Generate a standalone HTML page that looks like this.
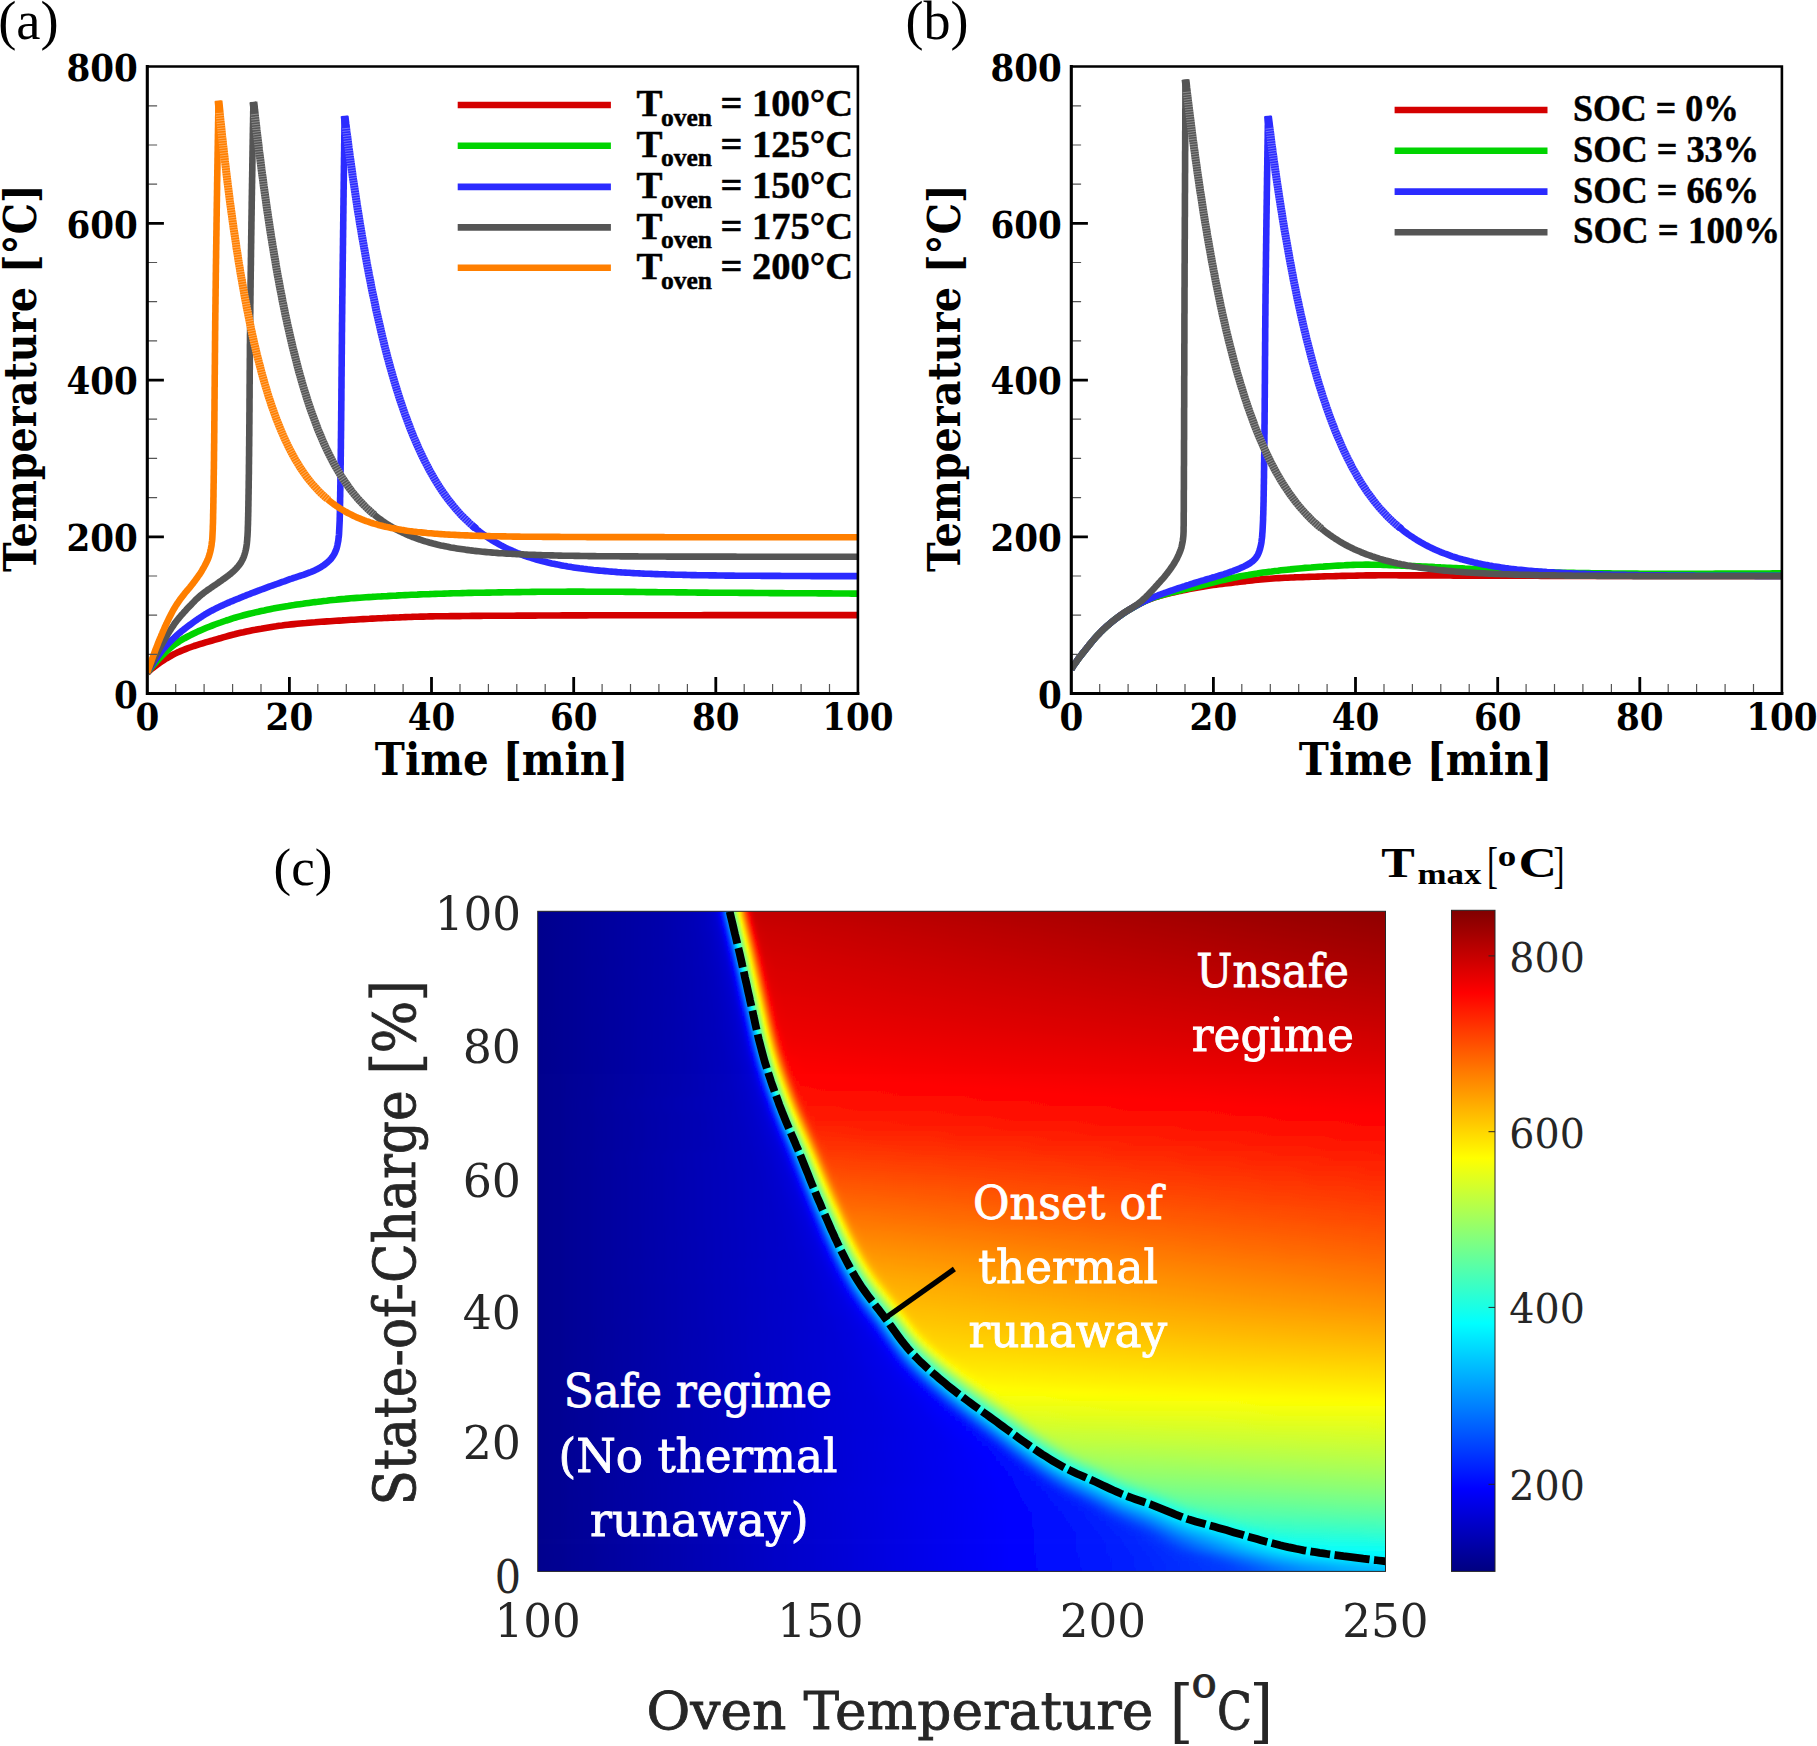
<!DOCTYPE html>
<html><head><meta charset="utf-8"><title>Figure</title>
<style>html,body{margin:0;padding:0;background:#fff}svg{display:block}</style></head>
<body><svg width="1817" height="1746" viewBox="0 0 1817 1746">
<rect width="1817" height="1746" fill="#fff"/>
<defs><clipPath id="c147"><rect x="147.3" y="66.5" width="710.6" height="627.0"/></clipPath>
<clipPath id="c1071"><rect x="1071.3" y="66.5" width="710.6" height="627.0"/></clipPath>
<linearGradient id="h0"><stop offset="0" stop-color="#00008d"/><stop offset=".1439" stop-color="#0000ab"/><stop offset=".184" stop-color="#0000b8"/><stop offset=".1982" stop-color="#0000c1"/><stop offset=".2076" stop-color="#0000ce"/><stop offset=".21" stop-color="#0000d5"/><stop offset=".2123" stop-color="#0000e2"/><stop offset=".2147" stop-color="#0000f8"/><stop offset=".217" stop-color="#001cff"/><stop offset=".2194" stop-color="#004aff"/><stop offset=".2265" stop-color="#00efff"/><stop offset=".2288" stop-color="#2affd5"/><stop offset=".2359" stop-color="#d5ff2a"/><stop offset=".2383" stop-color="#fff000"/><stop offset=".2453" stop-color="#ff4c00"/><stop offset=".2477" stop-color="#ff1c00"/><stop offset=".2501" stop-color="#f50000"/><stop offset=".2524" stop-color="#dc0000"/><stop offset=".2548" stop-color="#ce0000"/><stop offset=".2571" stop-color="#c80000"/><stop offset=".2642" stop-color="#c40000"/><stop offset="1" stop-color="#910000"/></linearGradient>
<linearGradient id="h1"><stop offset="0" stop-color="#00008d"/><stop offset=".1439" stop-color="#0000ab"/><stop offset=".184" stop-color="#0000b8"/><stop offset=".1982" stop-color="#0000c1"/><stop offset=".2076" stop-color="#0000ce"/><stop offset=".21" stop-color="#0000d5"/><stop offset=".2123" stop-color="#0000e2"/><stop offset=".2147" stop-color="#0000f8"/><stop offset=".217" stop-color="#001cff"/><stop offset=".2194" stop-color="#004aff"/><stop offset=".2265" stop-color="#00efff"/><stop offset=".2288" stop-color="#2affd5"/><stop offset=".2359" stop-color="#d5ff2a"/><stop offset=".2383" stop-color="#fff000"/><stop offset=".2453" stop-color="#ff4c00"/><stop offset=".2477" stop-color="#ff1c00"/><stop offset=".2501" stop-color="#f50000"/><stop offset=".2524" stop-color="#dc0000"/><stop offset=".2548" stop-color="#ce0000"/><stop offset=".2571" stop-color="#c80000"/><stop offset=".2642" stop-color="#c40000"/><stop offset="1" stop-color="#910000"/></linearGradient>
<linearGradient id="h2"><stop offset="0" stop-color="#00008d"/><stop offset=".1439" stop-color="#0000ab"/><stop offset=".184" stop-color="#0000b8"/><stop offset=".1982" stop-color="#0000c1"/><stop offset=".2076" stop-color="#0000ce"/><stop offset=".21" stop-color="#0000d5"/><stop offset=".2123" stop-color="#0000e2"/><stop offset=".2147" stop-color="#0000f8"/><stop offset=".217" stop-color="#001cff"/><stop offset=".2194" stop-color="#004aff"/><stop offset=".2265" stop-color="#00efff"/><stop offset=".2288" stop-color="#2affd5"/><stop offset=".2359" stop-color="#d5ff2a"/><stop offset=".2383" stop-color="#fff000"/><stop offset=".2453" stop-color="#ff4c00"/><stop offset=".2477" stop-color="#ff1c00"/><stop offset=".2501" stop-color="#f50000"/><stop offset=".2524" stop-color="#dc0000"/><stop offset=".2548" stop-color="#ce0000"/><stop offset=".2571" stop-color="#c80000"/><stop offset=".2642" stop-color="#c40000"/><stop offset="1" stop-color="#910000"/></linearGradient>
<linearGradient id="h3"><stop offset="0" stop-color="#00008d"/><stop offset=".1439" stop-color="#0000ab"/><stop offset=".184" stop-color="#0000b8"/><stop offset=".1982" stop-color="#0000c1"/><stop offset=".2076" stop-color="#0000ce"/><stop offset=".21" stop-color="#0000d5"/><stop offset=".2123" stop-color="#0000e2"/><stop offset=".2147" stop-color="#0000f8"/><stop offset=".217" stop-color="#001cff"/><stop offset=".2194" stop-color="#004aff"/><stop offset=".2265" stop-color="#00efff"/><stop offset=".2288" stop-color="#2affd5"/><stop offset=".2359" stop-color="#d5ff2a"/><stop offset=".2383" stop-color="#fff000"/><stop offset=".2453" stop-color="#ff4c00"/><stop offset=".2477" stop-color="#ff1c00"/><stop offset=".2501" stop-color="#f50000"/><stop offset=".2524" stop-color="#dc0000"/><stop offset=".2548" stop-color="#ce0000"/><stop offset=".2571" stop-color="#c80000"/><stop offset=".2642" stop-color="#c40000"/><stop offset="1" stop-color="#910000"/></linearGradient>
<linearGradient id="h4"><stop offset="0" stop-color="#00008d"/><stop offset=".1415" stop-color="#0000aa"/><stop offset=".1816" stop-color="#0000b6"/><stop offset=".1958" stop-color="#0000be"/><stop offset=".2052" stop-color="#0000c7"/><stop offset=".21" stop-color="#0000d1"/><stop offset=".2123" stop-color="#0000da"/><stop offset=".2147" stop-color="#0000ea"/><stop offset=".217" stop-color="#0007ff"/><stop offset=".2194" stop-color="#002fff"/><stop offset=".2218" stop-color="#0061ff"/><stop offset=".2265" stop-color="#00cfff"/><stop offset=".2288" stop-color="#0afff5"/><stop offset=".2383" stop-color="#ecff13"/><stop offset=".2406" stop-color="#ffda00"/><stop offset=".2453" stop-color="#ff6c00"/><stop offset=".2477" stop-color="#ff3900"/><stop offset=".2501" stop-color="#ff0d00"/><stop offset=".2524" stop-color="#eb0000"/><stop offset=".2548" stop-color="#d70000"/><stop offset=".2571" stop-color="#cd0000"/><stop offset=".2595" stop-color="#c90000"/><stop offset=".2666" stop-color="#c60000"/><stop offset="1" stop-color="#930000"/></linearGradient>
<linearGradient id="h5"><stop offset="0" stop-color="#00008d"/><stop offset=".1463" stop-color="#0000ab"/><stop offset=".1864" stop-color="#0000b8"/><stop offset=".2005" stop-color="#0000c1"/><stop offset=".21" stop-color="#0000cd"/><stop offset=".2123" stop-color="#0000d4"/><stop offset=".2147" stop-color="#0000e0"/><stop offset=".217" stop-color="#0000f5"/><stop offset=".2194" stop-color="#0017ff"/><stop offset=".2218" stop-color="#0044ff"/><stop offset=".2241" stop-color="#0078ff"/><stop offset=".2288" stop-color="#00e7ff"/><stop offset=".2312" stop-color="#22ffdd"/><stop offset=".2383" stop-color="#caff35"/><stop offset=".2406" stop-color="#fffc00"/><stop offset=".2477" stop-color="#ff5800"/><stop offset=".2501" stop-color="#ff2700"/><stop offset=".2524" stop-color="#fe0000"/><stop offset=".2548" stop-color="#e30000"/><stop offset=".2571" stop-color="#d40000"/><stop offset=".2619" stop-color="#cb0000"/><stop offset=".2666" stop-color="#c90000"/><stop offset="1" stop-color="#960000"/></linearGradient>
<linearGradient id="h6"><stop offset="0" stop-color="#00008d"/><stop offset=".1486" stop-color="#0000ac"/><stop offset=".1887" stop-color="#0000b9"/><stop offset=".2052" stop-color="#0000c5"/><stop offset=".2123" stop-color="#0000d0"/><stop offset=".2147" stop-color="#0000d9"/><stop offset=".217" stop-color="#0000e8"/><stop offset=".2194" stop-color="#0002ff"/><stop offset=".2218" stop-color="#0028ff"/><stop offset=".2241" stop-color="#0058ff"/><stop offset=".2288" stop-color="#00c6ff"/><stop offset=".2312" stop-color="#00f5ff"/><stop offset=".2335" stop-color="#37ffc8"/><stop offset=".2406" stop-color="#e0ff1f"/><stop offset=".243" stop-color="#ffe600"/><stop offset=".2477" stop-color="#ff7900"/><stop offset=".2501" stop-color="#ff4500"/><stop offset=".2524" stop-color="#ff1800"/><stop offset=".2548" stop-color="#f40000"/><stop offset=".2571" stop-color="#de0000"/><stop offset=".2595" stop-color="#d30000"/><stop offset=".2619" stop-color="#ce0000"/><stop offset=".2689" stop-color="#cb0000"/><stop offset="1" stop-color="#980000"/></linearGradient>
<linearGradient id="h7"><stop offset="0" stop-color="#00008d"/><stop offset=".1463" stop-color="#0000ab"/><stop offset=".1864" stop-color="#0000b7"/><stop offset=".2029" stop-color="#0000c1"/><stop offset=".2123" stop-color="#0000cd"/><stop offset=".2147" stop-color="#0000d3"/><stop offset=".217" stop-color="#0000de"/><stop offset=".2194" stop-color="#0000f1"/><stop offset=".2218" stop-color="#0011ff"/><stop offset=".2241" stop-color="#003bff"/><stop offset=".2265" stop-color="#006eff"/><stop offset=".2312" stop-color="#00dcff"/><stop offset=".2335" stop-color="#16ffe9"/><stop offset=".243" stop-color="#f5ff0a"/><stop offset=".2453" stop-color="#ffd100"/><stop offset=".2501" stop-color="#ff6500"/><stop offset=".2524" stop-color="#ff3300"/><stop offset=".2548" stop-color="#ff0a00"/><stop offset=".2571" stop-color="#eb0000"/><stop offset=".2595" stop-color="#da0000"/><stop offset=".2619" stop-color="#d20000"/><stop offset=".2713" stop-color="#cd0000"/><stop offset="1" stop-color="#9b0000"/></linearGradient>
<linearGradient id="h8"><stop offset="0" stop-color="#00008d"/><stop offset=".1486" stop-color="#0000ac"/><stop offset=".1911" stop-color="#0000b9"/><stop offset=".2052" stop-color="#0000c2"/><stop offset=".2147" stop-color="#0000d0"/><stop offset=".217" stop-color="#0000d7"/><stop offset=".2194" stop-color="#0000e5"/><stop offset=".2218" stop-color="#0000fc"/><stop offset=".2241" stop-color="#0021ff"/><stop offset=".2265" stop-color="#004fff"/><stop offset=".2335" stop-color="#00efff"/><stop offset=".2359" stop-color="#2cffd3"/><stop offset=".243" stop-color="#d3ff2c"/><stop offset=".2453" stop-color="#fff300"/><stop offset=".2524" stop-color="#ff5200"/><stop offset=".2548" stop-color="#ff2300"/><stop offset=".2571" stop-color="#fd0000"/><stop offset=".2595" stop-color="#e50000"/><stop offset=".2619" stop-color="#d80000"/><stop offset=".2642" stop-color="#d30000"/><stop offset=".2713" stop-color="#cf0000"/><stop offset="1" stop-color="#9d0000"/></linearGradient>
<linearGradient id="h9"><stop offset="0" stop-color="#00008d"/><stop offset=".1486" stop-color="#0000ac"/><stop offset=".1887" stop-color="#0000b8"/><stop offset=".2029" stop-color="#0000c0"/><stop offset=".2123" stop-color="#0000c9"/><stop offset=".217" stop-color="#0000d2"/><stop offset=".2194" stop-color="#0000dc"/><stop offset=".2218" stop-color="#0000ed"/><stop offset=".2241" stop-color="#000aff"/><stop offset=".2265" stop-color="#0032ff"/><stop offset=".2288" stop-color="#0064ff"/><stop offset=".2335" stop-color="#00d1ff"/><stop offset=".2359" stop-color="#0afff5"/><stop offset=".2453" stop-color="#e9ff16"/><stop offset=".2477" stop-color="#ffde00"/><stop offset=".2524" stop-color="#ff7100"/><stop offset=".2548" stop-color="#ff3f00"/><stop offset=".2571" stop-color="#ff1400"/><stop offset=".2595" stop-color="#f30000"/><stop offset=".2619" stop-color="#e00000"/><stop offset=".2642" stop-color="#d70000"/><stop offset=".2666" stop-color="#d30000"/><stop offset=".2736" stop-color="#d00000"/><stop offset="1" stop-color="#a00000"/></linearGradient>
<linearGradient id="h10"><stop offset="0" stop-color="#00008d"/><stop offset=".151" stop-color="#0000ac"/><stop offset=".1934" stop-color="#0000b9"/><stop offset=".2076" stop-color="#0000c3"/><stop offset=".217" stop-color="#0000cf"/><stop offset=".2194" stop-color="#0000d6"/><stop offset=".2218" stop-color="#0000e2"/><stop offset=".2241" stop-color="#0000f7"/><stop offset=".2265" stop-color="#0019ff"/><stop offset=".2288" stop-color="#0046ff"/><stop offset=".2312" stop-color="#0079ff"/><stop offset=".2359" stop-color="#00e7ff"/><stop offset=".2383" stop-color="#22ffdd"/><stop offset=".2477" stop-color="#ffff00"/><stop offset=".2548" stop-color="#ff5d00"/><stop offset=".2571" stop-color="#ff2d00"/><stop offset=".2595" stop-color="#ff0700"/><stop offset=".2619" stop-color="#eb0000"/><stop offset=".2642" stop-color="#dd0000"/><stop offset=".2666" stop-color="#d70000"/><stop offset=".276" stop-color="#d20000"/><stop offset="1" stop-color="#a20000"/></linearGradient>
<linearGradient id="h11"><stop offset="0" stop-color="#00008d"/><stop offset=".1486" stop-color="#0000ac"/><stop offset=".1887" stop-color="#0000b7"/><stop offset=".2029" stop-color="#0000be"/><stop offset=".2147" stop-color="#0000c9"/><stop offset=".2194" stop-color="#0000d2"/><stop offset=".2218" stop-color="#0000da"/><stop offset=".2241" stop-color="#0000ea"/><stop offset=".2265" stop-color="#0005ff"/><stop offset=".2288" stop-color="#002bff"/><stop offset=".2312" stop-color="#005bff"/><stop offset=".2383" stop-color="#00fcff"/><stop offset=".2406" stop-color="#38ffc7"/><stop offset=".2477" stop-color="#deff21"/><stop offset=".2501" stop-color="#ffe800"/><stop offset=".2548" stop-color="#ff7c00"/><stop offset=".2571" stop-color="#ff4900"/><stop offset=".2595" stop-color="#ff1d00"/><stop offset=".2619" stop-color="#fa0000"/><stop offset=".2642" stop-color="#e60000"/><stop offset=".2666" stop-color="#dc0000"/><stop offset=".2689" stop-color="#d70000"/><stop offset=".276" stop-color="#d40000"/><stop offset="1" stop-color="#a50000"/></linearGradient>
<linearGradient id="h12"><stop offset="0" stop-color="#00008d"/><stop offset=".151" stop-color="#0000ac"/><stop offset=".1934" stop-color="#0000b9"/><stop offset=".21" stop-color="#0000c3"/><stop offset=".2194" stop-color="#0000cf"/><stop offset=".2218" stop-color="#0000d5"/><stop offset=".2241" stop-color="#0000e0"/><stop offset=".2265" stop-color="#0000f3"/><stop offset=".2288" stop-color="#0013ff"/><stop offset=".2312" stop-color="#003fff"/><stop offset=".2335" stop-color="#0071ff"/><stop offset=".2383" stop-color="#00dfff"/><stop offset=".2406" stop-color="#1affe5"/><stop offset=".243" stop-color="#4fffb0"/><stop offset=".2501" stop-color="#f5ff0a"/><stop offset=".2524" stop-color="#ffd100"/><stop offset=".2571" stop-color="#ff6700"/><stop offset=".2595" stop-color="#ff3600"/><stop offset=".2619" stop-color="#ff0e00"/><stop offset=".2642" stop-color="#f10000"/><stop offset=".2666" stop-color="#e20000"/><stop offset=".2689" stop-color="#db0000"/><stop offset=".2784" stop-color="#d60000"/><stop offset="1" stop-color="#a70000"/></linearGradient>
<linearGradient id="h13"><stop offset="0" stop-color="#00008d"/><stop offset=".1557" stop-color="#0000ad"/><stop offset=".1982" stop-color="#0000bb"/><stop offset=".2123" stop-color="#0000c4"/><stop offset=".2218" stop-color="#0000d1"/><stop offset=".2241" stop-color="#0000d9"/><stop offset=".2265" stop-color="#0000e7"/><stop offset=".2288" stop-color="#0001ff"/><stop offset=".2312" stop-color="#0025ff"/><stop offset=".2335" stop-color="#0054ff"/><stop offset=".2406" stop-color="#00f4ff"/><stop offset=".243" stop-color="#2fffd0"/><stop offset=".2501" stop-color="#d6ff29"/><stop offset=".2524" stop-color="#fff100"/><stop offset=".2571" stop-color="#ff8500"/><stop offset=".2595" stop-color="#ff5200"/><stop offset=".2619" stop-color="#ff2400"/><stop offset=".2642" stop-color="#ff0200"/><stop offset=".2666" stop-color="#eb0000"/><stop offset=".2689" stop-color="#e00000"/><stop offset=".2713" stop-color="#db0000"/><stop offset=".2807" stop-color="#d70000"/><stop offset="1" stop-color="#aa0000"/></linearGradient>
<linearGradient id="h14"><stop offset="0" stop-color="#00008d"/><stop offset=".1533" stop-color="#0000ad"/><stop offset=".1958" stop-color="#0000b9"/><stop offset=".2123" stop-color="#0000c3"/><stop offset=".2218" stop-color="#0000cf"/><stop offset=".2241" stop-color="#0000d5"/><stop offset=".2265" stop-color="#0000df"/><stop offset=".2288" stop-color="#0000f1"/><stop offset=".2312" stop-color="#000fff"/><stop offset=".2335" stop-color="#0039ff"/><stop offset=".2359" stop-color="#006bff"/><stop offset=".2406" stop-color="#00d8ff"/><stop offset=".243" stop-color="#12ffed"/><stop offset=".2524" stop-color="#eeff11"/><stop offset=".2548" stop-color="#ffd900"/><stop offset=".2595" stop-color="#ff6e00"/><stop offset=".2619" stop-color="#ff3e00"/><stop offset=".2642" stop-color="#ff1500"/><stop offset=".2666" stop-color="#f70000"/><stop offset=".2689" stop-color="#e60000"/><stop offset=".2713" stop-color="#df0000"/><stop offset=".2807" stop-color="#d90000"/><stop offset="1" stop-color="#ac0000"/></linearGradient>
<linearGradient id="h15"><stop offset="0" stop-color="#00008d"/><stop offset=".1581" stop-color="#0000ae"/><stop offset=".2005" stop-color="#0000bb"/><stop offset=".2147" stop-color="#0000c4"/><stop offset=".2241" stop-color="#0000d1"/><stop offset=".2265" stop-color="#0000d9"/><stop offset=".2288" stop-color="#0000e6"/><stop offset=".2312" stop-color="#0000fd"/><stop offset=".2335" stop-color="#0021ff"/><stop offset=".2359" stop-color="#004fff"/><stop offset=".243" stop-color="#00edff"/><stop offset=".2453" stop-color="#29ffd6"/><stop offset=".2524" stop-color="#cfff30"/><stop offset=".2548" stop-color="#fff800"/><stop offset=".2595" stop-color="#ff8c00"/><stop offset=".2619" stop-color="#ff5900"/><stop offset=".2642" stop-color="#ff2b00"/><stop offset=".2666" stop-color="#ff0700"/><stop offset=".2689" stop-color="#ef0000"/><stop offset=".2713" stop-color="#e40000"/><stop offset=".2736" stop-color="#de0000"/><stop offset=".2831" stop-color="#db0000"/><stop offset="1" stop-color="#af0000"/></linearGradient>
<linearGradient id="h16"><stop offset="0" stop-color="#00008d"/><stop offset=".1557" stop-color="#0000ad"/><stop offset=".1982" stop-color="#0000b9"/><stop offset=".2123" stop-color="#0000c1"/><stop offset=".2218" stop-color="#0000cb"/><stop offset=".2265" stop-color="#0000d4"/><stop offset=".2288" stop-color="#0000de"/><stop offset=".2312" stop-color="#0000ef"/><stop offset=".2335" stop-color="#000cff"/><stop offset=".2359" stop-color="#0035ff"/><stop offset=".2383" stop-color="#0066ff"/><stop offset=".243" stop-color="#00d2ff"/><stop offset=".2453" stop-color="#0bfff4"/><stop offset=".2548" stop-color="#e7ff18"/><stop offset=".2571" stop-color="#ffe000"/><stop offset=".2619" stop-color="#ff7600"/><stop offset=".2642" stop-color="#ff4400"/><stop offset=".2666" stop-color="#ff1b00"/><stop offset=".2689" stop-color="#fc0000"/><stop offset=".2713" stop-color="#ea0000"/><stop offset=".2736" stop-color="#e20000"/><stop offset=".276" stop-color="#df0000"/><stop offset=".2831" stop-color="#dc0000"/><stop offset="1" stop-color="#b20000"/></linearGradient>
<linearGradient id="h17"><stop offset="0" stop-color="#00008d"/><stop offset=".1581" stop-color="#0000ae"/><stop offset=".2005" stop-color="#0000ba"/><stop offset=".217" stop-color="#0000c5"/><stop offset=".2265" stop-color="#0000d1"/><stop offset=".2288" stop-color="#0000d8"/><stop offset=".2312" stop-color="#0000e5"/><stop offset=".2335" stop-color="#0000fa"/><stop offset=".2359" stop-color="#001dff"/><stop offset=".2383" stop-color="#004aff"/><stop offset=".2406" stop-color="#007dff"/><stop offset=".2453" stop-color="#00eaff"/><stop offset=".2477" stop-color="#24ffdb"/><stop offset=".2571" stop-color="#ffff00"/><stop offset=".2619" stop-color="#ff9300"/><stop offset=".2642" stop-color="#ff6000"/><stop offset=".2666" stop-color="#ff3200"/><stop offset=".2689" stop-color="#ff0d00"/><stop offset=".2713" stop-color="#f40000"/><stop offset=".2736" stop-color="#e70000"/><stop offset=".276" stop-color="#e20000"/><stop offset=".2854" stop-color="#de0000"/><stop offset="1" stop-color="#b40000"/></linearGradient>
<linearGradient id="h18"><stop offset="0" stop-color="#00008d"/><stop offset=".1557" stop-color="#0000ad"/><stop offset=".1982" stop-color="#0000b9"/><stop offset=".2123" stop-color="#0000c0"/><stop offset=".2241" stop-color="#0000cb"/><stop offset=".2288" stop-color="#0000d4"/><stop offset=".2312" stop-color="#0000dd"/><stop offset=".2335" stop-color="#0000ed"/><stop offset=".2359" stop-color="#000aff"/><stop offset=".2383" stop-color="#0031ff"/><stop offset=".2406" stop-color="#0061ff"/><stop offset=".2453" stop-color="#00ccff"/><stop offset=".2477" stop-color="#05fffa"/><stop offset=".2571" stop-color="#e1ff1e"/><stop offset=".2595" stop-color="#ffe700"/><stop offset=".2642" stop-color="#ff7d00"/><stop offset=".2666" stop-color="#ff4b00"/><stop offset=".2689" stop-color="#ff2100"/><stop offset=".2713" stop-color="#ff0200"/><stop offset=".2736" stop-color="#ef0000"/><stop offset=".276" stop-color="#e60000"/><stop offset=".2784" stop-color="#e20000"/><stop offset=".2878" stop-color="#df0000"/><stop offset="1" stop-color="#b70000"/></linearGradient>
<linearGradient id="h19"><stop offset="0" stop-color="#00008d"/><stop offset=".1604" stop-color="#0000ae"/><stop offset=".2029" stop-color="#0000bb"/><stop offset=".2194" stop-color="#0000c5"/><stop offset=".2288" stop-color="#0000d1"/><stop offset=".2312" stop-color="#0000d8"/><stop offset=".2335" stop-color="#0000e4"/><stop offset=".2359" stop-color="#0000f8"/><stop offset=".2383" stop-color="#001aff"/><stop offset=".2406" stop-color="#0046ff"/><stop offset=".243" stop-color="#0079ff"/><stop offset=".2477" stop-color="#00e6ff"/><stop offset=".2501" stop-color="#1fffe0"/><stop offset=".2595" stop-color="#f8ff07"/><stop offset=".2619" stop-color="#ffd000"/><stop offset=".2666" stop-color="#ff6700"/><stop offset=".2689" stop-color="#ff3800"/><stop offset=".2713" stop-color="#ff1300"/><stop offset=".2736" stop-color="#f90000"/><stop offset=".276" stop-color="#eb0000"/><stop offset=".2784" stop-color="#e50000"/><stop offset=".2878" stop-color="#e10000"/><stop offset="1" stop-color="#b90000"/></linearGradient>
<linearGradient id="h20"><stop offset="0" stop-color="#00008d"/><stop offset=".1581" stop-color="#0000ae"/><stop offset=".2005" stop-color="#0000b9"/><stop offset=".2147" stop-color="#0000c1"/><stop offset=".2265" stop-color="#0000cb"/><stop offset=".2312" stop-color="#0000d4"/><stop offset=".2335" stop-color="#0000dd"/><stop offset=".2359" stop-color="#0000ec"/><stop offset=".2383" stop-color="#0007ff"/><stop offset=".2406" stop-color="#002dff"/><stop offset=".243" stop-color="#005cff"/><stop offset=".2501" stop-color="#00fbff"/><stop offset=".2524" stop-color="#36ffc9"/><stop offset=".2595" stop-color="#d9ff26"/><stop offset=".2619" stop-color="#ffef00"/><stop offset=".2666" stop-color="#ff8400"/><stop offset=".2689" stop-color="#ff5300"/><stop offset=".2713" stop-color="#ff2800"/><stop offset=".2736" stop-color="#ff0800"/><stop offset=".276" stop-color="#f30000"/><stop offset=".2784" stop-color="#ea0000"/><stop offset=".2807" stop-color="#e60000"/><stop offset=".2902" stop-color="#e30000"/><stop offset="1" stop-color="#bc0000"/></linearGradient>
<linearGradient id="h21"><stop offset="0" stop-color="#00008d"/><stop offset=".1628" stop-color="#0000af"/><stop offset=".2052" stop-color="#0000bb"/><stop offset=".2218" stop-color="#0000c5"/><stop offset=".2312" stop-color="#0000d1"/><stop offset=".2335" stop-color="#0000d8"/><stop offset=".2359" stop-color="#0000e3"/><stop offset=".2383" stop-color="#0000f6"/><stop offset=".2406" stop-color="#0017ff"/><stop offset=".243" stop-color="#0041ff"/><stop offset=".2453" stop-color="#0074ff"/><stop offset=".2501" stop-color="#00e0ff"/><stop offset=".2524" stop-color="#19ffe6"/><stop offset=".2619" stop-color="#f0ff0f"/><stop offset=".2642" stop-color="#ffd700"/><stop offset=".2689" stop-color="#ff6f00"/><stop offset=".2713" stop-color="#ff4000"/><stop offset=".2736" stop-color="#ff1900"/><stop offset=".276" stop-color="#fe0000"/><stop offset=".2784" stop-color="#f00000"/><stop offset=".2807" stop-color="#e90000"/><stop offset=".2902" stop-color="#e40000"/><stop offset="1" stop-color="#bf0000"/></linearGradient>
<linearGradient id="h22"><stop offset="0" stop-color="#00008d"/><stop offset=".1604" stop-color="#0000ae"/><stop offset=".2029" stop-color="#0000ba"/><stop offset=".217" stop-color="#0000c1"/><stop offset=".2288" stop-color="#0000cb"/><stop offset=".2335" stop-color="#0000d4"/><stop offset=".2359" stop-color="#0000dc"/><stop offset=".2383" stop-color="#0000ea"/><stop offset=".2406" stop-color="#0004ff"/><stop offset=".243" stop-color="#0029ff"/><stop offset=".2453" stop-color="#0057ff"/><stop offset=".2524" stop-color="#00f4ff"/><stop offset=".2548" stop-color="#2fffd0"/><stop offset=".2619" stop-color="#d2ff2d"/><stop offset=".2642" stop-color="#fff600"/><stop offset=".2689" stop-color="#ff8c00"/><stop offset=".2713" stop-color="#ff5a00"/><stop offset=".2736" stop-color="#ff2e00"/><stop offset=".276" stop-color="#ff0d00"/><stop offset=".2784" stop-color="#f80000"/><stop offset=".2807" stop-color="#ed0000"/><stop offset=".2831" stop-color="#e90000"/><stop offset=".2925" stop-color="#e60000"/><stop offset="1" stop-color="#c10000"/></linearGradient>
<linearGradient id="h23"><stop offset="0" stop-color="#00008d"/><stop offset=".1651" stop-color="#0000af"/><stop offset=".2076" stop-color="#0000bb"/><stop offset=".2241" stop-color="#0000c5"/><stop offset=".2335" stop-color="#0000d1"/><stop offset=".2359" stop-color="#0000d7"/><stop offset=".2383" stop-color="#0000e2"/><stop offset=".2406" stop-color="#0000f4"/><stop offset=".243" stop-color="#0013ff"/><stop offset=".2453" stop-color="#003dff"/><stop offset=".2477" stop-color="#006eff"/><stop offset=".2524" stop-color="#00daff"/><stop offset=".2548" stop-color="#12ffed"/><stop offset=".2642" stop-color="#eaff15"/><stop offset=".2666" stop-color="#ffdf00"/><stop offset=".2713" stop-color="#ff7600"/><stop offset=".2736" stop-color="#ff4700"/><stop offset=".276" stop-color="#ff1f00"/><stop offset=".2784" stop-color="#ff0400"/><stop offset=".2807" stop-color="#f40000"/><stop offset=".2831" stop-color="#ec0000"/><stop offset=".2854" stop-color="#ea0000"/><stop offset=".2949" stop-color="#e70000"/><stop offset="1" stop-color="#c40000"/></linearGradient>
<linearGradient id="h24"><stop offset="0" stop-color="#00008d"/><stop offset=".1675" stop-color="#0000b0"/><stop offset=".21" stop-color="#0000bc"/><stop offset=".2241" stop-color="#0000c5"/><stop offset=".2335" stop-color="#0000cf"/><stop offset=".2383" stop-color="#0000db"/><stop offset=".2406" stop-color="#0000e9"/><stop offset=".243" stop-color="#0001ff"/><stop offset=".2453" stop-color="#0025ff"/><stop offset=".2477" stop-color="#0052ff"/><stop offset=".2548" stop-color="#00eeff"/><stop offset=".2571" stop-color="#29ffd6"/><stop offset=".2666" stop-color="#fffd00"/><stop offset=".2713" stop-color="#ff9300"/><stop offset=".2736" stop-color="#ff6100"/><stop offset=".276" stop-color="#ff3500"/><stop offset=".2784" stop-color="#ff1300"/><stop offset=".2807" stop-color="#fc0000"/><stop offset=".2831" stop-color="#f10000"/><stop offset=".2854" stop-color="#ec0000"/><stop offset=".2949" stop-color="#e90000"/><stop offset="1" stop-color="#c70000"/></linearGradient>
<linearGradient id="h25"><stop offset="0" stop-color="#00008d"/><stop offset=".1651" stop-color="#0000af"/><stop offset=".2076" stop-color="#0000bb"/><stop offset=".2241" stop-color="#0000c4"/><stop offset=".2335" stop-color="#0000cd"/><stop offset=".2383" stop-color="#0000d7"/><stop offset=".2406" stop-color="#0000e1"/><stop offset=".243" stop-color="#0000f2"/><stop offset=".2453" stop-color="#0010ff"/><stop offset=".2477" stop-color="#0038ff"/><stop offset=".2501" stop-color="#0069ff"/><stop offset=".2548" stop-color="#00d3ff"/><stop offset=".2571" stop-color="#0bfff4"/><stop offset=".2666" stop-color="#e3ff1c"/><stop offset=".2689" stop-color="#ffe600"/><stop offset=".2736" stop-color="#ff7e00"/><stop offset=".276" stop-color="#ff4e00"/><stop offset=".2784" stop-color="#ff2600"/><stop offset=".2807" stop-color="#ff0900"/><stop offset=".2831" stop-color="#f80000"/><stop offset=".2854" stop-color="#f00000"/><stop offset=".2878" stop-color="#ed0000"/><stop offset=".2972" stop-color="#eb0000"/><stop offset="1" stop-color="#c90000"/></linearGradient>
<linearGradient id="h26"><stop offset="0" stop-color="#00008d"/><stop offset=".1699" stop-color="#0000b0"/><stop offset=".2123" stop-color="#0000bd"/><stop offset=".2288" stop-color="#0000c7"/><stop offset=".2383" stop-color="#0000d4"/><stop offset=".2406" stop-color="#0000db"/><stop offset=".243" stop-color="#0000e8"/><stop offset=".2453" stop-color="#0000fe"/><stop offset=".2477" stop-color="#0021ff"/><stop offset=".2501" stop-color="#004eff"/><stop offset=".2571" stop-color="#00eaff"/><stop offset=".2595" stop-color="#23ffdc"/><stop offset=".2689" stop-color="#f9ff06"/><stop offset=".2713" stop-color="#ffd000"/><stop offset=".276" stop-color="#ff6a00"/><stop offset=".2784" stop-color="#ff3d00"/><stop offset=".2807" stop-color="#ff1a00"/><stop offset=".2831" stop-color="#ff0300"/><stop offset=".2854" stop-color="#f60000"/><stop offset=".2902" stop-color="#ee0000"/><stop offset=".2996" stop-color="#ec0000"/><stop offset="1" stop-color="#cc0000"/></linearGradient>
<linearGradient id="h27"><stop offset="0" stop-color="#00008d"/><stop offset=".1675" stop-color="#0000b0"/><stop offset=".21" stop-color="#0000bb"/><stop offset=".2241" stop-color="#0000c3"/><stop offset=".2359" stop-color="#0000cd"/><stop offset=".2406" stop-color="#0000d7"/><stop offset=".243" stop-color="#0000e0"/><stop offset=".2453" stop-color="#0000f0"/><stop offset=".2477" stop-color="#000dff"/><stop offset=".2501" stop-color="#0034ff"/><stop offset=".2524" stop-color="#0063ff"/><stop offset=".2571" stop-color="#00ccff"/><stop offset=".2595" stop-color="#04fffb"/><stop offset=".2689" stop-color="#daff25"/><stop offset=".2713" stop-color="#ffef00"/><stop offset=".276" stop-color="#ff8800"/><stop offset=".2784" stop-color="#ff5800"/><stop offset=".2807" stop-color="#ff2e00"/><stop offset=".2831" stop-color="#ff1000"/><stop offset=".2854" stop-color="#fd0000"/><stop offset=".2878" stop-color="#f50000"/><stop offset=".2902" stop-color="#f10000"/><stop offset=".2996" stop-color="#ee0000"/><stop offset="1" stop-color="#cf0000"/></linearGradient>
<linearGradient id="h28"><stop offset="0" stop-color="#00008d"/><stop offset=".1722" stop-color="#0000b1"/><stop offset=".2147" stop-color="#0000bd"/><stop offset=".2312" stop-color="#0000c7"/><stop offset=".2406" stop-color="#0000d3"/><stop offset=".243" stop-color="#0000da"/><stop offset=".2453" stop-color="#0000e6"/><stop offset=".2477" stop-color="#0000fb"/><stop offset=".2501" stop-color="#001cff"/><stop offset=".2524" stop-color="#0047ff"/><stop offset=".2548" stop-color="#0079ff"/><stop offset=".2595" stop-color="#00e3ff"/><stop offset=".2619" stop-color="#1cffe3"/><stop offset=".2713" stop-color="#eeff11"/><stop offset=".2736" stop-color="#ffdb00"/><stop offset=".2784" stop-color="#ff7500"/><stop offset=".2807" stop-color="#ff4800"/><stop offset=".2831" stop-color="#ff2300"/><stop offset=".2854" stop-color="#ff0a00"/><stop offset=".2878" stop-color="#fb0000"/><stop offset=".2925" stop-color="#f20000"/><stop offset=".302" stop-color="#f00000"/><stop offset="1" stop-color="#d20000"/></linearGradient>
<linearGradient id="h29"><stop offset="0" stop-color="#00008d"/><stop offset=".1699" stop-color="#0000b0"/><stop offset=".2123" stop-color="#0000bc"/><stop offset=".2265" stop-color="#0000c3"/><stop offset=".2383" stop-color="#0000cd"/><stop offset=".243" stop-color="#0000d6"/><stop offset=".2453" stop-color="#0000df"/><stop offset=".2477" stop-color="#0000ee"/><stop offset=".2501" stop-color="#0008ff"/><stop offset=".2524" stop-color="#002dff"/><stop offset=".2548" stop-color="#005bff"/><stop offset=".2619" stop-color="#00f7ff"/><stop offset=".2642" stop-color="#2effd1"/><stop offset=".2736" stop-color="#fffd00"/><stop offset=".2784" stop-color="#ff9600"/><stop offset=".2807" stop-color="#ff6500"/><stop offset=".2831" stop-color="#ff3b00"/><stop offset=".2854" stop-color="#ff1a00"/><stop offset=".2878" stop-color="#ff0500"/><stop offset=".2902" stop-color="#fa0000"/><stop offset=".2949" stop-color="#f30000"/><stop offset=".3043" stop-color="#f20000"/><stop offset="1" stop-color="#d40000"/></linearGradient>
<linearGradient id="h30"><stop offset="0" stop-color="#00008d"/><stop offset=".1722" stop-color="#0000b1"/><stop offset=".2147" stop-color="#0000bc"/><stop offset=".2312" stop-color="#0000c6"/><stop offset=".2406" stop-color="#0000cf"/><stop offset=".2453" stop-color="#0000d9"/><stop offset=".2477" stop-color="#0000e4"/><stop offset=".2501" stop-color="#0000f6"/><stop offset=".2524" stop-color="#0015ff"/><stop offset=".2548" stop-color="#003eff"/><stop offset=".2571" stop-color="#006eff"/><stop offset=".2619" stop-color="#00d7ff"/><stop offset=".2642" stop-color="#10ffef"/><stop offset=".2666" stop-color="#41ffbe"/><stop offset=".2736" stop-color="#deff21"/><stop offset=".276" stop-color="#ffec00"/><stop offset=".2807" stop-color="#ff8600"/><stop offset=".2831" stop-color="#ff5800"/><stop offset=".2854" stop-color="#ff3000"/><stop offset=".2878" stop-color="#ff1400"/><stop offset=".2902" stop-color="#ff0300"/><stop offset=".2925" stop-color="#fa0000"/><stop offset=".2972" stop-color="#f50000"/><stop offset=".3067" stop-color="#f40000"/><stop offset="1" stop-color="#d70000"/></linearGradient>
<linearGradient id="h31"><stop offset="0" stop-color="#00008d"/><stop offset=".1746" stop-color="#0000b1"/><stop offset=".2194" stop-color="#0000be"/><stop offset=".2335" stop-color="#0000c7"/><stop offset=".243" stop-color="#0000d1"/><stop offset=".2477" stop-color="#0000dd"/><stop offset=".2501" stop-color="#0000ea"/><stop offset=".2524" stop-color="#0001ff"/><stop offset=".2548" stop-color="#0023ff"/><stop offset=".2571" stop-color="#004eff"/><stop offset=".2642" stop-color="#00e7ff"/><stop offset=".2666" stop-color="#1effe1"/><stop offset=".276" stop-color="#eeff11"/><stop offset=".2784" stop-color="#ffdc00"/><stop offset=".2831" stop-color="#ff7900"/><stop offset=".2854" stop-color="#ff4d00"/><stop offset=".2878" stop-color="#ff2800"/><stop offset=".2902" stop-color="#ff0f00"/><stop offset=".2925" stop-color="#ff0200"/><stop offset=".2949" stop-color="#fa0000"/><stop offset=".2996" stop-color="#f70000"/><stop offset=".309" stop-color="#f60000"/><stop offset="1" stop-color="#da0000"/></linearGradient>
<linearGradient id="h32"><stop offset="0" stop-color="#00008d"/><stop offset=".1746" stop-color="#0000b1"/><stop offset=".217" stop-color="#0000bd"/><stop offset=".2312" stop-color="#0000c4"/><stop offset=".243" stop-color="#0000cf"/><stop offset=".2477" stop-color="#0000d8"/><stop offset=".2501" stop-color="#0000e1"/><stop offset=".2524" stop-color="#0000f0"/><stop offset=".2548" stop-color="#000bff"/><stop offset=".2571" stop-color="#0030ff"/><stop offset=".2595" stop-color="#005eff"/><stop offset=".2666" stop-color="#00f6ff"/><stop offset=".2689" stop-color="#2effd1"/><stop offset=".2784" stop-color="#fcff03"/><stop offset=".2807" stop-color="#ffd000"/><stop offset=".2854" stop-color="#ff6e00"/><stop offset=".2878" stop-color="#ff4400"/><stop offset=".2902" stop-color="#ff2300"/><stop offset=".2925" stop-color="#ff0d00"/><stop offset=".2949" stop-color="#ff0200"/><stop offset=".2972" stop-color="#fc0000"/><stop offset=".3114" stop-color="#f80000"/><stop offset="1" stop-color="#dd0000"/></linearGradient>
<linearGradient id="h33"><stop offset="0" stop-color="#00008d"/><stop offset=".1746" stop-color="#0000b1"/><stop offset=".2194" stop-color="#0000bd"/><stop offset=".2359" stop-color="#0000c7"/><stop offset=".2453" stop-color="#0000d0"/><stop offset=".2501" stop-color="#0000da"/><stop offset=".2524" stop-color="#0000e5"/><stop offset=".2548" stop-color="#0000f7"/><stop offset=".2571" stop-color="#0015ff"/><stop offset=".2595" stop-color="#003dff"/><stop offset=".2619" stop-color="#006cff"/><stop offset=".2666" stop-color="#00d2ff"/><stop offset=".2689" stop-color="#08fff7"/><stop offset=".2784" stop-color="#d4ff2b"/><stop offset=".2807" stop-color="#fff700"/><stop offset=".2854" stop-color="#ff9400"/><stop offset=".2878" stop-color="#ff6500"/><stop offset=".2902" stop-color="#ff3d00"/><stop offset=".2925" stop-color="#ff1f00"/><stop offset=".2949" stop-color="#ff0c00"/><stop offset=".2972" stop-color="#ff0200"/><stop offset=".2996" stop-color="#fd0000"/><stop offset=".3138" stop-color="#fa0000"/><stop offset="1" stop-color="#e00000"/></linearGradient>
<linearGradient id="h34"><stop offset="0" stop-color="#00008d"/><stop offset=".1793" stop-color="#0000b2"/><stop offset=".2241" stop-color="#0000bf"/><stop offset=".2383" stop-color="#0000c7"/><stop offset=".2477" stop-color="#0000d1"/><stop offset=".2524" stop-color="#0000dd"/><stop offset=".2548" stop-color="#0000e9"/><stop offset=".2571" stop-color="#0000fe"/><stop offset=".2595" stop-color="#001fff"/><stop offset=".2619" stop-color="#0049ff"/><stop offset=".2689" stop-color="#00deff"/><stop offset=".2713" stop-color="#15ffea"/><stop offset=".2807" stop-color="#deff21"/><stop offset=".2831" stop-color="#ffed00"/><stop offset=".2878" stop-color="#ff8b00"/><stop offset=".2902" stop-color="#ff5e00"/><stop offset=".2925" stop-color="#ff3800"/><stop offset=".2949" stop-color="#ff1c00"/><stop offset=".2972" stop-color="#ff0c00"/><stop offset=".2996" stop-color="#ff0300"/><stop offset=".302" stop-color="#ff0000"/><stop offset=".3161" stop-color="#fc0000"/><stop offset="1" stop-color="#e30000"/></linearGradient>
<linearGradient id="h35"><stop offset="0" stop-color="#00008d"/><stop offset=".1746" stop-color="#0000b1"/><stop offset=".2194" stop-color="#0000bd"/><stop offset=".2359" stop-color="#0000c5"/><stop offset=".2477" stop-color="#0000cf"/><stop offset=".2524" stop-color="#0000d8"/><stop offset=".2548" stop-color="#0000e0"/><stop offset=".2571" stop-color="#0000ee"/><stop offset=".2595" stop-color="#0006ff"/><stop offset=".2619" stop-color="#0028ff"/><stop offset=".2642" stop-color="#0053ff"/><stop offset=".2666" stop-color="#0083ff"/><stop offset=".2713" stop-color="#00e9ff"/><stop offset=".2736" stop-color="#1dffe2"/><stop offset=".2831" stop-color="#e7ff18"/><stop offset=".2854" stop-color="#ffe500"/><stop offset=".2902" stop-color="#ff8500"/><stop offset=".2925" stop-color="#ff5900"/><stop offset=".2949" stop-color="#ff3400"/><stop offset=".2972" stop-color="#ff1b00"/><stop offset=".2996" stop-color="#ff0c00"/><stop offset=".302" stop-color="#ff0500"/><stop offset=".3067" stop-color="#ff0000"/><stop offset="1" stop-color="#e60000"/></linearGradient>
<linearGradient id="h36"><stop offset="0" stop-color="#00008d"/><stop offset=".1769" stop-color="#0000b1"/><stop offset=".2218" stop-color="#0000bd"/><stop offset=".2383" stop-color="#0000c6"/><stop offset=".2501" stop-color="#0000d0"/><stop offset=".2548" stop-color="#0000da"/><stop offset=".2571" stop-color="#0000e2"/><stop offset=".2595" stop-color="#0000f2"/><stop offset=".2619" stop-color="#000cff"/><stop offset=".2642" stop-color="#0031ff"/><stop offset=".2666" stop-color="#005dff"/><stop offset=".2736" stop-color="#00eeff"/><stop offset=".276" stop-color="#27ffd8"/><stop offset=".2854" stop-color="#eeff11"/><stop offset=".2878" stop-color="#ffdf00"/><stop offset=".2925" stop-color="#ff7f00"/><stop offset=".2949" stop-color="#ff5500"/><stop offset=".2972" stop-color="#ff3200"/><stop offset=".2996" stop-color="#ff1a00"/><stop offset=".302" stop-color="#ff0d00"/><stop offset=".3043" stop-color="#ff0600"/><stop offset=".309" stop-color="#ff0300"/><stop offset=".3609" stop-color="#ff0000"/><stop offset="1" stop-color="#e90000"/></linearGradient>
<linearGradient id="h37"><stop offset="0" stop-color="#00008d"/><stop offset=".1816" stop-color="#0000b2"/><stop offset=".2265" stop-color="#0000bf"/><stop offset=".243" stop-color="#0000c8"/><stop offset=".2524" stop-color="#0000d1"/><stop offset=".2571" stop-color="#0000db"/><stop offset=".2595" stop-color="#0000e5"/><stop offset=".2619" stop-color="#0000f6"/><stop offset=".2642" stop-color="#0012ff"/><stop offset=".2666" stop-color="#0038ff"/><stop offset=".2689" stop-color="#0065ff"/><stop offset=".276" stop-color="#00faff"/><stop offset=".2784" stop-color="#2dffd2"/><stop offset=".2878" stop-color="#f4ff0b"/><stop offset=".2902" stop-color="#ffd900"/><stop offset=".2949" stop-color="#ff7b00"/><stop offset=".2972" stop-color="#ff5200"/><stop offset=".2996" stop-color="#ff3100"/><stop offset=".302" stop-color="#ff1a00"/><stop offset=".3043" stop-color="#ff0e00"/><stop offset=".3067" stop-color="#ff0800"/><stop offset=".3114" stop-color="#ff0500"/><stop offset=".4364" stop-color="#ff0000"/><stop offset="1" stop-color="#ec0000"/></linearGradient>
<linearGradient id="h38"><stop offset="0" stop-color="#00008d"/><stop offset=".184" stop-color="#0000b3"/><stop offset=".2288" stop-color="#0000c0"/><stop offset=".2453" stop-color="#0000c9"/><stop offset=".2548" stop-color="#0000d2"/><stop offset=".2595" stop-color="#0000dd"/><stop offset=".2619" stop-color="#0000e8"/><stop offset=".2642" stop-color="#0000fa"/><stop offset=".2666" stop-color="#0018ff"/><stop offset=".2689" stop-color="#003fff"/><stop offset=".2713" stop-color="#006cff"/><stop offset=".276" stop-color="#00ceff"/><stop offset=".2784" stop-color="#08fff7"/><stop offset=".2807" stop-color="#33ffcc"/><stop offset=".2902" stop-color="#f8ff07"/><stop offset=".2925" stop-color="#ffd500"/><stop offset=".2972" stop-color="#ff7800"/><stop offset=".2996" stop-color="#ff5000"/><stop offset=".302" stop-color="#ff3000"/><stop offset=".3043" stop-color="#ff1b00"/><stop offset=".3067" stop-color="#ff1000"/><stop offset=".309" stop-color="#ff0b00"/><stop offset=".3138" stop-color="#ff0700"/><stop offset=".5143" stop-color="#ff0000"/><stop offset="1" stop-color="#ef0000"/></linearGradient>
<linearGradient id="h39"><stop offset="0" stop-color="#00008d"/><stop offset=".1864" stop-color="#0000b3"/><stop offset=".2312" stop-color="#0000c0"/><stop offset=".2477" stop-color="#0000c9"/><stop offset=".2571" stop-color="#0000d3"/><stop offset=".2619" stop-color="#0000df"/><stop offset=".2642" stop-color="#0000ea"/><stop offset=".2666" stop-color="#0000fe"/><stop offset=".2689" stop-color="#001dff"/><stop offset=".2713" stop-color="#0045ff"/><stop offset=".2736" stop-color="#0073ff"/><stop offset=".2784" stop-color="#00d5ff"/><stop offset=".2807" stop-color="#0afff5"/><stop offset=".2925" stop-color="#fcff03"/><stop offset=".2949" stop-color="#ffd200"/><stop offset=".2996" stop-color="#ff7600"/><stop offset=".302" stop-color="#ff4f00"/><stop offset=".3043" stop-color="#ff3000"/><stop offset=".3067" stop-color="#ff1c00"/><stop offset=".309" stop-color="#ff1200"/><stop offset=".3114" stop-color="#ff0d00"/><stop offset=".3161" stop-color="#ff0a00"/><stop offset=".5992" stop-color="#ff0000"/><stop offset="1" stop-color="#f20000"/></linearGradient>
<linearGradient id="h40"><stop offset="0" stop-color="#00008d"/><stop offset=".2265" stop-color="#0000be"/><stop offset=".2453" stop-color="#0000c7"/><stop offset=".2571" stop-color="#0000d1"/><stop offset=".2619" stop-color="#0000d9"/><stop offset=".2642" stop-color="#0000e0"/><stop offset=".2666" stop-color="#0000ed"/><stop offset=".2689" stop-color="#0002ff"/><stop offset=".2713" stop-color="#0022ff"/><stop offset=".2736" stop-color="#004aff"/><stop offset=".2807" stop-color="#00d9ff"/><stop offset=".2831" stop-color="#0cfff3"/><stop offset=".2949" stop-color="#ffff00"/><stop offset=".2996" stop-color="#ffa100"/><stop offset=".302" stop-color="#ff7500"/><stop offset=".3043" stop-color="#ff4e00"/><stop offset=".3067" stop-color="#ff3100"/><stop offset=".309" stop-color="#ff1e00"/><stop offset=".3114" stop-color="#ff1400"/><stop offset=".3161" stop-color="#ff0e00"/><stop offset=".6865" stop-color="#ff0000"/><stop offset="1" stop-color="#f50000"/></linearGradient>
<linearGradient id="h41"><stop offset="0" stop-color="#00008d"/><stop offset=".2288" stop-color="#0000be"/><stop offset=".2477" stop-color="#0000c7"/><stop offset=".2595" stop-color="#0000d2"/><stop offset=".2642" stop-color="#0000da"/><stop offset=".2666" stop-color="#0000e2"/><stop offset=".2689" stop-color="#0000ef"/><stop offset=".2713" stop-color="#0005ff"/><stop offset=".2736" stop-color="#0026ff"/><stop offset=".276" stop-color="#004eff"/><stop offset=".2831" stop-color="#00dcff"/><stop offset=".2854" stop-color="#13ffec"/><stop offset=".2972" stop-color="#fffe00"/><stop offset=".302" stop-color="#ffa000"/><stop offset=".3043" stop-color="#ff7500"/><stop offset=".3067" stop-color="#ff4f00"/><stop offset=".309" stop-color="#ff3200"/><stop offset=".3114" stop-color="#ff2000"/><stop offset=".3138" stop-color="#ff1700"/><stop offset=".3185" stop-color="#ff1000"/><stop offset=".7785" stop-color="#ff0000"/><stop offset="1" stop-color="#f80000"/></linearGradient>
<linearGradient id="h42"><stop offset="0" stop-color="#00008d"/><stop offset=".2312" stop-color="#0000bf"/><stop offset=".2501" stop-color="#0000c8"/><stop offset=".2619" stop-color="#0000d2"/><stop offset=".2666" stop-color="#0000db"/><stop offset=".2689" stop-color="#0000e3"/><stop offset=".2713" stop-color="#0000f1"/><stop offset=".2736" stop-color="#0008ff"/><stop offset=".276" stop-color="#0029ff"/><stop offset=".2784" stop-color="#0052ff"/><stop offset=".2854" stop-color="#00e1ff"/><stop offset=".2878" stop-color="#12ffed"/><stop offset=".2996" stop-color="#fffd00"/><stop offset=".3043" stop-color="#ffa100"/><stop offset=".3067" stop-color="#ff7700"/><stop offset=".309" stop-color="#ff5100"/><stop offset=".3114" stop-color="#ff3500"/><stop offset=".3138" stop-color="#ff2300"/><stop offset=".3161" stop-color="#ff1a00"/><stop offset=".3208" stop-color="#ff1300"/><stop offset=".8728" stop-color="#ff0000"/><stop offset="1" stop-color="#fb0000"/></linearGradient>
<linearGradient id="h43"><stop offset="0" stop-color="#00008d"/><stop offset=".1887" stop-color="#0000b4"/><stop offset=".2335" stop-color="#0000c0"/><stop offset=".2524" stop-color="#0000c9"/><stop offset=".2642" stop-color="#0000d3"/><stop offset=".2689" stop-color="#0000dc"/><stop offset=".2713" stop-color="#0000e4"/><stop offset=".2736" stop-color="#0000f2"/><stop offset=".276" stop-color="#000bff"/><stop offset=".2784" stop-color="#002cff"/><stop offset=".2807" stop-color="#0055ff"/><stop offset=".2878" stop-color="#00e1ff"/><stop offset=".2902" stop-color="#14ffeb"/><stop offset=".302" stop-color="#ffff00"/><stop offset=".3067" stop-color="#ffa400"/><stop offset=".309" stop-color="#ff7900"/><stop offset=".3114" stop-color="#ff5500"/><stop offset=".3138" stop-color="#ff3800"/><stop offset=".3161" stop-color="#ff2600"/><stop offset=".3185" stop-color="#ff1d00"/><stop offset=".3232" stop-color="#ff1700"/><stop offset="1" stop-color="#fe0000"/></linearGradient>
<linearGradient id="h44"><stop offset="0" stop-color="#00008d"/><stop offset=".1887" stop-color="#0000b4"/><stop offset=".2359" stop-color="#0000c0"/><stop offset=".2548" stop-color="#0000c9"/><stop offset=".2666" stop-color="#0000d4"/><stop offset=".2713" stop-color="#0000dd"/><stop offset=".2736" stop-color="#0000e5"/><stop offset=".276" stop-color="#0000f4"/><stop offset=".2784" stop-color="#000cff"/><stop offset=".2807" stop-color="#002dff"/><stop offset=".2831" stop-color="#0056ff"/><stop offset=".2902" stop-color="#00e2ff"/><stop offset=".2925" stop-color="#13ffec"/><stop offset=".3043" stop-color="#fcff03"/><stop offset=".3067" stop-color="#ffd400"/><stop offset=".3114" stop-color="#ff7e00"/><stop offset=".3138" stop-color="#ff5900"/><stop offset=".3161" stop-color="#ff3d00"/><stop offset=".3185" stop-color="#ff2a00"/><stop offset=".3208" stop-color="#ff2100"/><stop offset=".3232" stop-color="#ff1c00"/><stop offset=".3279" stop-color="#ff1900"/><stop offset="1" stop-color="#ff0200"/></linearGradient>
<linearGradient id="h45"><stop offset="0" stop-color="#00008d"/><stop offset=".1911" stop-color="#0000b4"/><stop offset=".2383" stop-color="#0000c1"/><stop offset=".2571" stop-color="#0000ca"/><stop offset=".2689" stop-color="#0000d4"/><stop offset=".2736" stop-color="#0000dd"/><stop offset=".276" stop-color="#0000e6"/><stop offset=".2784" stop-color="#0000f4"/><stop offset=".2807" stop-color="#000dff"/><stop offset=".2831" stop-color="#002eff"/><stop offset=".2854" stop-color="#0057ff"/><stop offset=".2925" stop-color="#00e1ff"/><stop offset=".2949" stop-color="#11ffee"/><stop offset=".3067" stop-color="#f8ff07"/><stop offset=".309" stop-color="#ffd900"/><stop offset=".3138" stop-color="#ff8300"/><stop offset=".3161" stop-color="#ff5e00"/><stop offset=".3185" stop-color="#ff4100"/><stop offset=".3208" stop-color="#ff2f00"/><stop offset=".3232" stop-color="#ff2500"/><stop offset=".3255" stop-color="#ff2000"/><stop offset=".3303" stop-color="#ff1d00"/><stop offset="1" stop-color="#ff0500"/></linearGradient>
<linearGradient id="h46"><stop offset="0" stop-color="#00008d"/><stop offset=".1934" stop-color="#0000b5"/><stop offset=".2406" stop-color="#0000c1"/><stop offset=".2595" stop-color="#0000ca"/><stop offset=".2713" stop-color="#0000d5"/><stop offset=".276" stop-color="#0000de"/><stop offset=".2784" stop-color="#0000e6"/><stop offset=".2807" stop-color="#0000f5"/><stop offset=".2831" stop-color="#000dff"/><stop offset=".2854" stop-color="#002dff"/><stop offset=".2878" stop-color="#0055ff"/><stop offset=".2949" stop-color="#00ddff"/><stop offset=".2972" stop-color="#11ffee"/><stop offset=".309" stop-color="#f3ff0c"/><stop offset=".3114" stop-color="#ffde00"/><stop offset=".3161" stop-color="#ff8800"/><stop offset=".3185" stop-color="#ff6300"/><stop offset=".3208" stop-color="#ff4600"/><stop offset=".3232" stop-color="#ff3300"/><stop offset=".3255" stop-color="#ff2900"/><stop offset=".3279" stop-color="#ff2400"/><stop offset=".3326" stop-color="#ff2100"/><stop offset="1" stop-color="#ff0900"/></linearGradient>
<linearGradient id="h47"><stop offset="0" stop-color="#00008d"/><stop offset=".1958" stop-color="#0000b5"/><stop offset=".243" stop-color="#0000c2"/><stop offset=".2619" stop-color="#0000cb"/><stop offset=".2736" stop-color="#0000d5"/><stop offset=".2784" stop-color="#0000de"/><stop offset=".2807" stop-color="#0000e6"/><stop offset=".2831" stop-color="#0000f4"/><stop offset=".2854" stop-color="#000cff"/><stop offset=".2878" stop-color="#002cff"/><stop offset=".2902" stop-color="#0054ff"/><stop offset=".2972" stop-color="#00dbff"/><stop offset=".2996" stop-color="#0bfff4"/><stop offset=".3114" stop-color="#eeff11"/><stop offset=".3138" stop-color="#ffe300"/><stop offset=".3185" stop-color="#ff8e00"/><stop offset=".3208" stop-color="#ff6900"/><stop offset=".3232" stop-color="#ff4c00"/><stop offset=".3255" stop-color="#ff3800"/><stop offset=".3279" stop-color="#ff2e00"/><stop offset=".3303" stop-color="#ff2900"/><stop offset=".335" stop-color="#ff2500"/><stop offset="1" stop-color="#ff0c00"/></linearGradient>
<linearGradient id="h48"><stop offset="0" stop-color="#00008d"/><stop offset=".1982" stop-color="#0000b6"/><stop offset=".2453" stop-color="#0000c2"/><stop offset=".2642" stop-color="#0000cb"/><stop offset=".276" stop-color="#0000d5"/><stop offset=".2807" stop-color="#0000de"/><stop offset=".2831" stop-color="#0000e6"/><stop offset=".2854" stop-color="#0000f4"/><stop offset=".2878" stop-color="#000bff"/><stop offset=".2902" stop-color="#002bff"/><stop offset=".2925" stop-color="#0052ff"/><stop offset=".2996" stop-color="#00d8ff"/><stop offset=".302" stop-color="#08fff7"/><stop offset=".3138" stop-color="#e9ff16"/><stop offset=".3161" stop-color="#ffe800"/><stop offset=".3208" stop-color="#ff9300"/><stop offset=".3232" stop-color="#ff6e00"/><stop offset=".3255" stop-color="#ff5100"/><stop offset=".3279" stop-color="#ff3d00"/><stop offset=".3303" stop-color="#ff3200"/><stop offset=".3326" stop-color="#ff2d00"/><stop offset=".3373" stop-color="#ff2a00"/><stop offset="1" stop-color="#ff0f00"/></linearGradient>
<linearGradient id="h49"><stop offset="0" stop-color="#00008d"/><stop offset=".2005" stop-color="#0000b6"/><stop offset=".2477" stop-color="#0000c3"/><stop offset=".2666" stop-color="#0000cc"/><stop offset=".2784" stop-color="#0000d6"/><stop offset=".2831" stop-color="#0000de"/><stop offset=".2854" stop-color="#0000e6"/><stop offset=".2878" stop-color="#0000f4"/><stop offset=".2902" stop-color="#000aff"/><stop offset=".2925" stop-color="#0029ff"/><stop offset=".2949" stop-color="#0050ff"/><stop offset=".302" stop-color="#00d4ff"/><stop offset=".3043" stop-color="#0bfff4"/><stop offset=".3067" stop-color="#32ffcd"/><stop offset=".3161" stop-color="#e5ff1a"/><stop offset=".3185" stop-color="#ffed00"/><stop offset=".3232" stop-color="#ff9800"/><stop offset=".3255" stop-color="#ff7300"/><stop offset=".3279" stop-color="#ff5600"/><stop offset=".3303" stop-color="#ff4200"/><stop offset=".3326" stop-color="#ff3700"/><stop offset=".335" stop-color="#ff3200"/><stop offset=".3397" stop-color="#ff2f00"/><stop offset="1" stop-color="#ff1200"/></linearGradient>
<linearGradient id="h50"><stop offset="0" stop-color="#00008d"/><stop offset=".2029" stop-color="#0000b7"/><stop offset=".2501" stop-color="#0000c3"/><stop offset=".2689" stop-color="#0000cc"/><stop offset=".2807" stop-color="#0000d6"/><stop offset=".2854" stop-color="#0000de"/><stop offset=".2878" stop-color="#0000e6"/><stop offset=".2902" stop-color="#0000f3"/><stop offset=".2925" stop-color="#0009ff"/><stop offset=".2949" stop-color="#0028ff"/><stop offset=".2972" stop-color="#004eff"/><stop offset=".2996" stop-color="#0079ff"/><stop offset=".3067" stop-color="#02fffd"/><stop offset=".3185" stop-color="#e0ff1f"/><stop offset=".3208" stop-color="#fff100"/><stop offset=".3255" stop-color="#ff9d00"/><stop offset=".3279" stop-color="#ff7800"/><stop offset=".3303" stop-color="#ff5a00"/><stop offset=".3326" stop-color="#ff4700"/><stop offset=".335" stop-color="#ff3c00"/><stop offset=".3373" stop-color="#ff3700"/><stop offset=".3421" stop-color="#ff3300"/><stop offset="1" stop-color="#ff1600"/></linearGradient>
<linearGradient id="h51"><stop offset="0" stop-color="#00008d"/><stop offset=".2501" stop-color="#0000c3"/><stop offset=".2689" stop-color="#0000cb"/><stop offset=".2831" stop-color="#0000d6"/><stop offset=".2878" stop-color="#0000df"/><stop offset=".2902" stop-color="#0000e6"/><stop offset=".2925" stop-color="#0000f3"/><stop offset=".2949" stop-color="#0009ff"/><stop offset=".2972" stop-color="#0027ff"/><stop offset=".2996" stop-color="#004cff"/><stop offset=".3067" stop-color="#00d0ff"/><stop offset=".309" stop-color="#00f9ff"/><stop offset=".3114" stop-color="#2bffd4"/><stop offset=".3208" stop-color="#ddff22"/><stop offset=".3232" stop-color="#fff500"/><stop offset=".3279" stop-color="#ffa000"/><stop offset=".3303" stop-color="#ff7c00"/><stop offset=".3326" stop-color="#ff5e00"/><stop offset=".335" stop-color="#ff4b00"/><stop offset=".3373" stop-color="#ff4000"/><stop offset=".3397" stop-color="#ff3b00"/><stop offset=".3444" stop-color="#ff3800"/><stop offset="1" stop-color="#ff1900"/></linearGradient>
<linearGradient id="h52"><stop offset="0" stop-color="#00008d"/><stop offset=".2524" stop-color="#0000c3"/><stop offset=".2713" stop-color="#0000cb"/><stop offset=".2854" stop-color="#0000d7"/><stop offset=".2902" stop-color="#0000df"/><stop offset=".2925" stop-color="#0000e6"/><stop offset=".2949" stop-color="#0000f3"/><stop offset=".2972" stop-color="#0008ff"/><stop offset=".2996" stop-color="#0026ff"/><stop offset=".302" stop-color="#004cff"/><stop offset=".309" stop-color="#00cfff"/><stop offset=".3114" stop-color="#00f7ff"/><stop offset=".3138" stop-color="#2affd5"/><stop offset=".3232" stop-color="#dbff24"/><stop offset=".3255" stop-color="#fff700"/><stop offset=".3303" stop-color="#ffa300"/><stop offset=".3326" stop-color="#ff7f00"/><stop offset=".335" stop-color="#ff6200"/><stop offset=".3373" stop-color="#ff4f00"/><stop offset=".3397" stop-color="#ff4500"/><stop offset=".3421" stop-color="#ff4000"/><stop offset=".3468" stop-color="#ff3d00"/><stop offset="1" stop-color="#ff1c00"/></linearGradient>
<linearGradient id="h53"><stop offset="0" stop-color="#00008d"/><stop offset=".2548" stop-color="#0000c4"/><stop offset=".2736" stop-color="#0000cc"/><stop offset=".2878" stop-color="#0000d7"/><stop offset=".2925" stop-color="#0000df"/><stop offset=".2949" stop-color="#0000e7"/><stop offset=".2972" stop-color="#0000f3"/><stop offset=".2996" stop-color="#0009ff"/><stop offset=".302" stop-color="#0026ff"/><stop offset=".3043" stop-color="#004cff"/><stop offset=".3067" stop-color="#0076ff"/><stop offset=".3138" stop-color="#00fcff"/><stop offset=".3161" stop-color="#29ffd6"/><stop offset=".3255" stop-color="#d9ff26"/><stop offset=".3279" stop-color="#fff900"/><stop offset=".3326" stop-color="#ffa600"/><stop offset=".335" stop-color="#ff8200"/><stop offset=".3373" stop-color="#ff6600"/><stop offset=".3397" stop-color="#ff5300"/><stop offset=".3421" stop-color="#ff4900"/><stop offset=".3444" stop-color="#ff4500"/><stop offset=".3491" stop-color="#ff4200"/><stop offset="1" stop-color="#ff2000"/></linearGradient>
<linearGradient id="h54"><stop offset="0" stop-color="#00008d"/><stop offset=".2571" stop-color="#0000c4"/><stop offset=".276" stop-color="#0000cc"/><stop offset=".2902" stop-color="#0000d8"/><stop offset=".2949" stop-color="#0000e0"/><stop offset=".2972" stop-color="#0000e7"/><stop offset=".2996" stop-color="#0000f4"/><stop offset=".302" stop-color="#0009ff"/><stop offset=".3043" stop-color="#0027ff"/><stop offset=".3067" stop-color="#004cff"/><stop offset=".3138" stop-color="#00cfff"/><stop offset=".3161" stop-color="#00f6ff"/><stop offset=".3185" stop-color="#29ffd6"/><stop offset=".3279" stop-color="#d8ff27"/><stop offset=".3303" stop-color="#fffb00"/><stop offset=".335" stop-color="#ffa900"/><stop offset=".3373" stop-color="#ff8500"/><stop offset=".3397" stop-color="#ff6a00"/><stop offset=".3421" stop-color="#ff5800"/><stop offset=".3444" stop-color="#ff4e00"/><stop offset=".3468" stop-color="#ff4900"/><stop offset=".3515" stop-color="#ff4600"/><stop offset="1" stop-color="#ff2300"/></linearGradient>
<linearGradient id="h55"><stop offset="0" stop-color="#00008d"/><stop offset=".2595" stop-color="#0000c4"/><stop offset=".2784" stop-color="#0000cd"/><stop offset=".2925" stop-color="#0000d8"/><stop offset=".2972" stop-color="#0000e0"/><stop offset=".2996" stop-color="#0000e8"/><stop offset=".302" stop-color="#0000f4"/><stop offset=".3043" stop-color="#000aff"/><stop offset=".3067" stop-color="#0028ff"/><stop offset=".309" stop-color="#004eff"/><stop offset=".3185" stop-color="#00f9ff"/><stop offset=".3208" stop-color="#29ffd6"/><stop offset=".3303" stop-color="#d7ff28"/><stop offset=".3326" stop-color="#fffd00"/><stop offset=".3373" stop-color="#ffab00"/><stop offset=".3397" stop-color="#ff8900"/><stop offset=".3421" stop-color="#ff6e00"/><stop offset=".3444" stop-color="#ff5c00"/><stop offset=".3468" stop-color="#ff5300"/><stop offset=".3491" stop-color="#ff4e00"/><stop offset=".3539" stop-color="#ff4b00"/><stop offset="1" stop-color="#ff2700"/></linearGradient>
<linearGradient id="h56"><stop offset="0" stop-color="#00008d"/><stop offset=".2619" stop-color="#0000c5"/><stop offset=".2807" stop-color="#0000cd"/><stop offset=".2949" stop-color="#0000d8"/><stop offset=".2996" stop-color="#0000e1"/><stop offset=".302" stop-color="#0000e8"/><stop offset=".3043" stop-color="#0000f5"/><stop offset=".3067" stop-color="#000bff"/><stop offset=".309" stop-color="#002aff"/><stop offset=".3114" stop-color="#004fff"/><stop offset=".3138" stop-color="#0079ff"/><stop offset=".3208" stop-color="#00fbff"/><stop offset=".3232" stop-color="#29ffd6"/><stop offset=".335" stop-color="#ffff00"/><stop offset=".3397" stop-color="#ffaf00"/><stop offset=".3421" stop-color="#ff8c00"/><stop offset=".3444" stop-color="#ff7200"/><stop offset=".3468" stop-color="#ff6000"/><stop offset=".3491" stop-color="#ff5700"/><stop offset=".3562" stop-color="#ff5000"/><stop offset="1" stop-color="#ff2a00"/></linearGradient>
<linearGradient id="h57"><stop offset="0" stop-color="#00008d"/><stop offset=".2642" stop-color="#0000c5"/><stop offset=".2831" stop-color="#0000ce"/><stop offset=".2972" stop-color="#0000d9"/><stop offset=".302" stop-color="#0000e1"/><stop offset=".3043" stop-color="#0000e9"/><stop offset=".3067" stop-color="#0000f6"/><stop offset=".309" stop-color="#000dff"/><stop offset=".3114" stop-color="#002bff"/><stop offset=".3138" stop-color="#0050ff"/><stop offset=".3208" stop-color="#00d0ff"/><stop offset=".3232" stop-color="#00f5ff"/><stop offset=".3255" stop-color="#29ffd6"/><stop offset=".3373" stop-color="#fcff03"/><stop offset=".3397" stop-color="#ffd900"/><stop offset=".3421" stop-color="#ffb300"/><stop offset=".3444" stop-color="#ff9100"/><stop offset=".3468" stop-color="#ff7600"/><stop offset=".3491" stop-color="#ff6500"/><stop offset=".3515" stop-color="#ff5c00"/><stop offset=".3539" stop-color="#ff5700"/><stop offset=".3586" stop-color="#ff5400"/><stop offset="1" stop-color="#ff2e00"/></linearGradient>
<linearGradient id="h58"><stop offset="0" stop-color="#00008d"/><stop offset=".2666" stop-color="#0000c6"/><stop offset=".2854" stop-color="#0000ce"/><stop offset=".2996" stop-color="#0000da"/><stop offset=".3043" stop-color="#0000e2"/><stop offset=".3067" stop-color="#0000ea"/><stop offset=".309" stop-color="#0000f7"/><stop offset=".3114" stop-color="#000dff"/><stop offset=".3138" stop-color="#002cff"/><stop offset=".3185" stop-color="#007aff"/><stop offset=".3255" stop-color="#00fbff"/><stop offset=".3279" stop-color="#26ffd9"/><stop offset=".3397" stop-color="#f8ff07"/><stop offset=".3421" stop-color="#ffdd00"/><stop offset=".3444" stop-color="#ffb700"/><stop offset=".3468" stop-color="#ff9500"/><stop offset=".3491" stop-color="#ff7b00"/><stop offset=".3515" stop-color="#ff6a00"/><stop offset=".3539" stop-color="#ff6000"/><stop offset=".3562" stop-color="#ff5c00"/><stop offset=".3609" stop-color="#ff5900"/><stop offset="1" stop-color="#ff3100"/></linearGradient>
<linearGradient id="h59"><stop offset="0" stop-color="#00008d"/><stop offset=".2689" stop-color="#0000c6"/><stop offset=".2878" stop-color="#0000cf"/><stop offset=".302" stop-color="#0000da"/><stop offset=".3067" stop-color="#0000e2"/><stop offset=".309" stop-color="#0000ea"/><stop offset=".3114" stop-color="#0000f8"/><stop offset=".3138" stop-color="#000eff"/><stop offset=".3161" stop-color="#002cff"/><stop offset=".3185" stop-color="#0051ff"/><stop offset=".3279" stop-color="#00f7ff"/><stop offset=".3303" stop-color="#25ffda"/><stop offset=".3421" stop-color="#f5ff0a"/><stop offset=".3444" stop-color="#ffe100"/><stop offset=".3468" stop-color="#ffbb00"/><stop offset=".3491" stop-color="#ff9a00"/><stop offset=".3515" stop-color="#ff7f00"/><stop offset=".3539" stop-color="#ff6e00"/><stop offset=".3562" stop-color="#ff6500"/><stop offset=".3586" stop-color="#ff6000"/><stop offset=".3633" stop-color="#ff5d00"/><stop offset="1" stop-color="#ff3500"/></linearGradient>
<linearGradient id="h60"><stop offset="0" stop-color="#00008d"/><stop offset=".2713" stop-color="#0000c7"/><stop offset=".2902" stop-color="#0000cf"/><stop offset=".3043" stop-color="#0000da"/><stop offset=".309" stop-color="#0000e3"/><stop offset=".3114" stop-color="#0000eb"/><stop offset=".3138" stop-color="#0000f8"/><stop offset=".3161" stop-color="#000eff"/><stop offset=".3185" stop-color="#002cff"/><stop offset=".3208" stop-color="#0050ff"/><stop offset=".3303" stop-color="#00f5ff"/><stop offset=".3326" stop-color="#23ffdc"/><stop offset=".3444" stop-color="#f0ff0f"/><stop offset=".3468" stop-color="#ffe600"/><stop offset=".3491" stop-color="#ffc000"/><stop offset=".3515" stop-color="#ff9f00"/><stop offset=".3539" stop-color="#ff8500"/><stop offset=".3562" stop-color="#ff7300"/><stop offset=".3586" stop-color="#ff6900"/><stop offset=".3609" stop-color="#ff6500"/><stop offset=".3657" stop-color="#ff6200"/><stop offset="1" stop-color="#ff3800"/></linearGradient>
<linearGradient id="h61"><stop offset="0" stop-color="#00008d"/><stop offset=".2736" stop-color="#0000c7"/><stop offset=".2925" stop-color="#0000d0"/><stop offset=".3067" stop-color="#0000db"/><stop offset=".3114" stop-color="#0000e3"/><stop offset=".3138" stop-color="#0000eb"/><stop offset=".3161" stop-color="#0000f8"/><stop offset=".3185" stop-color="#000eff"/><stop offset=".3208" stop-color="#002cff"/><stop offset=".3255" stop-color="#0078ff"/><stop offset=".3326" stop-color="#00f5ff"/><stop offset=".335" stop-color="#1fffe0"/><stop offset=".3468" stop-color="#ebff14"/><stop offset=".3491" stop-color="#ffeb00"/><stop offset=".3515" stop-color="#ffc600"/><stop offset=".3539" stop-color="#ffa400"/><stop offset=".3562" stop-color="#ff8a00"/><stop offset=".3586" stop-color="#ff7800"/><stop offset=".3609" stop-color="#ff6e00"/><stop offset=".3633" stop-color="#ff6a00"/><stop offset=".368" stop-color="#ff6600"/><stop offset="1" stop-color="#ff3c00"/></linearGradient>
<linearGradient id="h62"><stop offset="0" stop-color="#00008d"/><stop offset=".276" stop-color="#0000c8"/><stop offset=".2949" stop-color="#0000d0"/><stop offset=".309" stop-color="#0000db"/><stop offset=".3138" stop-color="#0000e3"/><stop offset=".3161" stop-color="#0000eb"/><stop offset=".3185" stop-color="#0000f8"/><stop offset=".3208" stop-color="#000eff"/><stop offset=".3232" stop-color="#002bff"/><stop offset=".3255" stop-color="#004eff"/><stop offset=".335" stop-color="#00f0ff"/><stop offset=".3373" stop-color="#1dffe2"/><stop offset=".3491" stop-color="#e6ff19"/><stop offset=".3515" stop-color="#fff100"/><stop offset=".3562" stop-color="#ffaa00"/><stop offset=".3586" stop-color="#ff8f00"/><stop offset=".3609" stop-color="#ff7d00"/><stop offset=".3633" stop-color="#ff7300"/><stop offset=".3657" stop-color="#ff6e00"/><stop offset=".3704" stop-color="#ff6b00"/><stop offset="1" stop-color="#ff4000"/></linearGradient>
<linearGradient id="h63"><stop offset="0" stop-color="#00008d"/><stop offset=".2784" stop-color="#0000c8"/><stop offset=".2972" stop-color="#0000d0"/><stop offset=".3114" stop-color="#0000dc"/><stop offset=".3161" stop-color="#0000e4"/><stop offset=".3185" stop-color="#0000eb"/><stop offset=".3208" stop-color="#0000f8"/><stop offset=".3232" stop-color="#000dff"/><stop offset=".3255" stop-color="#0029ff"/><stop offset=".3303" stop-color="#0074ff"/><stop offset=".3373" stop-color="#00eeff"/><stop offset=".3397" stop-color="#19ffe6"/><stop offset=".3515" stop-color="#e1ff1e"/><stop offset=".3539" stop-color="#fff600"/><stop offset=".3586" stop-color="#ffb000"/><stop offset=".3609" stop-color="#ff9500"/><stop offset=".3633" stop-color="#ff8200"/><stop offset=".3657" stop-color="#ff7800"/><stop offset=".368" stop-color="#ff7300"/><stop offset=".3727" stop-color="#ff7000"/><stop offset="1" stop-color="#ff4400"/></linearGradient>
<linearGradient id="h64"><stop offset="0" stop-color="#00008d"/><stop offset=".2807" stop-color="#0000c9"/><stop offset=".2996" stop-color="#0000d1"/><stop offset=".3138" stop-color="#0000dc"/><stop offset=".3185" stop-color="#0000e4"/><stop offset=".3208" stop-color="#0000eb"/><stop offset=".3232" stop-color="#0000f7"/><stop offset=".3255" stop-color="#000cff"/><stop offset=".3279" stop-color="#0028ff"/><stop offset=".3326" stop-color="#0072ff"/><stop offset=".3397" stop-color="#00ecff"/><stop offset=".3421" stop-color="#15ffea"/><stop offset=".3539" stop-color="#dcff23"/><stop offset=".3562" stop-color="#fffc00"/><stop offset=".3609" stop-color="#ffb500"/><stop offset=".3633" stop-color="#ff9a00"/><stop offset=".3657" stop-color="#ff8800"/><stop offset=".368" stop-color="#ff7d00"/><stop offset=".3704" stop-color="#ff7800"/><stop offset=".3751" stop-color="#ff7400"/><stop offset="1" stop-color="#ff4700"/></linearGradient>
<linearGradient id="h65"><stop offset="0" stop-color="#00008d"/><stop offset=".2831" stop-color="#0000c9"/><stop offset=".302" stop-color="#0000d1"/><stop offset=".3161" stop-color="#0000dc"/><stop offset=".3208" stop-color="#0000e4"/><stop offset=".3232" stop-color="#0000eb"/><stop offset=".3255" stop-color="#0000f7"/><stop offset=".3279" stop-color="#000bff"/><stop offset=".3303" stop-color="#0027ff"/><stop offset=".3326" stop-color="#0049ff"/><stop offset=".335" stop-color="#006fff"/><stop offset=".3421" stop-color="#00e7ff"/><stop offset=".3444" stop-color="#14ffeb"/><stop offset=".3586" stop-color="#fdff02"/><stop offset=".3609" stop-color="#ffdd00"/><stop offset=".3633" stop-color="#ffbc00"/><stop offset=".3657" stop-color="#ffa000"/><stop offset=".368" stop-color="#ff8d00"/><stop offset=".3704" stop-color="#ff8200"/><stop offset=".3727" stop-color="#ff7d00"/><stop offset=".3798" stop-color="#ff7800"/><stop offset="1" stop-color="#ff4b00"/></linearGradient>
<linearGradient id="h66"><stop offset="0" stop-color="#00008d"/><stop offset=".2831" stop-color="#0000c9"/><stop offset=".302" stop-color="#0000d0"/><stop offset=".3161" stop-color="#0000da"/><stop offset=".3232" stop-color="#0000e4"/><stop offset=".3255" stop-color="#0000eb"/><stop offset=".3279" stop-color="#0000f7"/><stop offset=".3303" stop-color="#000aff"/><stop offset=".3326" stop-color="#0025ff"/><stop offset=".335" stop-color="#0047ff"/><stop offset=".3373" stop-color="#006dff"/><stop offset=".3444" stop-color="#00e5ff"/><stop offset=".3468" stop-color="#0efff1"/><stop offset=".3609" stop-color="#f6ff09"/><stop offset=".3633" stop-color="#ffe400"/><stop offset=".3657" stop-color="#ffc200"/><stop offset=".368" stop-color="#ffa700"/><stop offset=".3704" stop-color="#ff9300"/><stop offset=".3727" stop-color="#ff8800"/><stop offset=".3751" stop-color="#ff8200"/><stop offset=".3822" stop-color="#ff7d00"/><stop offset="1" stop-color="#ff4f00"/></linearGradient>
<linearGradient id="h67"><stop offset="0" stop-color="#00008d"/><stop offset=".2854" stop-color="#0000c9"/><stop offset=".3043" stop-color="#0000d1"/><stop offset=".3185" stop-color="#0000da"/><stop offset=".3255" stop-color="#0000e4"/><stop offset=".3279" stop-color="#0000eb"/><stop offset=".3303" stop-color="#0000f6"/><stop offset=".3326" stop-color="#0009ff"/><stop offset=".335" stop-color="#0024ff"/><stop offset=".3373" stop-color="#0045ff"/><stop offset=".3397" stop-color="#006aff"/><stop offset=".3468" stop-color="#00e1ff"/><stop offset=".3491" stop-color="#0afff5"/><stop offset=".3633" stop-color="#efff10"/><stop offset=".3657" stop-color="#ffeb00"/><stop offset=".368" stop-color="#ffca00"/><stop offset=".3704" stop-color="#ffae00"/><stop offset=".3727" stop-color="#ff9a00"/><stop offset=".3751" stop-color="#ff8d00"/><stop offset=".3774" stop-color="#ff8700"/><stop offset=".3845" stop-color="#ff8200"/><stop offset="1" stop-color="#ff5300"/></linearGradient>
<linearGradient id="h68"><stop offset="0" stop-color="#00008d"/><stop offset=".2878" stop-color="#0000ca"/><stop offset=".3067" stop-color="#0000d1"/><stop offset=".3208" stop-color="#0000db"/><stop offset=".3279" stop-color="#0000e4"/><stop offset=".3303" stop-color="#0000eb"/><stop offset=".3326" stop-color="#0000f6"/><stop offset=".335" stop-color="#0008ff"/><stop offset=".3373" stop-color="#0022ff"/><stop offset=".3397" stop-color="#0042ff"/><stop offset=".3421" stop-color="#0067ff"/><stop offset=".3491" stop-color="#00dbff"/><stop offset=".3515" stop-color="#0afff5"/><stop offset=".3539" stop-color="#2bffd4"/><stop offset=".3657" stop-color="#e6ff19"/><stop offset=".368" stop-color="#fff400"/><stop offset=".3704" stop-color="#ffd300"/><stop offset=".3727" stop-color="#ffb700"/><stop offset=".3751" stop-color="#ffa100"/><stop offset=".3774" stop-color="#ff9400"/><stop offset=".3798" stop-color="#ff8c00"/><stop offset=".3869" stop-color="#ff8600"/><stop offset="1" stop-color="#ff5700"/></linearGradient>
<linearGradient id="h69"><stop offset="0" stop-color="#00008d"/><stop offset=".2902" stop-color="#0000ca"/><stop offset=".309" stop-color="#0000d2"/><stop offset=".3232" stop-color="#0000db"/><stop offset=".3303" stop-color="#0000e4"/><stop offset=".3326" stop-color="#0000eb"/><stop offset=".335" stop-color="#0000f5"/><stop offset=".3373" stop-color="#0007ff"/><stop offset=".3397" stop-color="#001fff"/><stop offset=".3421" stop-color="#003eff"/><stop offset=".3444" stop-color="#0062ff"/><stop offset=".3539" stop-color="#00fbff"/><stop offset=".3562" stop-color="#23ffdc"/><stop offset=".3657" stop-color="#b8ff47"/><stop offset=".3704" stop-color="#ffff00"/><stop offset=".3727" stop-color="#ffdd00"/><stop offset=".3751" stop-color="#ffc000"/><stop offset=".3774" stop-color="#ffa900"/><stop offset=".3798" stop-color="#ff9a00"/><stop offset=".3822" stop-color="#ff9200"/><stop offset=".3845" stop-color="#ff8e00"/><stop offset=".3892" stop-color="#ff8b00"/><stop offset="1" stop-color="#ff5b00"/></linearGradient>
<linearGradient id="h70"><stop offset="0" stop-color="#00008d"/><stop offset=".2925" stop-color="#0000cb"/><stop offset=".3114" stop-color="#0000d2"/><stop offset=".3255" stop-color="#0000db"/><stop offset=".3326" stop-color="#0000e4"/><stop offset=".3373" stop-color="#0000f4"/><stop offset=".3397" stop-color="#0005ff"/><stop offset=".3421" stop-color="#001cff"/><stop offset=".3444" stop-color="#003aff"/><stop offset=".3468" stop-color="#005dff"/><stop offset=".3562" stop-color="#00f4ff"/><stop offset=".3586" stop-color="#1bffe4"/><stop offset=".3727" stop-color="#f4ff0b"/><stop offset=".3751" stop-color="#ffe800"/><stop offset=".3774" stop-color="#ffcb00"/><stop offset=".3798" stop-color="#ffb200"/><stop offset=".3822" stop-color="#ffa200"/><stop offset=".3845" stop-color="#ff9800"/><stop offset=".3869" stop-color="#ff9300"/><stop offset=".394" stop-color="#ff8f00"/><stop offset="1" stop-color="#ff5f00"/></linearGradient>
<linearGradient id="h71"><stop offset="0" stop-color="#00008d"/><stop offset=".2925" stop-color="#0000ca"/><stop offset=".3138" stop-color="#0000d2"/><stop offset=".3279" stop-color="#0000dc"/><stop offset=".335" stop-color="#0000e4"/><stop offset=".3397" stop-color="#0000f3"/><stop offset=".3421" stop-color="#0002ff"/><stop offset=".3444" stop-color="#0018ff"/><stop offset=".3468" stop-color="#0035ff"/><stop offset=".3491" stop-color="#0057ff"/><stop offset=".3586" stop-color="#00eaff"/><stop offset=".3609" stop-color="#13ffec"/><stop offset=".3751" stop-color="#e8ff17"/><stop offset=".3774" stop-color="#fff500"/><stop offset=".3798" stop-color="#ffd600"/><stop offset=".3822" stop-color="#ffbd00"/><stop offset=".3845" stop-color="#ffaa00"/><stop offset=".3869" stop-color="#ff9f00"/><stop offset=".3892" stop-color="#ff9900"/><stop offset=".3963" stop-color="#ff9400"/><stop offset="1" stop-color="#ff6300"/></linearGradient>
<linearGradient id="h72"><stop offset="0" stop-color="#00008d"/><stop offset=".2996" stop-color="#0000cc"/><stop offset=".3185" stop-color="#0000d4"/><stop offset=".3326" stop-color="#0000de"/><stop offset=".3397" stop-color="#0000e9"/><stop offset=".3421" stop-color="#0000f1"/><stop offset=".3444" stop-color="#0000fe"/><stop offset=".3468" stop-color="#0013ff"/><stop offset=".3491" stop-color="#002eff"/><stop offset=".3539" stop-color="#0073ff"/><stop offset=".3609" stop-color="#00e1ff"/><stop offset=".3633" stop-color="#07fff8"/><stop offset=".3727" stop-color="#95ff6a"/><stop offset=".3798" stop-color="#fcff03"/><stop offset=".3822" stop-color="#ffe300"/><stop offset=".3845" stop-color="#ffc800"/><stop offset=".3869" stop-color="#ffb400"/><stop offset=".3892" stop-color="#ffa600"/><stop offset=".394" stop-color="#ff9b00"/><stop offset=".401" stop-color="#ff9800"/><stop offset="1" stop-color="#ff6700"/></linearGradient>
<linearGradient id="h73"><stop offset="0" stop-color="#00008d"/><stop offset=".302" stop-color="#0000cd"/><stop offset=".3208" stop-color="#0000d4"/><stop offset=".335" stop-color="#0000de"/><stop offset=".3421" stop-color="#0000e8"/><stop offset=".3444" stop-color="#0000ef"/><stop offset=".3468" stop-color="#0000fb"/><stop offset=".3491" stop-color="#000eff"/><stop offset=".3515" stop-color="#0028ff"/><stop offset=".3539" stop-color="#0047ff"/><stop offset=".3657" stop-color="#00faff"/><stop offset=".368" stop-color="#1fffe0"/><stop offset=".3822" stop-color="#edff12"/><stop offset=".3845" stop-color="#fff200"/><stop offset=".3869" stop-color="#ffd600"/><stop offset=".3892" stop-color="#ffbf00"/><stop offset=".3916" stop-color="#ffaf00"/><stop offset=".394" stop-color="#ffa600"/><stop offset=".3963" stop-color="#ffa100"/><stop offset=".4034" stop-color="#ff9c00"/><stop offset="1" stop-color="#ff6c00"/></linearGradient>
<linearGradient id="h74"><stop offset="0" stop-color="#00008d"/><stop offset=".302" stop-color="#0000cd"/><stop offset=".3232" stop-color="#0000d5"/><stop offset=".3373" stop-color="#0000de"/><stop offset=".3444" stop-color="#0000e8"/><stop offset=".3491" stop-color="#0000f8"/><stop offset=".3515" stop-color="#0009ff"/><stop offset=".3539" stop-color="#0020ff"/><stop offset=".3562" stop-color="#003eff"/><stop offset=".3586" stop-color="#005fff"/><stop offset=".368" stop-color="#00ecff"/><stop offset=".3704" stop-color="#13ffec"/><stop offset=".3822" stop-color="#bbff44"/><stop offset=".3869" stop-color="#fcff03"/><stop offset=".3892" stop-color="#ffe600"/><stop offset=".3916" stop-color="#ffcd00"/><stop offset=".394" stop-color="#ffba00"/><stop offset=".3963" stop-color="#ffae00"/><stop offset=".401" stop-color="#ffa400"/><stop offset=".4081" stop-color="#ffa000"/><stop offset="1" stop-color="#ff7000"/></linearGradient>
<linearGradient id="h75"><stop offset="0" stop-color="#00008d"/><stop offset=".3043" stop-color="#0000cd"/><stop offset=".3255" stop-color="#0000d5"/><stop offset=".3397" stop-color="#0000de"/><stop offset=".3468" stop-color="#0000e7"/><stop offset=".3515" stop-color="#0000f5"/><stop offset=".3539" stop-color="#0004ff"/><stop offset=".3562" stop-color="#0019ff"/><stop offset=".3586" stop-color="#0034ff"/><stop offset=".3609" stop-color="#0054ff"/><stop offset=".3704" stop-color="#00deff"/><stop offset=".3727" stop-color="#04fffb"/><stop offset=".3869" stop-color="#c9ff36"/><stop offset=".3892" stop-color="#e9ff16"/><stop offset=".3916" stop-color="#fff800"/><stop offset=".394" stop-color="#ffdd00"/><stop offset=".3963" stop-color="#ffc800"/><stop offset=".3987" stop-color="#ffb800"/><stop offset=".401" stop-color="#ffaf00"/><stop offset=".4034" stop-color="#ffaa00"/><stop offset=".4105" stop-color="#ffa500"/><stop offset="1" stop-color="#ff7400"/></linearGradient>
<linearGradient id="h76"><stop offset="0" stop-color="#00008d"/><stop offset=".3114" stop-color="#0000cf"/><stop offset=".3303" stop-color="#0000d7"/><stop offset=".3444" stop-color="#0000e0"/><stop offset=".3515" stop-color="#0000eb"/><stop offset=".3539" stop-color="#0000f2"/><stop offset=".3562" stop-color="#0000fe"/><stop offset=".3586" stop-color="#0011ff"/><stop offset=".3609" stop-color="#002aff"/><stop offset=".3633" stop-color="#0047ff"/><stop offset=".3751" stop-color="#00f1ff"/><stop offset=".3774" stop-color="#14ffeb"/><stop offset=".3892" stop-color="#b5ff4a"/><stop offset=".394" stop-color="#f1ff0e"/><stop offset=".3963" stop-color="#fff100"/><stop offset=".3987" stop-color="#ffd900"/><stop offset=".401" stop-color="#ffc600"/><stop offset=".4034" stop-color="#ffb900"/><stop offset=".4081" stop-color="#ffad00"/><stop offset=".4152" stop-color="#ffa900"/><stop offset="1" stop-color="#ff7800"/></linearGradient>
<linearGradient id="h77"><stop offset="0" stop-color="#00008d"/><stop offset=".3114" stop-color="#0000cf"/><stop offset=".3326" stop-color="#0000d7"/><stop offset=".3468" stop-color="#0000e0"/><stop offset=".3539" stop-color="#0000e9"/><stop offset=".3586" stop-color="#0000f9"/><stop offset=".3609" stop-color="#0009ff"/><stop offset=".3633" stop-color="#001fff"/><stop offset=".3657" stop-color="#003aff"/><stop offset=".3774" stop-color="#00dfff"/><stop offset=".3798" stop-color="#09fff6"/><stop offset=".3822" stop-color="#20ffdf"/><stop offset=".3916" stop-color="#9dff62"/><stop offset=".3987" stop-color="#f6ff09"/><stop offset=".401" stop-color="#ffee00"/><stop offset=".4034" stop-color="#ffd800"/><stop offset=".4058" stop-color="#ffc700"/><stop offset=".4081" stop-color="#ffbb00"/><stop offset=".4128" stop-color="#ffb000"/><stop offset=".4199" stop-color="#ffac00"/><stop offset="1" stop-color="#ff7d00"/></linearGradient>
<linearGradient id="h78"><stop offset="0" stop-color="#00008d"/><stop offset=".3114" stop-color="#0000ce"/><stop offset=".3468" stop-color="#0000de"/><stop offset=".3562" stop-color="#0000e8"/><stop offset=".3609" stop-color="#0000f5"/><stop offset=".3633" stop-color="#0002ff"/><stop offset=".3657" stop-color="#0014ff"/><stop offset=".368" stop-color="#002cff"/><stop offset=".3727" stop-color="#0068ff"/><stop offset=".3822" stop-color="#00e9ff"/><stop offset=".3845" stop-color="#0afff5"/><stop offset=".3963" stop-color="#a2ff5d"/><stop offset=".4034" stop-color="#f7ff08"/><stop offset=".4058" stop-color="#ffee00"/><stop offset=".4081" stop-color="#ffd900"/><stop offset=".4105" stop-color="#ffc800"/><stop offset=".4128" stop-color="#ffbd00"/><stop offset=".4176" stop-color="#ffb300"/><stop offset=".4246" stop-color="#ffb000"/><stop offset="1" stop-color="#ff8100"/></linearGradient>
<linearGradient id="h79"><stop offset="0" stop-color="#00008d"/><stop offset=".3161" stop-color="#0000cf"/><stop offset=".3373" stop-color="#0000d7"/><stop offset=".3539" stop-color="#0000e2"/><stop offset=".3609" stop-color="#0000eb"/><stop offset=".3657" stop-color="#0000fa"/><stop offset=".368" stop-color="#000aff"/><stop offset=".3704" stop-color="#001eff"/><stop offset=".3751" stop-color="#0054ff"/><stop offset=".3869" stop-color="#00f1ff"/><stop offset=".3892" stop-color="#12ffed"/><stop offset=".4034" stop-color="#c0ff3f"/><stop offset=".4081" stop-color="#f7ff08"/><stop offset=".4105" stop-color="#ffef00"/><stop offset=".4128" stop-color="#ffda00"/><stop offset=".4152" stop-color="#ffca00"/><stop offset=".4176" stop-color="#ffc000"/><stop offset=".4223" stop-color="#ffb600"/><stop offset=".4293" stop-color="#ffb300"/><stop offset="1" stop-color="#ff8600"/></linearGradient>
<linearGradient id="h80"><stop offset="0" stop-color="#00008d"/><stop offset=".3208" stop-color="#0000d0"/><stop offset=".3421" stop-color="#0000d9"/><stop offset=".3586" stop-color="#0000e3"/><stop offset=".3657" stop-color="#0000ee"/><stop offset=".3704" stop-color="#0000ff"/><stop offset=".3727" stop-color="#0010ff"/><stop offset=".3751" stop-color="#0026ff"/><stop offset=".3774" stop-color="#0040ff"/><stop offset=".3892" stop-color="#00d7ff"/><stop offset=".3916" stop-color="#00f2ff"/><stop offset=".394" stop-color="#13ffec"/><stop offset=".4058" stop-color="#a4ff5b"/><stop offset=".4128" stop-color="#f6ff09"/><stop offset=".4152" stop-color="#fff000"/><stop offset=".4176" stop-color="#ffdc00"/><stop offset=".4199" stop-color="#ffcd00"/><stop offset=".4223" stop-color="#ffc200"/><stop offset=".427" stop-color="#ffb900"/><stop offset=".4341" stop-color="#ffb600"/><stop offset="1" stop-color="#ff8b00"/></linearGradient>
<linearGradient id="h81"><stop offset="0" stop-color="#00008d"/><stop offset=".3208" stop-color="#0000d0"/><stop offset=".3586" stop-color="#0000e1"/><stop offset=".368" stop-color="#0000eb"/><stop offset=".3727" stop-color="#0000f8"/><stop offset=".3751" stop-color="#0005ff"/><stop offset=".3774" stop-color="#0015ff"/><stop offset=".3798" stop-color="#002bff"/><stop offset=".3845" stop-color="#0062ff"/><stop offset=".3963" stop-color="#00f7ff"/><stop offset=".3987" stop-color="#16ffe9"/><stop offset=".4128" stop-color="#c1ff3e"/><stop offset=".4176" stop-color="#f6ff09"/><stop offset=".4199" stop-color="#fff000"/><stop offset=".4223" stop-color="#ffdd00"/><stop offset=".4246" stop-color="#ffce00"/><stop offset=".427" stop-color="#ffc500"/><stop offset=".4317" stop-color="#ffbc00"/><stop offset=".4388" stop-color="#ffb900"/><stop offset="1" stop-color="#ff8f00"/></linearGradient>
<linearGradient id="h82"><stop offset="0" stop-color="#00008d"/><stop offset=".3255" stop-color="#0000d1"/><stop offset=".3633" stop-color="#0000e2"/><stop offset=".3727" stop-color="#0000ed"/><stop offset=".3774" stop-color="#0000fa"/><stop offset=".3798" stop-color="#0008ff"/><stop offset=".3822" stop-color="#0019ff"/><stop offset=".3845" stop-color="#002fff"/><stop offset=".3892" stop-color="#0065ff"/><stop offset=".401" stop-color="#00f8ff"/><stop offset=".4034" stop-color="#17ffe8"/><stop offset=".4176" stop-color="#c2ff3d"/><stop offset=".4223" stop-color="#f7ff08"/><stop offset=".4246" stop-color="#fff000"/><stop offset=".427" stop-color="#ffdd00"/><stop offset=".4293" stop-color="#ffcf00"/><stop offset=".4317" stop-color="#ffc700"/><stop offset=".4364" stop-color="#ffbf00"/><stop offset=".4435" stop-color="#ffbd00"/><stop offset="1" stop-color="#ff9400"/></linearGradient>
<linearGradient id="h83"><stop offset="0" stop-color="#00008d"/><stop offset=".3303" stop-color="#0000d2"/><stop offset=".368" stop-color="#0000e3"/><stop offset=".3774" stop-color="#0000ee"/><stop offset=".3822" stop-color="#0000fc"/><stop offset=".3845" stop-color="#000aff"/><stop offset=".3869" stop-color="#001cff"/><stop offset=".3892" stop-color="#0032ff"/><stop offset=".394" stop-color="#0068ff"/><stop offset=".4034" stop-color="#00deff"/><stop offset=".4058" stop-color="#00f7ff"/><stop offset=".4081" stop-color="#19ffe6"/><stop offset=".4223" stop-color="#c4ff3b"/><stop offset=".427" stop-color="#f9ff06"/><stop offset=".4293" stop-color="#ffee00"/><stop offset=".4317" stop-color="#ffdc00"/><stop offset=".4341" stop-color="#ffd000"/><stop offset=".4364" stop-color="#ffc800"/><stop offset=".4411" stop-color="#ffc200"/><stop offset=".4482" stop-color="#ffc000"/><stop offset="1" stop-color="#ff9900"/></linearGradient>
<linearGradient id="h84"><stop offset="0" stop-color="#00008d"/><stop offset=".3326" stop-color="#0000d3"/><stop offset=".3562" stop-color="#0000db"/><stop offset=".3727" stop-color="#0000e5"/><stop offset=".3822" stop-color="#0000f0"/><stop offset=".3869" stop-color="#0000fe"/><stop offset=".3892" stop-color="#000cff"/><stop offset=".3916" stop-color="#001eff"/><stop offset=".394" stop-color="#0034ff"/><stop offset=".3987" stop-color="#006bff"/><stop offset=".4105" stop-color="#00feff"/><stop offset=".4128" stop-color="#1dffe2"/><stop offset=".4293" stop-color="#e3ff1c"/><stop offset=".4317" stop-color="#fcff03"/><stop offset=".4341" stop-color="#ffed00"/><stop offset=".4364" stop-color="#ffdc00"/><stop offset=".4388" stop-color="#ffd100"/><stop offset=".4411" stop-color="#ffca00"/><stop offset=".4459" stop-color="#ffc500"/><stop offset=".4529" stop-color="#ffc300"/><stop offset="1" stop-color="#ff9e00"/></linearGradient>
<linearGradient id="h85"><stop offset="0" stop-color="#00008d"/><stop offset=".3373" stop-color="#0000d4"/><stop offset=".3609" stop-color="#0000dc"/><stop offset=".3774" stop-color="#0000e6"/><stop offset=".3869" stop-color="#0000f1"/><stop offset=".3916" stop-color="#0001ff"/><stop offset=".394" stop-color="#000eff"/><stop offset=".3963" stop-color="#0021ff"/><stop offset=".3987" stop-color="#0038ff"/><stop offset=".4034" stop-color="#006fff"/><stop offset=".4128" stop-color="#00e6ff"/><stop offset=".4152" stop-color="#09fff6"/><stop offset=".4176" stop-color="#21ffde"/><stop offset=".427" stop-color="#94ff6b"/><stop offset=".4341" stop-color="#e6ff19"/><stop offset=".4364" stop-color="#feff01"/><stop offset=".4388" stop-color="#ffec00"/><stop offset=".4411" stop-color="#ffdd00"/><stop offset=".4435" stop-color="#ffd300"/><stop offset=".4459" stop-color="#ffcd00"/><stop offset=".4506" stop-color="#ffc800"/><stop offset=".4577" stop-color="#ffc600"/><stop offset="1" stop-color="#ffa400"/></linearGradient>
<linearGradient id="h86"><stop offset="0" stop-color="#00008d"/><stop offset=".3373" stop-color="#0000d3"/><stop offset=".3774" stop-color="#0000e3"/><stop offset=".3869" stop-color="#0000eb"/><stop offset=".394" stop-color="#0000f9"/><stop offset=".3963" stop-color="#0003ff"/><stop offset=".3987" stop-color="#0011ff"/><stop offset=".401" stop-color="#0024ff"/><stop offset=".4058" stop-color="#0057ff"/><stop offset=".4176" stop-color="#00eaff"/><stop offset=".4199" stop-color="#0afff5"/><stop offset=".4341" stop-color="#b4ff4b"/><stop offset=".4388" stop-color="#e8ff17"/><stop offset=".4411" stop-color="#ffff00"/><stop offset=".4435" stop-color="#ffec00"/><stop offset=".4459" stop-color="#ffde00"/><stop offset=".4482" stop-color="#ffd500"/><stop offset=".4529" stop-color="#ffcd00"/><stop offset=".46" stop-color="#ffca00"/><stop offset="1" stop-color="#ffa900"/></linearGradient>
<linearGradient id="h87"><stop offset="0" stop-color="#00008d"/><stop offset=".3421" stop-color="#0000d4"/><stop offset=".368" stop-color="#0000dd"/><stop offset=".3845" stop-color="#0000e6"/><stop offset=".394" stop-color="#0000ef"/><stop offset=".3987" stop-color="#0000fb"/><stop offset=".401" stop-color="#0006ff"/><stop offset=".4034" stop-color="#0015ff"/><stop offset=".4058" stop-color="#002aff"/><stop offset=".4105" stop-color="#005eff"/><stop offset=".4223" stop-color="#00f1ff"/><stop offset=".4246" stop-color="#10ffef"/><stop offset=".4364" stop-color="#9bff64"/><stop offset=".4435" stop-color="#e8ff17"/><stop offset=".4459" stop-color="#fdff02"/><stop offset=".4482" stop-color="#ffef00"/><stop offset=".4506" stop-color="#ffe100"/><stop offset=".4553" stop-color="#ffd400"/><stop offset=".4671" stop-color="#ffcd00"/><stop offset="1" stop-color="#ffae00"/></linearGradient>
<linearGradient id="h88"><stop offset="0" stop-color="#00008d"/><stop offset=".3491" stop-color="#0000d6"/><stop offset=".3892" stop-color="#0000e7"/><stop offset=".3987" stop-color="#0000f1"/><stop offset=".4034" stop-color="#0000fd"/><stop offset=".4058" stop-color="#000aff"/><stop offset=".4081" stop-color="#001aff"/><stop offset=".4105" stop-color="#0030ff"/><stop offset=".4152" stop-color="#0065ff"/><stop offset=".427" stop-color="#00f5ff"/><stop offset=".4293" stop-color="#13ffec"/><stop offset=".4388" stop-color="#80ff7f"/><stop offset=".4459" stop-color="#cdff32"/><stop offset=".4506" stop-color="#f9ff06"/><stop offset=".4529" stop-color="#fff400"/><stop offset=".4553" stop-color="#ffe700"/><stop offset=".46" stop-color="#ffd800"/><stop offset=".4647" stop-color="#ffd300"/><stop offset=".4718" stop-color="#ffd100"/><stop offset="1" stop-color="#ffb400"/></linearGradient>
<linearGradient id="h89"><stop offset="0" stop-color="#00008d"/><stop offset=".3491" stop-color="#0000d6"/><stop offset=".3892" stop-color="#0000e5"/><stop offset=".3987" stop-color="#0000ec"/><stop offset=".4058" stop-color="#0000f8"/><stop offset=".4081" stop-color="#0001ff"/><stop offset=".4105" stop-color="#000eff"/><stop offset=".4128" stop-color="#001fff"/><stop offset=".4152" stop-color="#0035ff"/><stop offset=".4199" stop-color="#006bff"/><stop offset=".4293" stop-color="#00ddff"/><stop offset=".4317" stop-color="#00f6ff"/><stop offset=".4341" stop-color="#14ffeb"/><stop offset=".4435" stop-color="#7dff82"/><stop offset=".4506" stop-color="#c6ff39"/><stop offset=".4553" stop-color="#f1ff0e"/><stop offset=".4577" stop-color="#fffc00"/><stop offset=".46" stop-color="#ffee00"/><stop offset=".4647" stop-color="#ffde00"/><stop offset=".4695" stop-color="#ffd700"/><stop offset=".4789" stop-color="#ffd400"/><stop offset="1" stop-color="#ffb900"/></linearGradient>
<linearGradient id="h90"><stop offset="0" stop-color="#00008d"/><stop offset=".3539" stop-color="#0000d7"/><stop offset=".394" stop-color="#0000e6"/><stop offset=".4034" stop-color="#0000ee"/><stop offset=".4105" stop-color="#0000fa"/><stop offset=".4128" stop-color="#0004ff"/><stop offset=".4152" stop-color="#0011ff"/><stop offset=".4176" stop-color="#0023ff"/><stop offset=".4223" stop-color="#0053ff"/><stop offset=".4364" stop-color="#00f7ff"/><stop offset=".4388" stop-color="#13ffec"/><stop offset=".4506" stop-color="#8dff72"/><stop offset=".4577" stop-color="#d1ff2e"/><stop offset=".4624" stop-color="#f7ff08"/><stop offset=".4647" stop-color="#fff800"/><stop offset=".4671" stop-color="#ffed00"/><stop offset=".4718" stop-color="#ffdf00"/><stop offset=".4765" stop-color="#ffda00"/><stop offset=".486" stop-color="#ffd800"/><stop offset="1" stop-color="#ffbf00"/></linearGradient>
<linearGradient id="h91"><stop offset="0" stop-color="#00008d"/><stop offset=".3586" stop-color="#0000d8"/><stop offset=".3987" stop-color="#0000e7"/><stop offset=".4081" stop-color="#0000ef"/><stop offset=".4152" stop-color="#0000fc"/><stop offset=".4176" stop-color="#0007ff"/><stop offset=".4199" stop-color="#0014ff"/><stop offset=".4223" stop-color="#0026ff"/><stop offset=".427" stop-color="#0055ff"/><stop offset=".4388" stop-color="#00d9ff"/><stop offset=".4411" stop-color="#00f0ff"/><stop offset=".4435" stop-color="#0bfff4"/><stop offset=".4553" stop-color="#81ff7e"/><stop offset=".4647" stop-color="#d7ff28"/><stop offset=".4695" stop-color="#f9ff06"/><stop offset=".4718" stop-color="#fff700"/><stop offset=".4742" stop-color="#ffee00"/><stop offset=".4789" stop-color="#ffe200"/><stop offset=".4836" stop-color="#ffde00"/><stop offset=".493" stop-color="#ffdc00"/><stop offset="1" stop-color="#ffc400"/></linearGradient>
<linearGradient id="h92"><stop offset="0" stop-color="#00008d"/><stop offset=".3633" stop-color="#0000d9"/><stop offset=".4034" stop-color="#0000e9"/><stop offset=".4128" stop-color="#0000f0"/><stop offset=".4199" stop-color="#0000fe"/><stop offset=".4223" stop-color="#0008ff"/><stop offset=".4246" stop-color="#0015ff"/><stop offset=".427" stop-color="#0026ff"/><stop offset=".4317" stop-color="#0053ff"/><stop offset=".4459" stop-color="#00e9ff"/><stop offset=".4482" stop-color="#06fff9"/><stop offset=".4506" stop-color="#18ffe7"/><stop offset=".4624" stop-color="#88ff77"/><stop offset=".4695" stop-color="#c6ff39"/><stop offset=".4742" stop-color="#eaff15"/><stop offset=".4765" stop-color="#f9ff06"/><stop offset=".4789" stop-color="#fff900"/><stop offset=".4812" stop-color="#fff000"/><stop offset=".486" stop-color="#ffe600"/><stop offset=".5001" stop-color="#ffe000"/><stop offset="1" stop-color="#ffca00"/></linearGradient>
<linearGradient id="h93"><stop offset="0" stop-color="#00008d"/><stop offset=".3657" stop-color="#0000d9"/><stop offset=".4081" stop-color="#0000ea"/><stop offset=".4176" stop-color="#0000f1"/><stop offset=".4246" stop-color="#0000fe"/><stop offset=".427" stop-color="#0008ff"/><stop offset=".4293" stop-color="#0014ff"/><stop offset=".4341" stop-color="#0037ff"/><stop offset=".4506" stop-color="#00ddff"/><stop offset=".4529" stop-color="#00f2ff"/><stop offset=".4553" stop-color="#0bfff4"/><stop offset=".4695" stop-color="#8bff74"/><stop offset=".4765" stop-color="#c6ff39"/><stop offset=".4812" stop-color="#e9ff16"/><stop offset=".4836" stop-color="#f7ff08"/><stop offset=".486" stop-color="#fffc00"/><stop offset=".4883" stop-color="#fff300"/><stop offset=".493" stop-color="#ffea00"/><stop offset=".5072" stop-color="#ffe400"/><stop offset="1" stop-color="#ffd000"/></linearGradient>
<linearGradient id="h94"><stop offset="0" stop-color="#00008d"/><stop offset=".368" stop-color="#0000d9"/><stop offset=".4105" stop-color="#0000e9"/><stop offset=".4223" stop-color="#0000f2"/><stop offset=".4293" stop-color="#0000fe"/><stop offset=".4317" stop-color="#0006ff"/><stop offset=".4341" stop-color="#0011ff"/><stop offset=".4388" stop-color="#0031ff"/><stop offset=".4435" stop-color="#005bff"/><stop offset=".4553" stop-color="#00ceff"/><stop offset=".46" stop-color="#00f6ff"/><stop offset=".4624" stop-color="#10ffef"/><stop offset=".4765" stop-color="#8cff73"/><stop offset=".4836" stop-color="#c5ff3a"/><stop offset=".4883" stop-color="#e6ff19"/><stop offset=".493" stop-color="#feff01"/><stop offset=".5001" stop-color="#ffee00"/><stop offset=".5143" stop-color="#ffe800"/><stop offset="1" stop-color="#ffd600"/></linearGradient>
<linearGradient id="h95"><stop offset="0" stop-color="#00008d"/><stop offset=".3704" stop-color="#0000da"/><stop offset=".4152" stop-color="#0000ea"/><stop offset=".427" stop-color="#0000f2"/><stop offset=".4341" stop-color="#0000fd"/><stop offset=".4364" stop-color="#0004ff"/><stop offset=".4388" stop-color="#000dff"/><stop offset=".4435" stop-color="#0029ff"/><stop offset=".4482" stop-color="#004fff"/><stop offset=".4624" stop-color="#00d3ff"/><stop offset=".4671" stop-color="#00fbff"/><stop offset=".4695" stop-color="#13ffec"/><stop offset=".4812" stop-color="#77ff88"/><stop offset=".4907" stop-color="#c2ff3d"/><stop offset=".4978" stop-color="#efff10"/><stop offset=".5001" stop-color="#faff05"/><stop offset=".5025" stop-color="#fffc00"/><stop offset=".5096" stop-color="#fff100"/><stop offset=".5237" stop-color="#ffed00"/><stop offset="1" stop-color="#ffdc00"/></linearGradient>
<linearGradient id="h96"><stop offset="0" stop-color="#00008d"/><stop offset=".3727" stop-color="#0000da"/><stop offset=".4176" stop-color="#0000ea"/><stop offset=".4317" stop-color="#0000f3"/><stop offset=".4388" stop-color="#0000fc"/><stop offset=".4411" stop-color="#0002ff"/><stop offset=".4435" stop-color="#0009ff"/><stop offset=".4482" stop-color="#0020ff"/><stop offset=".4506" stop-color="#0030ff"/><stop offset=".4553" stop-color="#0056ff"/><stop offset=".4742" stop-color="#00ffff"/><stop offset=".4883" stop-color="#74ff8b"/><stop offset=".5001" stop-color="#cdff32"/><stop offset=".5048" stop-color="#e9ff16"/><stop offset=".5072" stop-color="#f4ff0b"/><stop offset=".5096" stop-color="#fcff03"/><stop offset=".5119" stop-color="#fffc00"/><stop offset=".519" stop-color="#fff400"/><stop offset=".5331" stop-color="#fff200"/><stop offset="1" stop-color="#ffe100"/></linearGradient>
<linearGradient id="h97"><stop offset="0" stop-color="#00008d"/><stop offset=".3798" stop-color="#0000dc"/><stop offset=".4246" stop-color="#0000eb"/><stop offset=".4388" stop-color="#0000f5"/><stop offset=".4459" stop-color="#0000fe"/><stop offset=".4482" stop-color="#0005ff"/><stop offset=".4529" stop-color="#0018ff"/><stop offset=".4577" stop-color="#0035ff"/><stop offset=".4624" stop-color="#005bff"/><stop offset=".4789" stop-color="#00ebff"/><stop offset=".4812" stop-color="#00fbff"/><stop offset=".4836" stop-color="#14ffeb"/><stop offset=".4954" stop-color="#70ff8f"/><stop offset=".5072" stop-color="#c6ff39"/><stop offset=".5143" stop-color="#edff12"/><stop offset=".519" stop-color="#fbff04"/><stop offset=".5213" stop-color="#fffe00"/><stop offset=".5284" stop-color="#fff800"/><stop offset=".5426" stop-color="#fff600"/><stop offset="1" stop-color="#ffe700"/></linearGradient>
<linearGradient id="h98"><stop offset="0" stop-color="#00008d"/><stop offset=".3798" stop-color="#0000dc"/><stop offset=".427" stop-color="#0000eb"/><stop offset=".4411" stop-color="#0000f3"/><stop offset=".4506" stop-color="#0000fd"/><stop offset=".4529" stop-color="#0002ff"/><stop offset=".4553" stop-color="#0008ff"/><stop offset=".4577" stop-color="#0010ff"/><stop offset=".4624" stop-color="#0029ff"/><stop offset=".4695" stop-color="#005eff"/><stop offset=".486" stop-color="#00eaff"/><stop offset=".4883" stop-color="#00f8ff"/><stop offset=".4907" stop-color="#11ffee"/><stop offset=".5072" stop-color="#8dff72"/><stop offset=".5166" stop-color="#cdff32"/><stop offset=".5213" stop-color="#e5ff1a"/><stop offset=".5237" stop-color="#eeff11"/><stop offset=".5284" stop-color="#f9ff06"/><stop offset=".5331" stop-color="#ffff00"/><stop offset=".5544" stop-color="#fffc00"/><stop offset="1" stop-color="#ffed00"/></linearGradient>
<linearGradient id="h99"><stop offset="0" stop-color="#00008d"/><stop offset=".3869" stop-color="#0000dd"/><stop offset=".4341" stop-color="#0000ed"/><stop offset=".4482" stop-color="#0000f5"/><stop offset=".4577" stop-color="#0000ff"/><stop offset=".4624" stop-color="#000aff"/><stop offset=".4647" stop-color="#0013ff"/><stop offset=".4695" stop-color="#002bff"/><stop offset=".4742" stop-color="#004dff"/><stop offset=".4907" stop-color="#00d4ff"/><stop offset=".4954" stop-color="#00f7ff"/><stop offset=".4978" stop-color="#0cfff3"/><stop offset=".5166" stop-color="#95ff6a"/><stop offset=".5261" stop-color="#d1ff2e"/><stop offset=".5308" stop-color="#e6ff19"/><stop offset=".5331" stop-color="#edff12"/><stop offset=".5379" stop-color="#f6ff09"/><stop offset=".5426" stop-color="#faff05"/><stop offset=".6275" stop-color="#ffff00"/><stop offset="1" stop-color="#fff300"/></linearGradient>
<linearGradient id="h100"><stop offset="0" stop-color="#00008d"/><stop offset=".3892" stop-color="#0000dd"/><stop offset=".4364" stop-color="#0000ec"/><stop offset=".4529" stop-color="#0000f5"/><stop offset=".4624" stop-color="#0000fd"/><stop offset=".4647" stop-color="#0001ff"/><stop offset=".4695" stop-color="#000cff"/><stop offset=".4718" stop-color="#0014ff"/><stop offset=".4765" stop-color="#002dff"/><stop offset=".4812" stop-color="#004dff"/><stop offset=".5025" stop-color="#00f4ff"/><stop offset=".5048" stop-color="#06fff9"/><stop offset=".5237" stop-color="#8cff73"/><stop offset=".5331" stop-color="#c7ff38"/><stop offset=".5379" stop-color="#ddff22"/><stop offset=".5402" stop-color="#e5ff1a"/><stop offset=".5449" stop-color="#efff10"/><stop offset=".5497" stop-color="#f4ff0b"/><stop offset=".5685" stop-color="#f7ff08"/><stop offset=".8209" stop-color="#ffff00"/><stop offset="1" stop-color="#fffa00"/></linearGradient>
<linearGradient id="h101"><stop offset="0" stop-color="#00008d"/><stop offset=".394" stop-color="#0000de"/><stop offset=".4435" stop-color="#0000ee"/><stop offset=".46" stop-color="#0000f6"/><stop offset=".4695" stop-color="#0000fe"/><stop offset=".4765" stop-color="#000dff"/><stop offset=".4789" stop-color="#0016ff"/><stop offset=".4836" stop-color="#002dff"/><stop offset=".4907" stop-color="#005dff"/><stop offset=".5096" stop-color="#00edff"/><stop offset=".5119" stop-color="#00f8ff"/><stop offset=".5143" stop-color="#11ffee"/><stop offset=".5331" stop-color="#92ff6d"/><stop offset=".5426" stop-color="#caff35"/><stop offset=".5473" stop-color="#ddff22"/><stop offset=".5497" stop-color="#e4ff1b"/><stop offset=".5544" stop-color="#ecff13"/><stop offset=".5591" stop-color="#efff10"/><stop offset="1" stop-color="#feff01"/></linearGradient>
<linearGradient id="h102"><stop offset="0" stop-color="#00008d"/><stop offset=".3987" stop-color="#0000df"/><stop offset=".4482" stop-color="#0000ee"/><stop offset=".4765" stop-color="#0001ff"/><stop offset=".4836" stop-color="#000eff"/><stop offset=".4883" stop-color="#0020ff"/><stop offset=".4907" stop-color="#002cff"/><stop offset=".4978" stop-color="#005aff"/><stop offset=".5119" stop-color="#00c4ff"/><stop offset=".519" stop-color="#00f6ff"/><stop offset=".5213" stop-color="#08fff7"/><stop offset=".5402" stop-color="#88ff77"/><stop offset=".5497" stop-color="#c1ff3e"/><stop offset=".5567" stop-color="#dcff23"/><stop offset=".5615" stop-color="#e5ff1a"/><stop offset=".5662" stop-color="#e9ff16"/><stop offset=".5874" stop-color="#ebff14"/><stop offset="1" stop-color="#f8ff07"/></linearGradient>
<linearGradient id="h103"><stop offset="0" stop-color="#00008d"/><stop offset=".401" stop-color="#0000e0"/><stop offset=".4529" stop-color="#0000ef"/><stop offset=".4812" stop-color="#0000fe"/><stop offset=".486" stop-color="#0005ff"/><stop offset=".4907" stop-color="#000eff"/><stop offset=".4954" stop-color="#001fff"/><stop offset=".4978" stop-color="#002aff"/><stop offset=".5048" stop-color="#0057ff"/><stop offset=".5261" stop-color="#00f0ff"/><stop offset=".5284" stop-color="#03fffc"/><stop offset=".5497" stop-color="#8eff71"/><stop offset=".5544" stop-color="#abff54"/><stop offset=".5591" stop-color="#c3ff3c"/><stop offset=".5638" stop-color="#d4ff2b"/><stop offset=".5662" stop-color="#daff25"/><stop offset=".5732" stop-color="#e2ff1d"/><stop offset=".5945" stop-color="#e5ff1a"/><stop offset="1" stop-color="#f2ff0d"/></linearGradient>
<linearGradient id="h104"><stop offset="0" stop-color="#00008d"/><stop offset=".4081" stop-color="#0000e1"/><stop offset=".4577" stop-color="#0000ef"/><stop offset=".4883" stop-color="#0000ff"/><stop offset=".4978" stop-color="#000eff"/><stop offset=".5025" stop-color="#001dff"/><stop offset=".5048" stop-color="#0028ff"/><stop offset=".5119" stop-color="#0052ff"/><stop offset=".5308" stop-color="#00d8ff"/><stop offset=".5355" stop-color="#00f6ff"/><stop offset=".5379" stop-color="#0afff5"/><stop offset=".5567" stop-color="#85ff7a"/><stop offset=".5662" stop-color="#baff45"/><stop offset=".5732" stop-color="#d2ff2d"/><stop offset=".5803" stop-color="#dbff24"/><stop offset=".6016" stop-color="#dfff20"/><stop offset="1" stop-color="#ecff13"/></linearGradient>
<linearGradient id="h105"><stop offset="0" stop-color="#00008d"/><stop offset=".4105" stop-color="#0000e2"/><stop offset=".4624" stop-color="#0000f0"/><stop offset=".493" stop-color="#0000fe"/><stop offset=".5001" stop-color="#0006ff"/><stop offset=".5048" stop-color="#000eff"/><stop offset=".5119" stop-color="#0026ff"/><stop offset=".519" stop-color="#004eff"/><stop offset=".5426" stop-color="#00f2ff"/><stop offset=".5449" stop-color="#03fffc"/><stop offset=".5638" stop-color="#7cff83"/><stop offset=".5732" stop-color="#b1ff4e"/><stop offset=".5803" stop-color="#caff35"/><stop offset=".585" stop-color="#d2ff2d"/><stop offset=".5898" stop-color="#d6ff29"/><stop offset="1" stop-color="#e6ff19"/></linearGradient>
<linearGradient id="h106"><stop offset="0" stop-color="#00008d"/><stop offset=".4152" stop-color="#0000e2"/><stop offset=".4671" stop-color="#0000f0"/><stop offset=".5001" stop-color="#0000ff"/><stop offset=".5119" stop-color="#000eff"/><stop offset=".5166" stop-color="#001bff"/><stop offset=".5213" stop-color="#002fff"/><stop offset=".5284" stop-color="#0059ff"/><stop offset=".5473" stop-color="#00dcff"/><stop offset=".552" stop-color="#00f9ff"/><stop offset=".5544" stop-color="#0dfff2"/><stop offset=".5732" stop-color="#81ff7e"/><stop offset=".5803" stop-color="#a8ff57"/><stop offset=".5874" stop-color="#c2ff3d"/><stop offset=".5921" stop-color="#cbff34"/><stop offset=".5968" stop-color="#cfff30"/><stop offset=".6181" stop-color="#d2ff2d"/><stop offset="1" stop-color="#e0ff1f"/></linearGradient>
<linearGradient id="h107"><stop offset="0" stop-color="#00008d"/><stop offset=".4199" stop-color="#0000e3"/><stop offset=".4718" stop-color="#0000f1"/><stop offset=".5048" stop-color="#0000ff"/><stop offset=".5119" stop-color="#0005ff"/><stop offset=".519" stop-color="#000eff"/><stop offset=".5237" stop-color="#001aff"/><stop offset=".5284" stop-color="#002cff"/><stop offset=".5355" stop-color="#0055ff"/><stop offset=".552" stop-color="#00c6ff"/><stop offset=".5591" stop-color="#00f4ff"/><stop offset=".5615" stop-color="#05fffa"/><stop offset=".5803" stop-color="#78ff87"/><stop offset=".5898" stop-color="#a8ff57"/><stop offset=".5968" stop-color="#beff41"/><stop offset=".6063" stop-color="#c8ff37"/><stop offset="1" stop-color="#d9ff26"/></linearGradient>
<linearGradient id="h108"><stop offset="0" stop-color="#00008d"/><stop offset=".4223" stop-color="#0000e4"/><stop offset=".4742" stop-color="#0000f1"/><stop offset=".5119" stop-color="#0001ff"/><stop offset=".5261" stop-color="#000eff"/><stop offset=".5308" stop-color="#0019ff"/><stop offset=".5355" stop-color="#002aff"/><stop offset=".5426" stop-color="#0052ff"/><stop offset=".5591" stop-color="#00c1ff"/><stop offset=".5685" stop-color="#00fcff"/><stop offset=".5709" stop-color="#0dfff2"/><stop offset=".5874" stop-color="#6dff92"/><stop offset=".5968" stop-color="#9dff62"/><stop offset=".6039" stop-color="#b5ff4a"/><stop offset=".6086" stop-color="#bdff42"/><stop offset=".6134" stop-color="#c1ff3e"/><stop offset=".6369" stop-color="#c5ff3a"/><stop offset="1" stop-color="#d3ff2c"/></linearGradient>
<linearGradient id="h109"><stop offset="0" stop-color="#00008d"/><stop offset=".427" stop-color="#0000e5"/><stop offset=".4789" stop-color="#0000f1"/><stop offset=".5166" stop-color="#0001ff"/><stop offset=".5331" stop-color="#000eff"/><stop offset=".5379" stop-color="#0018ff"/><stop offset=".5426" stop-color="#0029ff"/><stop offset=".5497" stop-color="#004fff"/><stop offset=".5685" stop-color="#00caff"/><stop offset=".5756" stop-color="#00f4ff"/><stop offset=".578" stop-color="#06fff9"/><stop offset=".5968" stop-color="#6eff91"/><stop offset=".6063" stop-color="#9aff65"/><stop offset=".6134" stop-color="#afff50"/><stop offset=".6228" stop-color="#baff45"/><stop offset=".6464" stop-color="#beff41"/><stop offset="1" stop-color="#cdff32"/></linearGradient>
<linearGradient id="h110"><stop offset="0" stop-color="#00008d"/><stop offset=".4317" stop-color="#0000e6"/><stop offset=".4836" stop-color="#0000f2"/><stop offset=".5213" stop-color="#0001ff"/><stop offset=".5331" stop-color="#0007ff"/><stop offset=".5402" stop-color="#000fff"/><stop offset=".5449" stop-color="#0018ff"/><stop offset=".5497" stop-color="#0028ff"/><stop offset=".5567" stop-color="#004cff"/><stop offset=".5756" stop-color="#00c4ff"/><stop offset=".585" stop-color="#00fbff"/><stop offset=".5874" stop-color="#0afff5"/><stop offset=".6039" stop-color="#62ff9d"/><stop offset=".6134" stop-color="#8dff72"/><stop offset=".6181" stop-color="#9dff62"/><stop offset=".6228" stop-color="#a9ff56"/><stop offset=".6322" stop-color="#b3ff4c"/><stop offset=".6582" stop-color="#b7ff48"/><stop offset="1" stop-color="#c6ff39"/></linearGradient>
<linearGradient id="h111"><stop offset="0" stop-color="#00008d"/><stop offset=".4341" stop-color="#0000e6"/><stop offset=".5261" stop-color="#0001ff"/><stop offset=".5402" stop-color="#0008ff"/><stop offset=".5473" stop-color="#0010ff"/><stop offset=".552" stop-color="#0018ff"/><stop offset=".5567" stop-color="#0027ff"/><stop offset=".5638" stop-color="#0049ff"/><stop offset=".585" stop-color="#00caff"/><stop offset=".5921" stop-color="#00f1ff"/><stop offset=".5945" stop-color="#05fffa"/><stop offset=".5968" stop-color="#0dfff2"/><stop offset=".6157" stop-color="#69ff96"/><stop offset=".6251" stop-color="#8eff71"/><stop offset=".6299" stop-color="#9bff64"/><stop offset=".6346" stop-color="#a4ff5b"/><stop offset=".644" stop-color="#acff53"/><stop offset=".6723" stop-color="#b0ff4f"/><stop offset="1" stop-color="#c0ff3f"/></linearGradient>
<linearGradient id="h112"><stop offset="0" stop-color="#00008d"/><stop offset=".4364" stop-color="#0000e6"/><stop offset=".5308" stop-color="#0001ff"/><stop offset=".552" stop-color="#000dff"/><stop offset=".5591" stop-color="#0018ff"/><stop offset=".5638" stop-color="#0025ff"/><stop offset=".5685" stop-color="#0039ff"/><stop offset=".5732" stop-color="#0052ff"/><stop offset=".5898" stop-color="#00b4ff"/><stop offset=".6016" stop-color="#00f4ff"/><stop offset=".6039" stop-color="#01fffe"/><stop offset=".6228" stop-color="#58ffa7"/><stop offset=".6346" stop-color="#84ff7b"/><stop offset=".644" stop-color="#9aff65"/><stop offset=".6558" stop-color="#a5ff5a"/><stop offset=".6818" stop-color="#a9ff56"/><stop offset="1" stop-color="#b9ff46"/></linearGradient>
<linearGradient id="h113"><stop offset="0" stop-color="#00008d"/><stop offset=".4341" stop-color="#0000e6"/><stop offset=".5379" stop-color="#0002ff"/><stop offset=".5591" stop-color="#000eff"/><stop offset=".5662" stop-color="#0018ff"/><stop offset=".5709" stop-color="#0024ff"/><stop offset=".578" stop-color="#0041ff"/><stop offset=".6016" stop-color="#00c3ff"/><stop offset=".6086" stop-color="#00e7ff"/><stop offset=".6134" stop-color="#00fbff"/><stop offset=".6157" stop-color="#0afff5"/><stop offset=".6299" stop-color="#45ffba"/><stop offset=".644" stop-color="#76ff89"/><stop offset=".6558" stop-color="#91ff6e"/><stop offset=".6676" stop-color="#9eff61"/><stop offset=".6936" stop-color="#a2ff5d"/><stop offset="1" stop-color="#b2ff4d"/></linearGradient>
<linearGradient id="h114"><stop offset="0" stop-color="#00008d"/><stop offset=".4459" stop-color="#0000e8"/><stop offset=".5355" stop-color="#0000ff"/><stop offset=".5449" stop-color="#0003ff"/><stop offset=".5662" stop-color="#000fff"/><stop offset=".5732" stop-color="#0018ff"/><stop offset=".578" stop-color="#0022ff"/><stop offset=".5827" stop-color="#0032ff"/><stop offset=".5874" stop-color="#0048ff"/><stop offset=".6086" stop-color="#00b7ff"/><stop offset=".6157" stop-color="#00d9ff"/><stop offset=".6228" stop-color="#00f7ff"/><stop offset=".6251" stop-color="#06fff9"/><stop offset=".6464" stop-color="#50ffaf"/><stop offset=".6605" stop-color="#7aff85"/><stop offset=".67" stop-color="#8dff72"/><stop offset=".6818" stop-color="#97ff68"/><stop offset=".7077" stop-color="#9bff64"/><stop offset="1" stop-color="#abff54"/></linearGradient>
<linearGradient id="h115"><stop offset="0" stop-color="#00008d"/><stop offset=".4482" stop-color="#0000e9"/><stop offset=".5379" stop-color="#0000ff"/><stop offset=".552" stop-color="#0005ff"/><stop offset=".5756" stop-color="#0012ff"/><stop offset=".5827" stop-color="#001bff"/><stop offset=".5874" stop-color="#0027ff"/><stop offset=".5921" stop-color="#0038ff"/><stop offset=".5968" stop-color="#004cff"/><stop offset=".6204" stop-color="#00bfff"/><stop offset=".6346" stop-color="#00f7ff"/><stop offset=".6369" stop-color="#03fffc"/><stop offset=".6723" stop-color="#73ff8c"/><stop offset=".6818" stop-color="#87ff78"/><stop offset=".6912" stop-color="#8fff70"/><stop offset=".7195" stop-color="#94ff6b"/><stop offset="1" stop-color="#a3ff5c"/></linearGradient>
<linearGradient id="h116"><stop offset="0" stop-color="#00008d"/><stop offset=".4506" stop-color="#0000e9"/><stop offset=".5402" stop-color="#0000fe"/><stop offset=".5591" stop-color="#0006ff"/><stop offset=".5827" stop-color="#0012ff"/><stop offset=".5898" stop-color="#001aff"/><stop offset=".5945" stop-color="#0024ff"/><stop offset=".5992" stop-color="#0032ff"/><stop offset=".6039" stop-color="#0044ff"/><stop offset=".6299" stop-color="#00b6ff"/><stop offset=".6487" stop-color="#00faff"/><stop offset=".6511" stop-color="#04fffb"/><stop offset=".6747" stop-color="#52ffad"/><stop offset=".6841" stop-color="#6dff92"/><stop offset=".6936" stop-color="#7fff80"/><stop offset=".7054" stop-color="#88ff77"/><stop offset=".736" stop-color="#8dff72"/><stop offset="1" stop-color="#9cff63"/></linearGradient>
<linearGradient id="h117"><stop offset="0" stop-color="#00008d"/><stop offset=".4553" stop-color="#0000ea"/><stop offset=".5449" stop-color="#0000ff"/><stop offset=".585" stop-color="#000fff"/><stop offset=".5945" stop-color="#0017ff"/><stop offset=".6016" stop-color="#0021ff"/><stop offset=".611" stop-color="#003cff"/><stop offset=".6346" stop-color="#0099ff"/><stop offset=".6558" stop-color="#00e6ff"/><stop offset=".6629" stop-color="#00fdff"/><stop offset=".6653" stop-color="#07fff8"/><stop offset=".6841" stop-color="#45ffba"/><stop offset=".6959" stop-color="#65ff9a"/><stop offset=".7077" stop-color="#77ff88"/><stop offset=".7195" stop-color="#80ff7f"/><stop offset=".7478" stop-color="#85ff7a"/><stop offset="1" stop-color="#94ff6b"/></linearGradient>
<linearGradient id="h118"><stop offset="0" stop-color="#00008d"/><stop offset=".5473" stop-color="#0000ff"/><stop offset=".5921" stop-color="#0010ff"/><stop offset=".6039" stop-color="#0018ff"/><stop offset=".611" stop-color="#0022ff"/><stop offset=".6157" stop-color="#002cff"/><stop offset=".6228" stop-color="#0041ff"/><stop offset=".67" stop-color="#00ecff"/><stop offset=".6747" stop-color="#00fcff"/><stop offset=".677" stop-color="#05fffa"/><stop offset=".6936" stop-color="#37ffc8"/><stop offset=".7077" stop-color="#58ffa7"/><stop offset=".7219" stop-color="#6eff91"/><stop offset=".736" stop-color="#79ff86"/><stop offset=".762" stop-color="#7eff81"/><stop offset="1" stop-color="#8cff73"/></linearGradient>
<linearGradient id="h119"><stop offset="0" stop-color="#00008d"/><stop offset=".5497" stop-color="#0000ff"/><stop offset=".6016" stop-color="#0012ff"/><stop offset=".6134" stop-color="#001aff"/><stop offset=".6228" stop-color="#0026ff"/><stop offset=".6299" stop-color="#0035ff"/><stop offset=".6393" stop-color="#0052ff"/><stop offset=".6747" stop-color="#00d2ff"/><stop offset=".6888" stop-color="#01fffe"/><stop offset=".7077" stop-color="#30ffcf"/><stop offset=".7266" stop-color="#57ffa8"/><stop offset=".7384" stop-color="#69ff96"/><stop offset=".7502" stop-color="#72ff8d"/><stop offset=".7761" stop-color="#76ff89"/><stop offset="1" stop-color="#83ff7c"/></linearGradient>
<linearGradient id="h120"><stop offset="0" stop-color="#00008d"/><stop offset=".5544" stop-color="#0001ff"/><stop offset=".6134" stop-color="#0015ff"/><stop offset=".6251" stop-color="#001cff"/><stop offset=".6346" stop-color="#0028ff"/><stop offset=".6417" stop-color="#0036ff"/><stop offset=".6511" stop-color="#0052ff"/><stop offset=".677" stop-color="#00b0ff"/><stop offset=".6865" stop-color="#00cfff"/><stop offset=".6983" stop-color="#00f0ff"/><stop offset=".7054" stop-color="#02fffd"/><stop offset=".7431" stop-color="#56ffa9"/><stop offset=".7525" stop-color="#63ff9c"/><stop offset=".762" stop-color="#69ff96"/><stop offset=".7926" stop-color="#6eff91"/><stop offset="1" stop-color="#7bff84"/></linearGradient>
<linearGradient id="h121"><stop offset="0" stop-color="#00008d"/><stop offset=".552" stop-color="#0000ff"/><stop offset=".5638" stop-color="#0003ff"/><stop offset=".6251" stop-color="#0017ff"/><stop offset=".6369" stop-color="#001eff"/><stop offset=".6464" stop-color="#0029ff"/><stop offset=".6511" stop-color="#0032ff"/><stop offset=".6582" stop-color="#0045ff"/><stop offset=".6818" stop-color="#0096ff"/><stop offset=".6936" stop-color="#00bbff"/><stop offset=".7077" stop-color="#00dfff"/><stop offset=".7219" stop-color="#01fffe"/><stop offset=".7455" stop-color="#39ffc6"/><stop offset=".7549" stop-color="#4dffb2"/><stop offset=".7643" stop-color="#5affa5"/><stop offset=".7738" stop-color="#60ff9f"/><stop offset=".8068" stop-color="#66ff99"/><stop offset="1" stop-color="#72ff8d"/></linearGradient>
<linearGradient id="h122"><stop offset="0" stop-color="#00008d"/><stop offset=".552" stop-color="#0000ff"/><stop offset=".5732" stop-color="#0005ff"/><stop offset=".6346" stop-color="#0018ff"/><stop offset=".6464" stop-color="#001eff"/><stop offset=".6558" stop-color="#0028ff"/><stop offset=".6605" stop-color="#0031ff"/><stop offset=".6676" stop-color="#0042ff"/><stop offset=".6888" stop-color="#0084ff"/><stop offset=".7006" stop-color="#00a5ff"/><stop offset=".736" stop-color="#00fdff"/><stop offset=".7384" stop-color="#05fffa"/><stop offset=".7549" stop-color="#2cffd3"/><stop offset=".7667" stop-color="#42ffbd"/><stop offset=".7785" stop-color="#50ffaf"/><stop offset=".7903" stop-color="#57ffa8"/><stop offset=".8233" stop-color="#5dffa2"/><stop offset="1" stop-color="#68ff97"/></linearGradient>
<linearGradient id="h123"><stop offset="0" stop-color="#00008d"/><stop offset=".5544" stop-color="#0000ff"/><stop offset=".585" stop-color="#0007ff"/><stop offset=".6464" stop-color="#001aff"/><stop offset=".6582" stop-color="#0021ff"/><stop offset=".6676" stop-color="#002cff"/><stop offset=".6794" stop-color="#0045ff"/><stop offset=".7502" stop-color="#00feff"/><stop offset=".7667" stop-color="#21ffde"/><stop offset=".7785" stop-color="#34ffcb"/><stop offset=".7926" stop-color="#44ffbb"/><stop offset=".8092" stop-color="#4effb1"/><stop offset=".8398" stop-color="#54ffab"/><stop offset="1" stop-color="#5effa1"/></linearGradient>
<linearGradient id="h124"><stop offset="0" stop-color="#00008d"/><stop offset=".5544" stop-color="#0000ff"/><stop offset=".5992" stop-color="#000aff"/><stop offset=".6582" stop-color="#001dff"/><stop offset=".67" stop-color="#0024ff"/><stop offset=".6794" stop-color="#002eff"/><stop offset=".6888" stop-color="#003fff"/><stop offset=".7054" stop-color="#0065ff"/><stop offset=".7219" stop-color="#008eff"/><stop offset=".7502" stop-color="#00dcff"/><stop offset=".7667" stop-color="#01fffe"/><stop offset=".7832" stop-color="#1bffe4"/><stop offset=".7997" stop-color="#30ffcf"/><stop offset=".8139" stop-color="#3effc1"/><stop offset=".828" stop-color="#46ffb9"/><stop offset=".8587" stop-color="#4bffb4"/><stop offset="1" stop-color="#53ffac"/></linearGradient>
<linearGradient id="h125"><stop offset="0" stop-color="#00008d"/><stop offset=".5544" stop-color="#0000ff"/><stop offset=".6157" stop-color="#000eff"/><stop offset=".67" stop-color="#001fff"/><stop offset=".6841" stop-color="#0028ff"/><stop offset=".6936" stop-color="#0032ff"/><stop offset=".703" stop-color="#0041ff"/><stop offset=".7148" stop-color="#005aff"/><stop offset=".7478" stop-color="#00b3ff"/><stop offset=".762" stop-color="#00d5ff"/><stop offset=".7761" stop-color="#00efff"/><stop offset=".7856" stop-color="#00fcff"/><stop offset=".7879" stop-color="#03fffc"/><stop offset=".8233" stop-color="#2fffd0"/><stop offset=".8445" stop-color="#3cffc3"/><stop offset=".8728" stop-color="#40ffbf"/><stop offset="1" stop-color="#48ffb7"/></linearGradient>
<linearGradient id="h126"><stop offset="0" stop-color="#00008d"/><stop offset=".5567" stop-color="#0000ff"/><stop offset=".6322" stop-color="#0012ff"/><stop offset=".6841" stop-color="#0022ff"/><stop offset=".6983" stop-color="#002bff"/><stop offset=".7077" stop-color="#0034ff"/><stop offset=".7219" stop-color="#004eff"/><stop offset=".7525" stop-color="#009eff"/><stop offset=".7667" stop-color="#00beff"/><stop offset=".7856" stop-color="#00dfff"/><stop offset=".8068" stop-color="#00fcff"/><stop offset=".8092" stop-color="#02fffd"/><stop offset=".8375" stop-color="#24ffdb"/><stop offset=".8587" stop-color="#31ffce"/><stop offset=".887" stop-color="#36ffc9"/><stop offset="1" stop-color="#3dffc2"/></linearGradient>
<linearGradient id="h127"><stop offset="0" stop-color="#00008d"/><stop offset=".5567" stop-color="#0000ff"/><stop offset=".6417" stop-color="#0013ff"/><stop offset=".6983" stop-color="#0025ff"/><stop offset=".7101" stop-color="#002bff"/><stop offset=".7195" stop-color="#0035ff"/><stop offset=".7289" stop-color="#0045ff"/><stop offset=".7549" stop-color="#0085ff"/><stop offset=".7714" stop-color="#00a7ff"/><stop offset=".8021" stop-color="#00d9ff"/><stop offset=".828" stop-color="#00ffff"/><stop offset=".854" stop-color="#1cffe3"/><stop offset=".8752" stop-color="#27ffd8"/><stop offset="1" stop-color="#32ffcd"/></linearGradient>
<linearGradient id="h128"><stop offset="0" stop-color="#00008d"/><stop offset=".5567" stop-color="#0000ff"/><stop offset=".6535" stop-color="#0016ff"/><stop offset=".7077" stop-color="#0025ff"/><stop offset=".7266" stop-color="#0032ff"/><stop offset=".736" stop-color="#0040ff"/><stop offset=".762" stop-color="#0077ff"/><stop offset=".7808" stop-color="#009aff"/><stop offset=".8257" stop-color="#00e1ff"/><stop offset=".8493" stop-color="#01fffe"/><stop offset=".8705" stop-color="#13ffec"/><stop offset=".8917" stop-color="#1cffe3"/><stop offset="1" stop-color="#26ffd9"/></linearGradient>
<linearGradient id="h129"><stop offset="0" stop-color="#00008d"/><stop offset=".5567" stop-color="#0000ff"/><stop offset=".6723" stop-color="#001aff"/><stop offset=".7172" stop-color="#0027ff"/><stop offset=".736" stop-color="#0033ff"/><stop offset=".7455" stop-color="#0040ff"/><stop offset=".7761" stop-color="#0077ff"/><stop offset=".828" stop-color="#00caff"/><stop offset=".8493" stop-color="#00e8ff"/><stop offset=".8705" stop-color="#00ffff"/><stop offset=".8917" stop-color="#0cfff3"/><stop offset=".9106" stop-color="#11ffee"/><stop offset="1" stop-color="#19ffe6"/></linearGradient>
<linearGradient id="h130"><stop offset="0" stop-color="#00008d"/><stop offset=".5567" stop-color="#0000ff"/><stop offset=".6983" stop-color="#0020ff"/><stop offset=".7337" stop-color="#002bff"/><stop offset=".7502" stop-color="#0038ff"/><stop offset=".8398" stop-color="#00c3ff"/><stop offset=".8634" stop-color="#00e1ff"/><stop offset=".8823" stop-color="#00f3ff"/><stop offset=".9059" stop-color="#01fffe"/><stop offset=".9389" stop-color="#08fff7"/><stop offset="1" stop-color="#0dfff2"/></linearGradient>
<linearGradient id="h131"><stop offset="0" stop-color="#00008d"/><stop offset=".5567" stop-color="#0000ff"/><stop offset=".7101" stop-color="#0022ff"/><stop offset=".7502" stop-color="#002fff"/><stop offset=".7714" stop-color="#003eff"/><stop offset=".7926" stop-color="#005aff"/><stop offset=".8351" stop-color="#009cff"/><stop offset=".8563" stop-color="#00baff"/><stop offset=".8752" stop-color="#00d1ff"/><stop offset=".8941" stop-color="#00e3ff"/><stop offset=".9106" stop-color="#00eeff"/><stop offset=".9318" stop-color="#00f6ff"/><stop offset="1" stop-color="#00ffff"/></linearGradient>
<linearGradient id="h132"><stop offset="0" stop-color="#00008d"/><stop offset=".5567" stop-color="#0000ff"/><stop offset=".7077" stop-color="#0020ff"/><stop offset=".7643" stop-color="#0031ff"/><stop offset=".7903" stop-color="#003fff"/><stop offset=".8068" stop-color="#0052ff"/><stop offset=".8658" stop-color="#00a5ff"/><stop offset=".887" stop-color="#00bcff"/><stop offset=".9082" stop-color="#00ceff"/><stop offset=".9507" stop-color="#00e4ff"/><stop offset=".9766" stop-color="#00edff"/><stop offset="1" stop-color="#00f0ff"/></linearGradient>
<linearGradient id="h133"><stop offset="0" stop-color="#00008d"/><stop offset=".5567" stop-color="#0000ff"/><stop offset=".6747" stop-color="#0019ff"/><stop offset=".7667" stop-color="#002fff"/><stop offset=".8021" stop-color="#003cff"/><stop offset=".8186" stop-color="#004aff"/><stop offset=".8681" stop-color="#0089ff"/><stop offset=".9012" stop-color="#00a9ff"/><stop offset=".9483" stop-color="#00c7ff"/><stop offset="1" stop-color="#00dbff"/></linearGradient>
<linearGradient id="h134"><stop offset="0" stop-color="#00008d"/><stop offset=".5591" stop-color="#0000ff"/><stop offset=".7219" stop-color="#0023ff"/><stop offset=".8139" stop-color="#003cff"/><stop offset=".8351" stop-color="#004aff"/><stop offset=".8799" stop-color="#0079ff"/><stop offset=".9082" stop-color="#0091ff"/><stop offset=".9507" stop-color="#00abff"/><stop offset="1" stop-color="#00c1ff"/></linearGradient>
<linearGradient id="h135"><stop offset="0" stop-color="#00008d"/><stop offset=".5591" stop-color="#0000ff"/><stop offset=".7219" stop-color="#0023ff"/><stop offset=".8139" stop-color="#003cff"/><stop offset=".8351" stop-color="#004aff"/><stop offset=".8799" stop-color="#0079ff"/><stop offset=".9082" stop-color="#0091ff"/><stop offset=".9507" stop-color="#00abff"/><stop offset="1" stop-color="#00c1ff"/></linearGradient>
<linearGradient id="h136"><stop offset="0" stop-color="#00008d"/><stop offset=".5591" stop-color="#0000ff"/><stop offset=".7219" stop-color="#0023ff"/><stop offset=".8139" stop-color="#003cff"/><stop offset=".8351" stop-color="#004aff"/><stop offset=".8799" stop-color="#0079ff"/><stop offset=".9082" stop-color="#0091ff"/><stop offset=".9507" stop-color="#00abff"/><stop offset="1" stop-color="#00c1ff"/></linearGradient>
<linearGradient id="h137"><stop offset="0" stop-color="#00008d"/><stop offset=".5591" stop-color="#0000ff"/><stop offset=".7219" stop-color="#0023ff"/><stop offset=".8139" stop-color="#003cff"/><stop offset=".8351" stop-color="#004aff"/><stop offset=".8799" stop-color="#0079ff"/><stop offset=".9082" stop-color="#0091ff"/><stop offset=".9507" stop-color="#00abff"/><stop offset="1" stop-color="#00c1ff"/></linearGradient>
<clipPath id="hc"><rect x="537.7" y="911.3" width="847.8" height="660.1"/></clipPath>
<filter id="vb" x="-2%" y="-5%" width="104%" height="110%"><feGaussianBlur stdDeviation="0 2.5"/></filter>
<linearGradient id="cb" x1="0" y1="0" x2="0" y2="1"><stop offset="0.0000" stop-color="#800000"/><stop offset="0.0625" stop-color="#bf0000"/><stop offset="0.1250" stop-color="#ff0000"/><stop offset="0.1875" stop-color="#ff4000"/><stop offset="0.2500" stop-color="#ff8000"/><stop offset="0.3125" stop-color="#ffbf00"/><stop offset="0.3750" stop-color="#ffff00"/><stop offset="0.4375" stop-color="#bfff40"/><stop offset="0.5000" stop-color="#80ff80"/><stop offset="0.5625" stop-color="#40ffbf"/><stop offset="0.6250" stop-color="#00ffff"/><stop offset="0.6875" stop-color="#00bfff"/><stop offset="0.7500" stop-color="#0080ff"/><stop offset="0.8125" stop-color="#0040ff"/><stop offset="0.8750" stop-color="#0000ff"/><stop offset="0.9375" stop-color="#0000bf"/><stop offset="1.0000" stop-color="#000080"/></linearGradient></defs>
<g clip-path="url(#c147)" fill="none" stroke-width="6.6" stroke-linejoin="bevel" stroke-linecap="butt">
<path d="M147.3 672.7L149.7 670.5L151.9 668.6L154.2 666.8L156.6 665.0L159.0 663.3L161.5 661.6L164.0 659.9L166.6 658.3L169.2 656.8L171.8 655.3L174.5 653.9L177.2 652.6L179.9 651.4L182.7 650.2L185.5 649.1L188.3 648.0L191.2 647.0L194.0 646.0L196.9 645.1L199.8 644.2L202.7 643.3L205.6 642.4L208.5 641.6L211.4 640.8L214.3 639.9L217.2 639.1L220.1 638.3L223.0 637.4L225.9 636.6L228.8 635.8L231.7 635.0L234.6 634.3L237.5 633.5L240.5 632.8L243.4 632.2L246.4 631.5L249.3 630.9L252.3 630.3L255.2 629.8L258.2 629.2L261.2 628.7L264.1 628.2L267.1 627.7L270.1 627.2L273.1 626.7L276.1 626.3L279.1 625.8L282.0 625.5L285.0 625.1L288.0 624.7L291.0 624.4L294.0 624.1L297.0 623.8L300.0 623.5L303.0 623.2L306.0 623.0L309.0 622.7L312.0 622.5L315.0 622.3L318.1 622.0L321.1 621.8L324.1 621.6L327.1 621.4L330.1 621.2L333.1 621.0L336.1 620.8L339.1 620.6L342.2 620.4L345.2 620.2L348.2 620.0L351.2 619.8L354.2 619.7L357.2 619.5L360.2 619.3L363.2 619.1L366.2 619.0L369.3 618.8L372.3 618.6L375.3 618.5L378.3 618.3L381.3 618.2L384.3 618.0L387.3 617.9L390.4 617.7L393.4 617.6L396.4 617.5L399.4 617.4L402.4 617.2L405.4 617.1L408.4 617.0L411.5 616.9L414.5 616.8L417.5 616.7L420.5 616.6L423.5 616.6L426.5 616.5L429.5 616.4L432.6 616.4L435.6 616.3L438.6 616.3L441.6 616.3L444.6 616.2L447.6 616.2L450.7 616.1L453.7 616.1L456.7 616.1L459.7 616.1L462.7 616.0L465.7 616.0L468.8 616.0L471.8 615.9L474.8 615.9L477.8 615.9L480.8 615.9L483.8 615.8L486.9 615.8L489.9 615.8L492.9 615.8L495.9 615.8L498.9 615.7L501.9 615.7L505.0 615.7L508.0 615.7L511.0 615.7L514.0 615.7L517.0 615.6L520.0 615.6L523.1 615.6L526.1 615.6L529.1 615.6L532.1 615.6L535.1 615.6L538.1 615.5L541.2 615.5L544.2 615.5L547.2 615.5L550.2 615.5L553.2 615.5L556.2 615.5L559.3 615.5L562.3 615.4L565.3 615.4L568.3 615.4L571.3 615.4L574.3 615.4L577.4 615.4L580.4 615.4L583.4 615.4L586.4 615.4L589.4 615.3L592.4 615.3L595.5 615.3L598.5 615.3L601.5 615.3L604.5 615.3L607.5 615.3L610.5 615.3L613.6 615.3L616.6 615.3L619.6 615.3L622.6 615.3L625.6 615.3L628.6 615.2L631.7 615.2L634.7 615.2L637.7 615.2L640.7 615.2L643.7 615.2L646.7 615.2L649.8 615.2L652.8 615.2L655.8 615.2L658.8 615.2L661.8 615.2L664.8 615.2L667.9 615.2L670.9 615.2L673.9 615.2L676.9 615.2L679.9 615.2L682.9 615.2L686.0 615.2L689.0 615.2L692.0 615.2L695.0 615.2L698.0 615.2L701.0 615.2L704.1 615.1L707.1 615.1L710.1 615.1L713.1 615.1L716.1 615.1L719.1 615.1L722.2 615.1L725.2 615.1L728.2 615.1L731.2 615.1L734.2 615.1L737.2 615.1L740.3 615.1L743.3 615.1L746.3 615.1L749.3 615.1L752.3 615.1L755.3 615.1L758.4 615.1L761.4 615.1L764.4 615.1L767.4 615.1L770.4 615.1L773.4 615.1L776.5 615.1L779.5 615.1L782.5 615.1L785.5 615.1L788.5 615.1L791.5 615.1L794.6 615.1L797.6 615.1L800.6 615.1L803.6 615.1L806.6 615.1L809.6 615.1L812.7 615.1L815.7 615.1L818.7 615.1L821.7 615.1L824.7 615.1L827.7 615.1L830.8 615.1L833.8 615.1L836.8 615.1L839.8 615.1L842.8 615.1L845.8 615.1L848.8 615.1L851.7 615.1L854.7 615.1L857.9 615.1" stroke="#d40000"/>
<path d="M147.3 672.7L149.3 670.1L151.1 667.8L153.0 665.5L154.9 663.3L156.9 661.1L158.9 658.8L161.0 656.6L163.1 654.5L165.3 652.4L167.5 650.3L169.7 648.3L172.1 646.4L174.4 644.6L176.9 642.9L179.4 641.2L182.0 639.7L184.6 638.2L187.3 636.8L190.0 635.4L192.7 634.0L195.4 632.7L198.1 631.4L200.9 630.2L203.7 629.0L206.5 627.8L209.3 626.7L212.1 625.6L214.9 624.5L217.7 623.5L220.6 622.5L223.4 621.5L226.3 620.5L229.2 619.6L232.0 618.6L234.9 617.7L237.8 616.9L240.7 616.1L243.6 615.3L246.6 614.5L249.5 613.8L252.4 613.1L255.3 612.4L258.3 611.7L261.2 611.0L264.2 610.4L267.1 609.8L270.1 609.2L273.1 608.6L276.0 608.0L279.0 607.5L282.0 607.0L285.0 606.5L288.0 606.0L290.9 605.5L293.9 605.1L296.9 604.6L299.9 604.2L302.9 603.8L305.9 603.3L308.8 602.9L311.8 602.5L314.8 602.1L317.8 601.8L320.8 601.4L323.8 601.0L326.8 600.7L329.8 600.3L332.8 600.0L335.9 599.7L338.9 599.4L341.9 599.1L344.9 598.9L347.9 598.6L350.9 598.3L353.9 598.1L356.9 597.9L359.9 597.7L362.9 597.5L365.9 597.3L368.9 597.1L372.0 596.9L375.0 596.7L378.0 596.5L381.0 596.4L384.0 596.2L387.0 596.1L390.0 595.9L393.1 595.7L396.1 595.6L399.1 595.4L402.1 595.3L405.1 595.1L408.1 595.0L411.2 594.8L414.2 594.7L417.2 594.6L420.2 594.4L423.2 594.3L426.2 594.2L429.3 594.1L432.3 594.0L435.3 593.9L438.3 593.8L441.3 593.7L444.3 593.6L447.4 593.5L450.4 593.4L453.4 593.3L456.4 593.2L459.4 593.2L462.4 593.1L465.5 593.0L468.5 592.9L471.5 592.9L474.5 592.8L477.5 592.8L480.6 592.7L483.6 592.7L486.6 592.6L489.6 592.6L492.6 592.5L495.6 592.5L498.7 592.4L501.7 592.4L504.7 592.3L507.7 592.3L510.7 592.2L513.8 592.2L516.8 592.1L519.8 592.1L522.8 592.0L525.8 592.0L528.9 592.0L531.9 591.9L534.9 591.9L537.9 591.8L540.9 591.8L543.9 591.8L547.0 591.8L550.0 591.7L553.0 591.7L556.0 591.7L559.0 591.7L562.1 591.7L565.1 591.7L568.1 591.6L571.1 591.6L574.1 591.6L577.2 591.6L580.2 591.6L583.2 591.6L586.2 591.7L589.2 591.7L592.2 591.7L595.3 591.7L598.3 591.7L601.3 591.7L604.3 591.7L607.3 591.7L610.4 591.8L613.4 591.8L616.4 591.8L619.4 591.8L622.4 591.8L625.5 591.9L628.5 591.9L631.5 591.9L634.5 591.9L637.5 592.0L640.5 592.0L643.6 592.0L646.6 592.1L649.6 592.1L652.6 592.1L655.6 592.1L658.7 592.2L661.7 592.2L664.7 592.2L667.7 592.3L670.7 592.3L673.8 592.3L676.8 592.4L679.8 592.4L682.8 592.4L685.8 592.4L688.8 592.5L691.9 592.5L694.9 592.5L697.9 592.6L700.9 592.6L703.9 592.6L707.0 592.6L710.0 592.7L713.0 592.7L716.0 592.7L719.0 592.7L722.1 592.7L725.1 592.8L728.1 592.8L731.1 592.8L734.1 592.8L737.1 592.8L740.2 592.9L743.2 592.9L746.2 592.9L749.2 592.9L752.2 592.9L755.3 593.0L758.3 593.0L761.3 593.0L764.3 593.0L767.3 593.0L770.4 593.1L773.4 593.1L776.4 593.1L779.4 593.1L782.4 593.1L785.4 593.2L788.5 593.2L791.5 593.2L794.5 593.2L797.5 593.2L800.5 593.3L803.6 593.3L806.6 593.3L809.6 593.3L812.6 593.3L815.6 593.3L818.7 593.4L821.7 593.4L824.7 593.4L827.7 593.4L830.7 593.4L833.7 593.5L836.8 593.5L839.8 593.5L842.8 593.5L845.8 593.5L848.7 593.5L851.7 593.6L854.6 593.6L857.9 593.6" stroke="#00d400"/>
<path d="M147.3 672.7L148.4 670.9L149.4 669.2L150.5 667.5L151.5 665.9L152.6 664.2L153.7 662.5L154.8 660.8L155.9 659.1L157.0 657.5L158.2 655.8L159.4 654.2L160.6 652.6L161.8 651.0L163.1 649.4L164.4 647.9L165.7 646.4L167.0 644.9L168.4 643.4L169.8 642.0L171.2 640.5L172.7 639.1L174.1 637.8L175.6 636.4L177.1 635.1L178.6 633.7L180.2 632.4L181.7 631.1L183.3 629.9L184.9 628.6L186.5 627.4L188.1 626.2L189.7 625.0L191.3 623.8L192.9 622.6L194.6 621.4L196.2 620.3L197.9 619.1L199.6 618.0L201.2 616.9L202.9 615.8L204.6 614.7L206.4 613.7L208.1 612.7L209.8 611.7L211.6 610.7L213.4 609.8L215.1 608.9L216.9 608.0L218.7 607.1L220.5 606.2L222.4 605.4L224.2 604.6L226.0 603.7L227.9 602.9L229.8 602.1L231.6 601.3L233.5 600.6L235.3 599.8L237.2 599.0L239.1 598.3L240.9 597.5L242.8 596.7L244.7 596.0L246.5 595.2L248.4 594.5L250.3 593.8L252.1 593.0L254.0 592.3L255.9 591.6L257.8 590.9L259.7 590.2L261.5 589.5L263.4 588.8L265.3 588.1L267.2 587.4L269.1 586.7L271.0 586.0L272.9 585.3L274.8 584.7L276.7 584.0L278.6 583.3L280.5 582.6L282.4 581.9L284.3 581.3L286.2 580.6L288.1 579.9L290.0 579.2L291.9 578.6L293.8 577.9L295.7 577.3L297.6 576.7L299.6 576.0L301.5 575.4L303.4 574.8L305.3 574.1L307.2 573.4L309.1 572.7L311.0 572.0L312.8 571.2L314.6 570.4L316.4 569.6L318.2 568.6L320.0 567.6L321.7 566.6L323.4 565.5L325.1 564.3L326.6 563.0L328.1 561.7L329.6 560.3L330.9 558.9L332.1 557.3L333.3 555.6L334.3 553.9L335.2 552.1L335.9 550.3L336.6 548.4L337.1 546.5L337.5 544.6L337.9 542.6L338.3 540.6L338.5 538.6L338.8 536.6L339.0 534.5L339.1 532.5L339.2 530.5L339.3 528.5L339.4 526.5L339.5 524.5L339.6 522.5L339.7 520.5L339.7 518.5L339.8 516.5L339.8 514.4L339.9 512.4L339.9 510.4L339.9 508.4L340.0 506.4L340.0 504.4L340.1 502.4L340.1 500.3L340.1 498.3L340.2 496.3L340.2 494.3L340.2 492.3L340.3 490.3L340.3 488.3L340.3 486.3L340.4 484.2L340.4 482.2L340.4 480.2L340.5 478.2L340.5 476.2L340.5 474.2L340.5 472.2L340.6 470.2L340.6 468.2L340.6 466.1L340.7 464.1L340.7 462.1L340.7 460.1L340.7 458.1L340.8 456.1L340.8 454.1L340.8 452.1L340.8 450.0L340.9 448.0L340.9 446.0L340.9 444.0L340.9 442.0L340.9 440.0L341.0 438.0L341.0 436.0L341.0 434.0L341.0 431.9L341.1 429.9L341.1 427.9L341.1 425.9L341.1 423.9L341.1 421.9L341.2 419.9L341.2 417.9L341.2 415.9L341.2 413.8L341.2 411.8L341.3 409.8L341.3 407.8L341.3 405.8L341.3 403.8L341.3 401.8L341.4 399.8L341.4 397.7L341.4 395.7L341.4 393.7L341.4 391.7L341.4 389.7L341.5 387.7L341.5 385.7L341.5 383.7L341.5 381.6L341.5 379.6L341.5 377.6L341.6 375.6L341.6 373.6L341.6 371.6L341.6 369.6L341.6 367.6L341.7 365.6L341.7 363.5L341.7 361.5L341.7 359.5L341.7 357.5L341.7 355.5L341.8 353.5L341.8 351.5L341.8 349.5L341.8 347.4L341.8 345.4L341.9 343.4L341.9 341.4L341.9 339.4L341.9 337.4L341.9 335.4L341.9 333.4L342.0 331.4L342.0 329.3L342.0 327.3L342.0 325.3L342.0 323.3L342.1 321.3L342.1 319.3L342.1 317.3L342.1 315.3L342.2 313.2L342.2 311.2L342.2 309.2L342.2 307.2L342.2 305.2L342.3 303.2L342.3 301.2L342.3 299.2L342.3 297.2L342.4 295.1L342.4 293.1L342.4 291.1L342.4 289.1L342.5 287.1L342.5 285.1L342.5 283.1L342.5 281.1L342.5 279.0L342.6 277.0L342.6 275.0L342.6 273.0L342.6 271.0L342.7 269.0L342.7 267.0L342.7 265.0L342.7 263.0L342.8 260.9L342.8 258.9L342.8 256.9L342.8 254.9L342.9 252.9L342.9 250.9L342.9 248.9L342.9 246.9L343.0 244.8L343.0 242.8L343.0 240.8L343.0 238.8L343.1 236.8L343.1 234.8L343.1 232.8L343.1 230.8L343.2 228.8L343.2 226.7L343.2 224.7L343.2 222.7L343.3 220.7L343.3 218.7L343.3 216.7L343.3 214.7L343.4 212.7L343.4 210.6L343.4 208.6L343.4 206.6L343.5 204.6L343.5 202.6L343.5 200.6L343.5 198.6L343.6 196.6L343.6 194.6L343.6 192.5L343.6 190.5L343.7 188.5L343.7 186.5L343.7 184.5L343.7 182.5L343.8 180.5L343.8 178.5L343.8 176.5L343.8 174.4L343.9 172.4L343.9 170.4L343.9 168.4L343.9 166.4L344.0 164.4L344.0 162.4L344.0 160.4L344.0 158.3L344.1 156.3L344.1 154.3L344.1 152.3L344.2 150.3L344.2 148.3L344.2 146.3L344.2 144.3L344.3 142.3L344.3 140.2L344.3 138.2L344.3 136.2L344.4 134.2L344.4 132.2L344.4 130.2L344.4 128.2L344.5 126.2L344.5 124.2L344.5 122.2L344.5 120.3L344.6 118.3L344.6 116.1L344.9 118.1L345.1 120.1L345.4 122.1L345.6 124.1L345.9 126.0L346.1 128.0L346.4 130.0L346.6 132.0L346.9 134.0L347.2 136.0L347.4 138.0L347.7 140.0L348.0 141.9L348.2 143.9L348.5 145.9L348.7 147.9L349.0 149.9L349.3 151.9L349.6 153.9L349.8 155.9L350.1 157.8L350.4 159.8L350.7 161.8L350.9 163.8L351.2 165.8L351.5 167.8L351.8 169.8L352.1 171.7L352.3 173.7L352.6 175.7L352.9 177.7L353.2 179.7L353.5 181.7L353.8 183.6L354.1 185.6L354.4 187.6L354.7 189.6L355.0 191.6L355.3 193.6L355.6 195.5L355.9 197.5L356.2 199.5L356.5 201.5L356.8 203.5L357.1 205.5L357.4 207.4L357.7 209.4L358.0 211.4L358.3 213.4L358.7 215.4L359.0 217.3L359.3 219.3L359.6 221.3L359.9 223.3L360.3 225.2L360.6 227.2L360.9 229.2L361.3 231.2L361.6 233.2L361.9 235.1L362.3 237.1L362.6 239.1L362.9 241.1L363.3 243.0L363.6 245.0L364.0 247.0L364.3 249.0L364.7 250.9L365.0 252.9L365.4 254.9L365.7 256.9L366.1 258.8L366.4 260.8L366.8 262.8L367.2 264.7L367.5 266.7L367.9 268.7L368.3 270.7L368.7 272.6L369.0 274.6L369.4 276.6L369.8 278.5L370.2 280.5L370.6 282.5L371.0 284.4L371.3 286.4L371.7 288.4L372.1 290.3L372.5 292.3L372.9 294.3L373.3 296.2L373.8 298.2L374.2 300.2L374.6 302.1L375.0 304.1L375.4 306.0L375.8 308.0L376.2 310.0L376.7 311.9L377.1 313.9L377.5 315.8L378.0 317.8L378.4 319.7L378.9 321.7L379.3 323.7L379.8 325.6L380.2 327.6L380.7 329.5L381.1 331.5L381.6 333.4L382.1 335.4L382.5 337.3L383.0 339.3L383.5 341.2L384.0 343.2L384.4 345.1L384.9 347.0L385.4 349.0L385.9 350.9L386.4 352.9L386.9 354.8L387.4 356.8L387.9 358.7L388.5 360.6L389.0 362.6L389.5 364.5L390.0 366.4L390.6 368.4L391.1 370.3L391.7 372.2L392.2 374.2L392.8 376.1L393.3 378.0L393.9 379.9L394.5 381.9L395.0 383.8L395.6 385.7L396.2 387.6L396.8 389.5L397.4 391.4L398.0 393.4L398.6 395.3L399.2 397.2L399.8 399.1L400.4 401.0L401.1 402.9L401.7 404.8L402.4 406.7L403.0 408.6L403.7 410.5L404.3 412.4L405.0 414.3L405.7 416.1L406.4 418.0L407.1 419.9L407.8 421.8L408.5 423.7L409.2 425.5L409.9 427.4L410.6 429.3L411.4 431.1L412.1 433.0L412.9 434.9L413.6 436.7L414.4 438.6L415.2 440.4L416.0 442.3L416.8 444.1L417.6 445.9L418.4 447.8L419.2 449.6L420.1 451.4L420.9 453.2L421.8 455.0L422.7 456.8L423.5 458.6L424.4 460.4L425.3 462.2L426.2 464.0L427.2 465.8L428.1 467.6L429.0 469.3L430.0 471.1L431.0 472.8L432.0 474.6L433.0 476.3L434.0 478.1L435.0 479.8L436.0 481.5L437.1 483.2L438.2 484.9L439.2 486.6L440.3 488.3L441.4 489.9L442.6 491.6L443.7 493.3L444.9 494.9L446.0 496.5L447.2 498.1L448.4 499.7L449.6 501.3L450.9 502.9L452.1 504.5L453.4 506.0L454.7 507.6L456.0 509.1L457.3 510.6L458.6 512.1L460.0 513.6L461.3 515.1L462.7 516.5L464.1 517.9L465.6 519.3L467.0 520.7L468.5 522.1L469.9 523.5L471.4 524.8L472.9 526.1L474.5 527.4L476.0 528.7L477.6 530.0L479.1 531.2L480.7 532.5L482.3 533.6L483.9 534.8L485.6 536.0L487.2 537.1L488.9 538.2L490.6 539.3L492.3 540.4L494.0 541.4L495.7 542.4L497.5 543.4L499.2 544.4L501.0 545.4L502.8 546.3L504.5 547.2L506.3 548.1L508.1 549.0L510.0 549.8L511.8 550.6L513.6 551.4L515.5 552.2L517.3 553.0L519.2 553.7L521.1 554.4L523.0 555.1L524.8 555.8L526.7 556.5L528.6 557.1L530.5 557.7L532.5 558.3L534.4 558.9L536.3 559.5L538.2 560.0L540.2 560.5L542.1 561.1L544.0 561.6L546.0 562.0L547.9 562.5L549.9 563.0L551.8 563.4L553.8 563.8L555.8 564.2L557.7 564.6L559.7 565.0L561.7 565.4L563.6 565.8L565.6 566.1L567.6 566.5L569.6 566.8L571.5 567.1L573.5 567.4L575.5 567.7L577.5 568.0L579.5 568.3L581.5 568.5L583.5 568.8L585.4 569.0L587.4 569.3L589.4 569.5L591.4 569.7L593.4 570.0L595.4 570.2L597.4 570.4L599.4 570.6L601.4 570.8L603.4 570.9L605.4 571.1L607.4 571.3L609.4 571.5L611.4 571.6L613.4 571.8L615.4 571.9L617.4 572.1L619.4 572.2L621.4 572.4L623.4 572.5L625.4 572.6L627.4 572.7L629.4 572.8L631.4 573.0L633.4 573.1L635.4 573.2L637.4 573.3L639.4 573.4L641.4 573.5L643.4 573.6L645.4 573.7L647.4 573.7L649.4 573.8L651.4 573.9L653.4 574.0L655.4 574.1L657.4 574.1L659.4 574.2L661.4 574.3L663.4 574.3L665.4 574.4L667.4 574.5L669.4 574.5L671.4 574.6L673.5 574.6L675.5 574.7L677.5 574.7L679.5 574.8L681.5 574.8L683.5 574.9L685.5 574.9L687.5 575.0L689.5 575.0L691.5 575.1L693.5 575.1L695.5 575.1L697.5 575.2L699.5 575.2L701.5 575.2L703.5 575.3L705.5 575.3L707.5 575.3L709.5 575.4L711.5 575.4L713.5 575.4L715.5 575.4L717.6 575.5L719.6 575.5L721.6 575.5L723.6 575.5L725.6 575.6L727.6 575.6L729.6 575.6L731.6 575.6L733.6 575.6L735.6 575.7L737.6 575.7L739.6 575.7L741.6 575.7L743.6 575.7L745.6 575.7L747.6 575.8L749.6 575.8L751.6 575.8L753.6 575.8L755.6 575.8L757.7 575.8L759.7 575.8L761.7 575.9L763.7 575.9L765.7 575.9L767.7 575.9L769.7 575.9L771.7 575.9L773.7 575.9L775.7 575.9L777.7 575.9L779.7 575.9L781.7 576.0L783.7 576.0L785.7 576.0L787.7 576.0L789.7 576.0L791.7 576.0L793.7 576.0L795.7 576.0L797.8 576.0L799.8 576.0L801.8 576.0L803.8 576.0L805.8 576.0L807.8 576.0L809.8 576.0L811.8 576.1L813.8 576.1L815.8 576.1L817.8 576.1L819.8 576.1L821.8 576.1L823.8 576.1L825.8 576.1L827.8 576.1L829.8 576.1L831.8 576.1L833.8 576.1L835.8 576.1L837.9 576.1L839.9 576.1L841.9 576.1L843.9 576.1L845.9 576.1L847.9 576.1L849.9 576.1L851.9 576.1L853.9 576.1L855.9 576.1L857.9 576.1" stroke="#2b2bff"/>
<path d="M345.3 116.1L345.8 120.1L346.3 124.1L346.8 128.0L347.3 132.0L347.9 136.0L348.4 140.0L348.9 143.9L349.4 147.9L350.0 151.9L350.5 155.9L351.1 159.8L351.6 163.8L352.2 167.8L352.8 171.7L353.3 175.7L353.9 179.7L354.5 183.6L355.1 187.6L355.7 191.6L356.3 195.5L356.9 199.5L357.5 203.5L358.1 207.4L358.7 211.4L359.4 215.4L360.0 219.3L360.6 223.3L361.3 227.2L362.0 231.2L362.6 235.1L363.3 239.1L364.0 243.0L364.7 247.0L365.4 250.9L366.1 254.9L366.8 258.8L367.5 262.8L368.2 266.7L369.0 270.7L369.7 274.6L370.5 278.5L371.3 282.5L372.0 286.4L372.8 290.3L373.6 294.3L374.5 298.2L375.3 302.1L376.1 306.0L376.9 310.0L377.8 313.9L378.7 317.8L379.6 321.7L380.5 325.6L381.4 329.5L382.3 333.4L383.2 337.3L384.2 341.2L385.1 345.1L386.1 349.0L387.1 352.9L388.1 356.8L389.2 360.6L390.2 364.5L391.3 368.4L392.4 372.2L393.5 376.1L394.6 379.9L395.7 383.8L396.9 387.6L398.1 391.4L399.3 395.3L400.5 399.1L401.8 402.9L403.1 406.7L404.4 410.5L405.7 414.3L407.1 418.0L408.5 421.8L409.9 425.5L411.3 429.3L412.8 433.0L414.3 436.7L415.9 440.4L417.5 444.1L419.1 447.8L420.8 451.4L422.5 455.0L424.2 458.6L426.0 462.2L427.9 465.8L429.7 469.3L431.7 472.8L433.7 476.3L435.7 479.8L437.8 483.2L439.9 486.6L442.1 489.9L444.4 493.3L446.7 496.5L449.1 499.7L451.6 502.9L454.1 506.0L456.7 509.1L459.3 512.1L462.0 515.1L464.8 517.9L467.7 520.7L470.6 523.5L473.6 526.1L476.7 528.7" stroke="#2b2bff"/>
<path d="M343.9 116.1L344.4 120.1L344.9 124.1L345.4 128.0L345.9 132.0L346.5 136.0L347.0 140.0L347.5 143.9L348.0 147.9L348.6 151.9L349.1 155.9L349.7 159.8L350.2 163.8L350.8 167.8L351.4 171.7L351.9 175.7L352.5 179.7L353.1 183.6L353.7 187.6L354.3 191.6L354.9 195.5L355.5 199.5L356.1 203.5L356.7 207.4L357.3 211.4L358.0 215.4L358.6 219.3L359.2 223.3L359.9 227.2L360.6 231.2L361.2 235.1L361.9 239.1L362.6 243.0L363.3 247.0L364.0 250.9L364.7 254.9L365.4 258.8L366.1 262.8L366.8 266.7L367.6 270.7L368.3 274.6L369.1 278.5L369.9 282.5L370.6 286.4L371.4 290.3L372.2 294.3L373.1 298.2L373.9 302.1L374.7 306.0L375.5 310.0L376.4 313.9L377.3 317.8L378.2 321.7L379.1 325.6L380.0 329.5L380.9 333.4L381.8 337.3L382.8 341.2L383.7 345.1L384.7 349.0L385.7 352.9L386.7 356.8L387.8 360.6L388.8 364.5L389.9 368.4L391.0 372.2L392.1 376.1L393.2 379.9L394.3 383.8L395.5 387.6L396.7 391.4L397.9 395.3L399.1 399.1L400.4 402.9L401.7 406.7L403.0 410.5L404.3 414.3L405.7 418.0L407.1 421.8L408.5 425.5L409.9 429.3L411.4 433.0L412.9 436.7L414.5 440.4L416.1 444.1L417.7 447.8L419.4 451.4L421.1 455.0L422.8 458.6L424.6 462.2L426.5 465.8L428.3 469.3L430.3 472.8L432.3 476.3L434.3 479.8L436.4 483.2L438.5 486.6L440.7 489.9L443.0 493.3L445.3 496.5L447.7 499.7L450.2 502.9L452.7 506.0L455.3 509.1L457.9 512.1L460.6 515.1L463.4 517.9L466.3 520.7L469.2 523.5L472.2 526.1L475.3 528.7" stroke="#2b2bff"/>
<path d="M346.1 128.0L347.2 136.0L348.2 143.9L349.3 151.9L350.4 159.8L351.5 167.8L352.6 175.7L353.8 183.6L355.0 191.6L356.2 199.5L357.4 207.4L358.7 215.4L359.9 223.3L361.3 231.2L362.6 239.1L364.0 247.0L365.4 254.9L366.8 262.8L368.3 270.7L369.8 278.5L371.3 286.4L372.9 294.3L374.6 302.1L376.2 310.0L378.0 317.8L379.8 325.6L381.6 333.4L383.5 341.2L385.4 349.0L387.4 356.8L389.5 364.5L391.7 372.2L393.9 379.9L396.2 387.6L398.6 395.3L401.1 402.9L403.7 410.5L406.4 418.0L409.2 425.5L412.1 433.0L415.2 440.4L418.4 447.8L421.8 455.0L425.3 462.2L429.0 469.3L433.0 476.3L437.1 483.2L441.4 489.9L446.0 496.5L450.9 502.9L456.0 509.1L461.3 515.1L467.0 520.7L472.9 526.1" stroke="#fff" stroke-opacity=".33" stroke-width="8.4" stroke-dasharray="1 1.5"/>
<path d="M147.3 672.7L148.2 670.8L149.1 669.0L149.9 667.2L150.8 665.5L151.7 663.7L152.6 661.9L153.5 660.1L154.4 658.3L155.3 656.5L156.2 654.7L157.2 653.0L158.1 651.2L159.1 649.4L160.0 647.7L161.0 645.9L162.0 644.1L163.0 642.4L164.0 640.6L165.0 638.9L166.0 637.2L167.0 635.4L168.0 633.7L169.1 632.0L170.2 630.3L171.2 628.6L172.4 626.9L173.5 625.3L174.6 623.6L175.8 622.0L177.0 620.4L178.3 618.9L179.5 617.3L180.8 615.8L182.2 614.3L183.5 612.8L184.9 611.3L186.2 609.8L187.6 608.3L189.0 606.8L190.4 605.4L191.8 603.9L193.2 602.5L194.6 601.1L196.0 599.6L197.5 598.3L198.9 596.9L200.4 595.6L202.0 594.3L203.5 593.1L205.1 591.9L206.8 590.7L208.4 589.5L210.1 588.4L211.7 587.3L213.4 586.1L215.1 585.0L216.7 583.9L218.4 582.7L220.0 581.5L221.7 580.4L223.3 579.2L225.0 578.0L226.6 576.8L228.3 575.6L229.9 574.3L231.4 573.1L232.9 571.8L234.4 570.4L235.8 569.0L237.1 567.6L238.4 566.0L239.6 564.4L240.8 562.8L241.8 561.0L242.7 559.3L243.5 557.5L244.2 555.6L244.8 553.7L245.3 551.8L245.8 549.8L246.2 547.9L246.5 545.9L246.8 543.9L247.0 541.9L247.2 539.9L247.3 537.9L247.5 535.9L247.6 533.9L247.7 531.9L247.8 529.8L247.8 527.8L247.9 525.8L248.0 523.8L248.0 521.8L248.1 519.8L248.1 517.8L248.2 515.8L248.2 513.8L248.3 511.7L248.3 509.7L248.3 507.7L248.4 505.7L248.4 503.7L248.4 501.7L248.5 499.7L248.5 497.7L248.5 495.7L248.6 493.7L248.6 491.7L248.6 489.7L248.7 487.6L248.7 485.6L248.7 483.6L248.7 481.6L248.8 479.6L248.8 477.6L248.8 475.6L248.9 473.6L248.9 471.6L248.9 469.6L248.9 467.6L248.9 465.6L249.0 463.5L249.0 461.5L249.0 459.5L249.0 457.5L249.1 455.5L249.1 453.5L249.1 451.5L249.1 449.5L249.1 447.5L249.2 445.5L249.2 443.5L249.2 441.5L249.2 439.4L249.2 437.4L249.3 435.4L249.3 433.4L249.3 431.4L249.3 429.4L249.3 427.4L249.3 425.4L249.4 423.4L249.4 421.4L249.4 419.4L249.4 417.3L249.4 415.3L249.4 413.3L249.5 411.3L249.5 409.3L249.5 407.3L249.5 405.3L249.5 403.3L249.5 401.3L249.5 399.3L249.6 397.3L249.6 395.3L249.6 393.2L249.6 391.2L249.6 389.2L249.6 387.2L249.6 385.2L249.7 383.2L249.7 381.2L249.7 379.2L249.7 377.2L249.7 375.2L249.7 373.2L249.7 371.1L249.8 369.1L249.8 367.1L249.8 365.1L249.8 363.1L249.8 361.1L249.8 359.1L249.9 357.1L249.9 355.1L249.9 353.1L249.9 351.1L249.9 349.0L249.9 347.0L249.9 345.0L250.0 343.0L250.0 341.0L250.0 339.0L250.0 337.0L250.0 335.0L250.1 333.0L250.1 331.0L250.1 329.0L250.1 327.0L250.1 324.9L250.1 322.9L250.2 320.9L250.2 318.9L250.2 316.9L250.2 314.9L250.3 312.9L250.3 310.9L250.3 308.9L250.3 306.9L250.3 304.9L250.4 302.8L250.4 300.8L250.4 298.8L250.4 296.8L250.5 294.8L250.5 292.8L250.5 290.8L250.5 288.8L250.6 286.8L250.6 284.8L250.6 282.8L250.6 280.8L250.7 278.7L250.7 276.7L250.7 274.7L250.7 272.7L250.8 270.7L250.8 268.7L250.8 266.7L250.9 264.7L250.9 262.7L250.9 260.7L250.9 258.7L251.0 256.7L251.0 254.6L251.0 252.6L251.0 250.6L251.1 248.6L251.1 246.6L251.1 244.6L251.2 242.6L251.2 240.6L251.2 238.6L251.2 236.6L251.3 234.6L251.3 232.5L251.3 230.5L251.4 228.5L251.4 226.5L251.4 224.5L251.4 222.5L251.5 220.5L251.5 218.5L251.5 216.5L251.6 214.5L251.6 212.5L251.6 210.5L251.7 208.4L251.7 206.4L251.7 204.4L251.7 202.4L251.8 200.4L251.8 198.4L251.8 196.4L251.9 194.4L251.9 192.4L251.9 190.4L252.0 188.4L252.0 186.4L252.0 184.3L252.1 182.3L252.1 180.3L252.1 178.3L252.2 176.3L252.2 174.3L252.2 172.3L252.3 170.3L252.3 168.3L252.3 166.3L252.3 164.3L252.4 162.3L252.4 160.2L252.4 158.2L252.5 156.2L252.5 154.2L252.5 152.2L252.6 150.2L252.6 148.2L252.6 146.2L252.7 144.2L252.7 142.2L252.7 140.2L252.8 138.2L252.8 136.1L252.8 134.1L252.9 132.1L252.9 130.1L252.9 128.1L253.0 126.1L253.0 124.1L253.1 122.1L253.1 120.1L253.1 118.1L253.2 116.1L253.2 114.1L253.2 112.0L253.3 110.1L253.3 108.1L253.3 106.1L253.4 104.2L253.4 102.0L253.6 104.0L253.9 106.0L254.1 108.0L254.3 110.0L254.5 112.0L254.8 114.0L255.0 116.0L255.2 118.0L255.4 120.0L255.7 121.9L255.9 123.9L256.2 125.9L256.4 127.9L256.6 129.9L256.9 131.9L257.1 133.9L257.3 135.9L257.6 137.9L257.8 139.9L258.1 141.9L258.3 143.9L258.6 145.9L258.8 147.9L259.0 149.8L259.3 151.8L259.5 153.8L259.8 155.8L260.1 157.8L260.3 159.8L260.6 161.8L260.8 163.8L261.1 165.8L261.3 167.8L261.6 169.8L261.9 171.8L262.1 173.7L262.4 175.7L262.7 177.7L262.9 179.7L263.2 181.7L263.5 183.7L263.7 185.7L264.0 187.7L264.3 189.7L264.6 191.6L264.8 193.6L265.1 195.6L265.4 197.6L265.7 199.6L266.0 201.6L266.2 203.6L266.5 205.6L266.8 207.5L267.1 209.5L267.4 211.5L267.7 213.5L268.0 215.5L268.3 217.5L268.6 219.5L268.9 221.4L269.2 223.4L269.5 225.4L269.8 227.4L270.1 229.4L270.4 231.4L270.7 233.4L271.0 235.3L271.3 237.3L271.6 239.3L272.0 241.3L272.3 243.3L272.6 245.2L272.9 247.2L273.3 249.2L273.6 251.2L273.9 253.2L274.3 255.2L274.6 257.1L274.9 259.1L275.3 261.1L275.6 263.1L275.9 265.0L276.3 267.0L276.6 269.0L277.0 271.0L277.3 273.0L277.7 274.9L278.0 276.9L278.4 278.9L278.8 280.9L279.1 282.8L279.5 284.8L279.9 286.8L280.2 288.7L280.6 290.7L281.0 292.7L281.4 294.7L281.8 296.6L282.1 298.6L282.5 300.6L282.9 302.5L283.3 304.5L283.7 306.5L284.1 308.4L284.5 310.4L284.9 312.4L285.3 314.3L285.7 316.3L286.2 318.3L286.6 320.2L287.0 322.2L287.4 324.2L287.9 326.1L288.3 328.1L288.7 330.0L289.2 332.0L289.6 334.0L290.1 335.9L290.5 337.9L291.0 339.8L291.4 341.8L291.9 343.7L292.4 345.7L292.8 347.6L293.3 349.6L293.8 351.5L294.3 353.5L294.8 355.4L295.3 357.4L295.8 359.3L296.3 361.3L296.8 363.2L297.3 365.2L297.8 367.1L298.3 369.0L298.8 371.0L299.4 372.9L299.9 374.8L300.5 376.8L301.0 378.7L301.5 380.6L302.1 382.6L302.7 384.5L303.2 386.4L303.8 388.3L304.4 390.3L305.0 392.2L305.6 394.1L306.2 396.0L306.8 397.9L307.4 399.8L308.0 401.7L308.7 403.6L309.3 405.6L309.9 407.5L310.6 409.4L311.2 411.3L311.9 413.1L312.6 415.0L313.3 416.9L314.0 418.8L314.7 420.7L315.4 422.6L316.1 424.4L316.8 426.3L317.5 428.2L318.3 430.1L319.0 431.9L319.8 433.8L320.6 435.6L321.3 437.5L322.1 439.3L322.9 441.2L323.7 443.0L324.6 444.8L325.4 446.7L326.3 448.5L327.1 450.3L328.0 452.1L328.9 453.9L329.8 455.7L330.7 457.5L331.6 459.3L332.5 461.1L333.5 462.8L334.4 464.6L335.4 466.3L336.4 468.1L337.4 469.8L338.4 471.6L339.5 473.3L340.5 475.0L341.6 476.7L342.7 478.4L343.8 480.1L344.9 481.7L346.0 483.4L347.2 485.0L348.3 486.7L349.5 488.3L350.7 489.9L351.9 491.5L353.2 493.0L354.4 494.6L355.7 496.2L357.0 497.7L358.3 499.2L359.7 500.7L361.0 502.2L362.4 503.6L363.8 505.1L365.2 506.5L366.7 507.9L368.1 509.3L369.6 510.6L371.1 512.0L372.6 513.3L374.2 514.6L375.7 515.9L377.3 517.1L378.9 518.3L380.5 519.5L382.1 520.7L383.8 521.8L385.4 523.0L387.1 524.1L388.8 525.1L390.5 526.2L392.2 527.2L394.0 528.2L395.7 529.2L397.5 530.1L399.3 531.0L401.1 531.9L402.9 532.8L404.7 533.6L406.6 534.5L408.4 535.3L410.3 536.0L412.1 536.8L414.0 537.5L415.9 538.2L417.8 538.9L419.7 539.5L421.6 540.2L423.5 540.8L425.4 541.4L427.3 541.9L429.3 542.5L431.2 543.0L433.1 543.5L435.1 544.0L437.0 544.5L439.0 545.0L440.9 545.4L442.9 545.8L444.9 546.2L446.8 546.6L448.8 547.0L450.8 547.4L452.8 547.7L454.7 548.1L456.7 548.4L458.7 548.7L460.7 549.0L462.7 549.3L464.7 549.6L466.6 549.9L468.6 550.1L470.6 550.4L472.6 550.6L474.6 550.9L476.6 551.1L478.6 551.3L480.6 551.5L482.6 551.7L484.6 551.9L486.6 552.1L488.6 552.3L490.6 552.4L492.6 552.6L494.6 552.8L496.6 552.9L498.6 553.1L500.6 553.2L502.6 553.3L504.6 553.5L506.6 553.6L508.6 553.7L510.6 553.8L512.6 553.9L514.6 554.0L516.6 554.1L518.6 554.2L520.7 554.3L522.7 554.4L524.7 554.5L526.7 554.6L528.7 554.7L530.7 554.8L532.7 554.8L534.7 554.9L536.7 555.0L538.7 555.0L540.7 555.1L542.7 555.2L544.7 555.2L546.7 555.3L548.7 555.3L550.7 555.4L552.8 555.4L554.8 555.5L556.8 555.5L558.8 555.6L560.8 555.6L562.8 555.7L564.8 555.7L566.8 555.7L568.8 555.8L570.8 555.8L572.8 555.8L574.8 555.9L576.8 555.9L578.8 555.9L580.9 556.0L582.9 556.0L584.9 556.0L586.9 556.0L588.9 556.1L590.9 556.1L592.9 556.1L594.9 556.1L596.9 556.2L598.9 556.2L600.9 556.2L602.9 556.2L604.9 556.2L607.0 556.3L609.0 556.3L611.0 556.3L613.0 556.3L615.0 556.3L617.0 556.3L619.0 556.3L621.0 556.4L623.0 556.4L625.0 556.4L627.0 556.4L629.0 556.4L631.0 556.4L633.1 556.4L635.1 556.4L637.1 556.4L639.1 556.5L641.1 556.5L643.1 556.5L645.1 556.5L647.1 556.5L649.1 556.5L651.1 556.5L653.1 556.5L655.1 556.5L657.1 556.5L659.1 556.5L661.2 556.5L663.2 556.5L665.2 556.5L667.2 556.6L669.2 556.6L671.2 556.6L673.2 556.6L675.2 556.6L677.2 556.6L679.2 556.6L681.2 556.6L683.2 556.6L685.2 556.6L687.3 556.6L689.3 556.6L691.3 556.6L693.3 556.6L695.3 556.6L697.3 556.6L699.3 556.6L701.3 556.6L703.3 556.6L705.3 556.6L707.3 556.6L709.3 556.6L711.3 556.6L713.4 556.6L715.4 556.6L717.4 556.6L719.4 556.6L721.4 556.6L723.4 556.6L725.4 556.6L727.4 556.6L729.4 556.6L731.4 556.6L733.4 556.6L735.4 556.6L737.4 556.7L739.5 556.7L741.5 556.7L743.5 556.7L745.5 556.7L747.5 556.7L749.5 556.7L751.5 556.7L753.5 556.7L755.5 556.7L757.5 556.7L759.5 556.7L761.5 556.7L763.5 556.7L765.6 556.7L767.6 556.7L769.6 556.7L771.6 556.7L773.6 556.7L775.6 556.7L777.6 556.7L779.6 556.7L781.6 556.7L783.6 556.7L785.6 556.7L787.6 556.7L789.6 556.7L791.6 556.7L793.7 556.7L795.7 556.7L797.7 556.7L799.7 556.7L801.7 556.7L803.7 556.7L805.7 556.7L807.7 556.7L809.7 556.7L811.7 556.7L813.7 556.7L815.7 556.7L817.7 556.7L819.8 556.7L821.8 556.7L823.8 556.7L825.8 556.7L827.8 556.7L829.8 556.7L831.8 556.7L833.8 556.7L835.8 556.7L837.8 556.7L839.8 556.7L841.8 556.7L843.8 556.7L845.9 556.7L847.9 556.7L849.9 556.7L851.9 556.7L853.9 556.7L855.9 556.7L857.9 556.7" stroke="#555555"/>
<path d="M254.1 102.0L254.6 106.0L255.0 110.0L255.5 114.0L255.9 118.0L256.4 121.9L256.9 125.9L257.3 129.9L257.8 133.9L258.3 137.9L258.8 141.9L259.3 145.9L259.7 149.8L260.2 153.8L260.8 157.8L261.3 161.8L261.8 165.8L262.3 169.8L262.8 173.7L263.4 177.7L263.9 181.7L264.4 185.7L265.0 189.7L265.5 193.6L266.1 197.6L266.7 201.6L267.2 205.6L267.8 209.5L268.4 213.5L269.0 217.5L269.6 221.4L270.2 225.4L270.8 229.4L271.4 233.4L272.0 237.3L272.7 241.3L273.3 245.2L274.0 249.2L274.6 253.2L275.3 257.1L276.0 261.1L276.6 265.0L277.3 269.0L278.0 273.0L278.7 276.9L279.5 280.9L280.2 284.8L280.9 288.7L281.7 292.7L282.5 296.6L283.2 300.6L284.0 304.5L284.8 308.4L285.6 312.4L286.4 316.3L287.3 320.2L288.1 324.2L289.0 328.1L289.9 332.0L290.8 335.9L291.7 339.8L292.6 343.7L293.5 347.6L294.5 351.5L295.5 355.4L296.5 359.3L297.5 363.2L298.5 367.1L299.5 371.0L300.6 374.8L301.7 378.7L302.8 382.6L303.9 386.4L305.1 390.3L306.3 394.1L307.5 397.9L308.7 401.7L310.0 405.6L311.3 409.4L312.6 413.1L314.0 416.9L315.4 420.7L316.8 424.4L318.2 428.2L319.7 431.9L321.3 435.6L322.8 439.3L324.4 443.0L326.1 446.7L327.8 450.3L329.6 453.9L331.4 457.5L333.2 461.1L335.1 464.6L337.1 468.1L339.1 471.6L341.2 475.0L343.4 478.4L345.6 481.7L347.9 485.0L350.2 488.3L352.6 491.5L355.1 494.6L357.7 497.7L360.4 500.7L363.1 503.6L365.9 506.5L368.8 509.3L371.8 512.0L374.9 514.6" stroke="#555555"/>
<path d="M252.7 102.0L253.2 106.0L253.6 110.0L254.1 114.0L254.5 118.0L255.0 121.9L255.5 125.9L255.9 129.9L256.4 133.9L256.9 137.9L257.4 141.9L257.9 145.9L258.3 149.8L258.8 153.8L259.4 157.8L259.9 161.8L260.4 165.8L260.9 169.8L261.4 173.7L262.0 177.7L262.5 181.7L263.0 185.7L263.6 189.7L264.1 193.6L264.7 197.6L265.3 201.6L265.8 205.6L266.4 209.5L267.0 213.5L267.6 217.5L268.2 221.4L268.8 225.4L269.4 229.4L270.0 233.4L270.6 237.3L271.3 241.3L271.9 245.2L272.6 249.2L273.2 253.2L273.9 257.1L274.6 261.1L275.2 265.0L275.9 269.0L276.6 273.0L277.3 276.9L278.1 280.9L278.8 284.8L279.5 288.7L280.3 292.7L281.1 296.6L281.8 300.6L282.6 304.5L283.4 308.4L284.2 312.4L285.0 316.3L285.9 320.2L286.7 324.2L287.6 328.1L288.5 332.0L289.4 335.9L290.3 339.8L291.2 343.7L292.1 347.6L293.1 351.5L294.1 355.4L295.1 359.3L296.1 363.2L297.1 367.1L298.1 371.0L299.2 374.8L300.3 378.7L301.4 382.6L302.5 386.4L303.7 390.3L304.9 394.1L306.1 397.9L307.3 401.7L308.6 405.6L309.9 409.4L311.2 413.1L312.6 416.9L314.0 420.7L315.4 424.4L316.8 428.2L318.3 431.9L319.9 435.6L321.4 439.3L323.0 443.0L324.7 446.7L326.4 450.3L328.2 453.9L330.0 457.5L331.8 461.1L333.7 464.6L335.7 468.1L337.7 471.6L339.8 475.0L342.0 478.4L344.2 481.7L346.5 485.0L348.8 488.3L351.2 491.5L353.7 494.6L356.3 497.7L359.0 500.7L361.7 503.6L364.5 506.5L367.4 509.3L370.4 512.0L373.5 514.6" stroke="#555555"/>
<path d="M254.8 114.0L255.7 121.9L256.6 129.9L257.6 137.9L258.6 145.9L259.5 153.8L260.6 161.8L261.6 169.8L262.7 177.7L263.7 185.7L264.8 193.6L266.0 201.6L267.1 209.5L268.3 217.5L269.5 225.4L270.7 233.4L272.0 241.3L273.3 249.2L274.6 257.1L275.9 265.0L277.3 273.0L278.8 280.9L280.2 288.7L281.8 296.6L283.3 304.5L284.9 312.4L286.6 320.2L288.3 328.1L290.1 335.9L291.9 343.7L293.8 351.5L295.8 359.3L297.8 367.1L299.9 374.8L302.1 382.6L304.4 390.3L306.8 397.9L309.3 405.6L311.9 413.1L314.7 420.7L317.5 428.2L320.6 435.6L323.7 443.0L327.1 450.3L330.7 457.5L334.4 464.6L338.4 471.6L342.7 478.4L347.2 485.0L351.9 491.5L357.0 497.7L362.4 503.6L368.1 509.3L374.2 514.6" stroke="#fff" stroke-opacity=".33" stroke-width="8.4" stroke-dasharray="1 1.5"/>
<path d="M147.3 672.7L148.0 670.7L148.6 668.8L149.3 667.0L149.9 665.1L150.6 663.2L151.3 661.4L151.9 659.5L152.6 657.6L153.3 655.7L154.0 653.8L154.7 651.9L155.4 650.0L156.1 648.2L156.9 646.3L157.6 644.4L158.3 642.5L159.1 640.7L159.8 638.8L160.6 637.0L161.4 635.1L162.2 633.3L163.0 631.4L163.8 629.6L164.6 627.7L165.4 625.9L166.3 624.1L167.1 622.2L168.0 620.4L168.9 618.6L169.8 616.8L170.7 615.0L171.6 613.2L172.5 611.5L173.5 609.7L174.5 608.0L175.5 606.3L176.6 604.6L177.7 602.9L178.9 601.3L180.0 599.6L181.2 598.0L182.4 596.4L183.7 594.8L184.9 593.2L186.2 591.7L187.5 590.1L188.8 588.6L190.1 587.1L191.3 585.5L192.6 583.9L193.8 582.3L195.0 580.7L196.2 579.1L197.4 577.5L198.5 575.8L199.7 574.2L200.8 572.5L201.8 570.8L202.8 569.0L203.8 567.3L204.8 565.5L205.7 563.7L206.6 561.9L207.5 560.1L208.3 558.2L208.9 556.4L209.5 554.5L210.0 552.6L210.5 550.6L210.9 548.7L211.3 546.7L211.6 544.7L211.8 542.7L212.1 540.7L212.3 538.7L212.4 536.7L212.5 534.7L212.6 532.7L212.7 530.7L212.8 528.7L212.8 526.6L212.9 524.6L213.0 522.6L213.0 520.6L213.1 518.6L213.1 516.6L213.1 514.6L213.2 512.6L213.2 510.6L213.3 508.6L213.3 506.5L213.3 504.5L213.4 502.5L213.4 500.5L213.4 498.5L213.5 496.5L213.5 494.5L213.5 492.5L213.5 490.5L213.6 488.5L213.6 486.5L213.6 484.4L213.7 482.4L213.7 480.4L213.7 478.4L213.7 476.4L213.8 474.4L213.8 472.4L213.8 470.4L213.9 468.4L213.9 466.4L213.9 464.4L213.9 462.4L214.0 460.3L214.0 458.3L214.0 456.3L214.0 454.3L214.0 452.3L214.1 450.3L214.1 448.3L214.1 446.3L214.1 444.3L214.2 442.3L214.2 440.3L214.2 438.3L214.2 436.2L214.2 434.2L214.3 432.2L214.3 430.2L214.3 428.2L214.3 426.2L214.3 424.2L214.3 422.2L214.4 420.2L214.4 418.2L214.4 416.2L214.4 414.1L214.4 412.1L214.5 410.1L214.5 408.1L214.5 406.1L214.5 404.1L214.5 402.1L214.5 400.1L214.6 398.1L214.6 396.1L214.6 394.1L214.6 392.0L214.6 390.0L214.6 388.0L214.7 386.0L214.7 384.0L214.7 382.0L214.7 380.0L214.7 378.0L214.7 376.0L214.8 374.0L214.8 372.0L214.8 370.0L214.8 367.9L214.8 365.9L214.9 363.9L214.9 361.9L214.9 359.9L214.9 357.9L214.9 355.9L214.9 353.9L215.0 351.9L215.0 349.9L215.0 347.9L215.0 345.8L215.0 343.8L215.0 341.8L215.1 339.8L215.1 337.8L215.1 335.8L215.1 333.8L215.1 331.8L215.2 329.8L215.2 327.8L215.2 325.8L215.2 323.8L215.2 321.7L215.3 319.7L215.3 317.7L215.3 315.7L215.3 313.7L215.4 311.7L215.4 309.7L215.4 307.7L215.4 305.7L215.5 303.7L215.5 301.7L215.5 299.6L215.5 297.6L215.6 295.6L215.6 293.6L215.6 291.6L215.6 289.6L215.7 287.6L215.7 285.6L215.7 283.6L215.7 281.6L215.8 279.6L215.8 277.6L215.8 275.5L215.8 273.5L215.9 271.5L215.9 269.5L215.9 267.5L215.9 265.5L216.0 263.5L216.0 261.5L216.0 259.5L216.1 257.5L216.1 255.5L216.1 253.4L216.1 251.4L216.2 249.4L216.2 247.4L216.2 245.4L216.3 243.4L216.3 241.4L216.3 239.4L216.3 237.4L216.4 235.4L216.4 233.4L216.4 231.4L216.5 229.3L216.5 227.3L216.5 225.3L216.5 223.3L216.6 221.3L216.6 219.3L216.6 217.3L216.7 215.3L216.7 213.3L216.7 211.3L216.7 209.3L216.8 207.3L216.8 205.2L216.8 203.2L216.9 201.2L216.9 199.2L216.9 197.2L217.0 195.2L217.0 193.2L217.0 191.2L217.1 189.2L217.1 187.2L217.1 185.2L217.1 183.1L217.2 181.1L217.2 179.1L217.2 177.1L217.3 175.1L217.3 173.1L217.3 171.1L217.4 169.1L217.4 167.1L217.4 165.1L217.5 163.1L217.5 161.1L217.5 159.0L217.6 157.0L217.6 155.0L217.6 153.0L217.7 151.0L217.7 149.0L217.7 147.0L217.8 145.0L217.8 143.0L217.8 141.0L217.9 139.0L217.9 137.0L217.9 134.9L218.0 132.9L218.0 130.9L218.0 128.9L218.1 126.9L218.1 124.9L218.1 122.9L218.2 120.9L218.2 118.9L218.2 116.9L218.3 114.9L218.3 112.9L218.3 110.8L218.4 108.9L218.4 106.9L218.4 104.9L218.5 103.0L218.5 100.8L218.7 102.8L218.9 104.8L219.1 106.8L219.3 108.8L219.5 110.8L219.7 112.8L219.9 114.8L220.1 116.8L220.3 118.7L220.5 120.7L220.7 122.7L221.0 124.7L221.2 126.7L221.4 128.7L221.6 130.7L221.8 132.7L222.0 134.7L222.2 136.7L222.5 138.7L222.7 140.7L222.9 142.7L223.1 144.7L223.3 146.6L223.6 148.6L223.8 150.6L224.0 152.6L224.2 154.6L224.5 156.6L224.7 158.6L224.9 160.6L225.2 162.6L225.4 164.6L225.6 166.6L225.9 168.5L226.1 170.5L226.3 172.5L226.6 174.5L226.8 176.5L227.1 178.5L227.3 180.5L227.6 182.5L227.8 184.5L228.1 186.5L228.3 188.4L228.5 190.4L228.8 192.4L229.1 194.4L229.3 196.4L229.6 198.4L229.8 200.4L230.1 202.4L230.3 204.3L230.6 206.3L230.9 208.3L231.2 210.3L231.4 212.3L231.7 214.3L232.0 216.3L232.2 218.3L232.5 220.2L232.8 222.2L233.1 224.2L233.3 226.2L233.6 228.2L233.9 230.2L234.2 232.1L234.5 234.1L234.8 236.1L235.1 238.1L235.4 240.1L235.7 242.1L236.0 244.0L236.3 246.0L236.5 248.0L236.9 250.0L237.2 252.0L237.5 253.9L237.8 255.9L238.1 257.9L238.4 259.9L238.7 261.9L239.0 263.8L239.4 265.8L239.7 267.8L240.0 269.8L240.3 271.8L240.7 273.7L241.0 275.7L241.4 277.7L241.7 279.7L242.0 281.6L242.4 283.6L242.7 285.6L243.1 287.6L243.4 289.5L243.8 291.5L244.1 293.5L244.5 295.5L244.9 297.4L245.2 299.4L245.6 301.4L246.0 303.3L246.3 305.3L246.7 307.3L247.1 309.2L247.5 311.2L247.9 313.2L248.3 315.1L248.7 317.1L249.1 319.1L249.5 321.0L249.9 323.0L250.3 325.0L250.7 326.9L251.1 328.9L251.5 330.8L252.0 332.8L252.4 334.8L252.8 336.7L253.3 338.7L253.7 340.6L254.1 342.6L254.6 344.5L255.1 346.5L255.5 348.4L256.0 350.4L256.4 352.3L256.9 354.3L257.4 356.2L257.9 358.2L258.4 360.1L258.9 362.1L259.4 364.0L259.9 365.9L260.4 367.9L260.9 369.8L261.4 371.8L261.9 373.7L262.5 375.6L263.0 377.5L263.5 379.5L264.1 381.4L264.6 383.3L265.2 385.3L265.8 387.2L266.4 389.1L266.9 391.0L267.5 392.9L268.1 394.8L268.7 396.8L269.3 398.7L270.0 400.6L270.6 402.5L271.2 404.4L271.9 406.3L272.5 408.2L273.2 410.1L273.9 411.9L274.5 413.8L275.2 415.7L275.9 417.6L276.6 419.5L277.4 421.3L278.1 423.2L278.8 425.1L279.6 426.9L280.3 428.8L281.1 430.6L281.9 432.5L282.7 434.3L283.5 436.1L284.3 438.0L285.2 439.8L286.0 441.6L286.9 443.4L287.7 445.2L288.6 447.0L289.5 448.8L290.4 450.6L291.4 452.4L292.3 454.1L293.3 455.9L294.3 457.7L295.2 459.4L296.3 461.1L297.3 462.8L298.3 464.6L299.4 466.3L300.5 467.9L301.6 469.6L302.7 471.3L303.8 472.9L305.0 474.6L306.2 476.2L307.4 477.8L308.6 479.4L309.8 480.9L311.1 482.5L312.4 484.0L313.7 485.6L315.0 487.1L316.4 488.5L317.8 490.0L319.1 491.4L320.6 492.9L322.0 494.3L323.5 495.6L325.0 497.0L326.5 498.3L328.0 499.6L329.5 500.9L331.1 502.1L332.7 503.3L334.3 504.5L335.9 505.7L337.6 506.8L339.3 507.9L341.0 509.0L342.7 510.0L344.4 511.1L346.1 512.0L347.9 513.0L349.7 513.9L351.5 514.8L353.3 515.7L355.1 516.6L356.9 517.4L358.8 518.2L360.6 518.9L362.5 519.7L364.3 520.4L366.2 521.1L368.1 521.7L370.0 522.4L371.9 523.0L373.8 523.6L375.8 524.1L377.7 524.7L379.6 525.2L381.6 525.7L383.5 526.2L385.5 526.7L387.4 527.1L389.4 527.5L391.3 527.9L393.3 528.3L395.3 528.7L397.2 529.1L399.2 529.4L401.2 529.8L403.2 530.1L405.2 530.4L407.1 530.7L409.1 531.0L411.1 531.2L413.1 531.5L415.1 531.7L417.1 532.0L419.1 532.2L421.1 532.4L423.1 532.6L425.1 532.8L427.0 533.0L429.0 533.2L431.0 533.3L433.0 533.5L435.0 533.7L437.0 533.8L439.0 534.0L441.0 534.1L443.0 534.2L445.0 534.4L447.0 534.5L449.0 534.6L451.0 534.7L453.0 534.8L455.0 534.9L457.0 535.0L459.0 535.1L461.0 535.2L463.0 535.3L465.1 535.4L467.1 535.4L469.1 535.5L471.1 535.6L473.1 535.7L475.1 535.7L477.1 535.8L479.1 535.9L481.1 535.9L483.1 536.0L485.1 536.0L487.1 536.1L489.1 536.1L491.1 536.2L493.1 536.2L495.1 536.2L497.1 536.3L499.1 536.3L501.1 536.4L503.1 536.4L505.1 536.4L507.1 536.5L509.1 536.5L511.1 536.5L513.1 536.6L515.1 536.6L517.2 536.6L519.2 536.6L521.2 536.7L523.2 536.7L525.2 536.7L527.2 536.7L529.2 536.7L531.2 536.8L533.2 536.8L535.2 536.8L537.2 536.8L539.2 536.8L541.2 536.8L543.2 536.9L545.2 536.9L547.2 536.9L549.2 536.9L551.2 536.9L553.2 536.9L555.2 536.9L557.2 536.9L559.2 536.9L561.2 537.0L563.3 537.0L565.3 537.0L567.3 537.0L569.3 537.0L571.3 537.0L573.3 537.0L575.3 537.0L577.3 537.0L579.3 537.0L581.3 537.0L583.3 537.0L585.3 537.0L587.3 537.1L589.3 537.1L591.3 537.1L593.3 537.1L595.3 537.1L597.3 537.1L599.3 537.1L601.3 537.1L603.3 537.1L605.3 537.1L607.3 537.1L609.4 537.1L611.4 537.1L613.4 537.1L615.4 537.1L617.4 537.1L619.4 537.1L621.4 537.1L623.4 537.1L625.4 537.1L627.4 537.1L629.4 537.1L631.4 537.1L633.4 537.1L635.4 537.1L637.4 537.1L639.4 537.1L641.4 537.1L643.4 537.1L645.4 537.1L647.4 537.1L649.4 537.1L651.4 537.1L653.4 537.1L655.5 537.1L657.5 537.1L659.5 537.1L661.5 537.1L663.5 537.1L665.5 537.2L667.5 537.2L669.5 537.2L671.5 537.2L673.5 537.2L675.5 537.2L677.5 537.2L679.5 537.2L681.5 537.2L683.5 537.2L685.5 537.2L687.5 537.2L689.5 537.2L691.5 537.2L693.5 537.2L695.5 537.2L697.5 537.2L699.6 537.2L701.6 537.2L703.6 537.2L705.6 537.2L707.6 537.2L709.6 537.2L711.6 537.2L713.6 537.2L715.6 537.2L717.6 537.2L719.6 537.2L721.6 537.2L723.6 537.2L725.6 537.2L727.6 537.2L729.6 537.2L731.6 537.2L733.6 537.2L735.6 537.2L737.6 537.2L739.6 537.2L741.6 537.2L743.6 537.2L745.7 537.2L747.7 537.2L749.7 537.2L751.7 537.2L753.7 537.2L755.7 537.2L757.7 537.2L759.7 537.2L761.7 537.2L763.7 537.2L765.7 537.2L767.7 537.2L769.7 537.2L771.7 537.2L773.7 537.2L775.7 537.2L777.7 537.2L779.7 537.2L781.7 537.2L783.7 537.2L785.7 537.2L787.7 537.2L789.7 537.2L791.8 537.2L793.8 537.2L795.8 537.2L797.8 537.2L799.8 537.2L801.8 537.2L803.8 537.2L805.8 537.2L807.8 537.2L809.8 537.2L811.8 537.2L813.8 537.2L815.8 537.2L817.8 537.2L819.8 537.2L821.8 537.2L823.8 537.2L825.8 537.2L827.8 537.2L829.8 537.2L831.8 537.2L833.8 537.2L835.9 537.2L837.9 537.2L839.9 537.2L841.9 537.2L843.9 537.2L845.9 537.2L847.9 537.2L849.9 537.2L851.9 537.2L853.9 537.2L855.9 537.2L857.9 537.2" stroke="#ff7f00"/>
<path d="M219.2 100.8L219.6 104.8L220.0 108.8L220.4 112.8L220.8 116.8L221.2 120.7L221.7 124.7L222.1 128.7L222.5 132.7L222.9 136.7L223.4 140.7L223.8 144.7L224.3 148.6L224.7 152.6L225.2 156.6L225.6 160.6L226.1 164.6L226.6 168.5L227.0 172.5L227.5 176.5L228.0 180.5L228.5 184.5L229.0 188.4L229.5 192.4L230.0 196.4L230.5 200.4L231.0 204.3L231.6 208.3L232.1 212.3L232.7 216.3L233.2 220.2L233.8 224.2L234.3 228.2L234.9 232.1L235.5 236.1L236.1 240.1L236.7 244.0L237.2 248.0L237.9 252.0L238.5 255.9L239.1 259.9L239.7 263.8L240.4 267.8L241.0 271.8L241.7 275.7L242.4 279.7L243.1 283.6L243.8 287.6L244.5 291.5L245.2 295.5L245.9 299.4L246.7 303.3L247.4 307.3L248.2 311.2L249.0 315.1L249.8 319.1L250.6 323.0L251.4 326.9L252.2 330.8L253.1 334.8L254.0 338.7L254.8 342.6L255.8 346.5L256.7 350.4L257.6 354.3L258.6 358.2L259.6 362.1L260.6 365.9L261.6 369.8L262.6 373.7L263.7 377.5L264.8 381.4L265.9 385.3L267.1 389.1L268.2 392.9L269.4 396.8L270.7 400.6L271.9 404.4L273.2 408.2L274.6 411.9L275.9 415.7L277.3 419.5L278.8 423.2L280.3 426.9L281.8 430.6L283.4 434.3L285.0 438.0L286.7 441.6L288.4 445.2L290.2 448.8L292.1 452.4L294.0 455.9L295.9 459.4L298.0 462.8L300.1 466.3L302.3 469.6L304.5 472.9L306.9 476.2L309.3 479.4L311.8 482.5L314.4 485.6L317.1 488.5L319.8 491.4L322.7 494.3L325.7 497.0L328.7 499.6" stroke="#ff7f00"/>
<path d="M217.8 100.8L218.2 104.8L218.6 108.8L219.0 112.8L219.4 116.8L219.8 120.7L220.3 124.7L220.7 128.7L221.1 132.7L221.5 136.7L222.0 140.7L222.4 144.7L222.9 148.6L223.3 152.6L223.8 156.6L224.2 160.6L224.7 164.6L225.2 168.5L225.6 172.5L226.1 176.5L226.6 180.5L227.1 184.5L227.6 188.4L228.1 192.4L228.6 196.4L229.1 200.4L229.6 204.3L230.2 208.3L230.7 212.3L231.3 216.3L231.8 220.2L232.4 224.2L232.9 228.2L233.5 232.1L234.1 236.1L234.7 240.1L235.3 244.0L235.8 248.0L236.5 252.0L237.1 255.9L237.7 259.9L238.3 263.8L239.0 267.8L239.6 271.8L240.3 275.7L241.0 279.7L241.7 283.6L242.4 287.6L243.1 291.5L243.8 295.5L244.5 299.4L245.3 303.3L246.0 307.3L246.8 311.2L247.6 315.1L248.4 319.1L249.2 323.0L250.0 326.9L250.8 330.8L251.7 334.8L252.6 338.7L253.4 342.6L254.4 346.5L255.3 350.4L256.2 354.3L257.2 358.2L258.2 362.1L259.2 365.9L260.2 369.8L261.2 373.7L262.3 377.5L263.4 381.4L264.5 385.3L265.7 389.1L266.8 392.9L268.0 396.8L269.3 400.6L270.5 404.4L271.8 408.2L273.2 411.9L274.5 415.7L275.9 419.5L277.4 423.2L278.9 426.9L280.4 430.6L282.0 434.3L283.6 438.0L285.3 441.6L287.0 445.2L288.8 448.8L290.7 452.4L292.6 455.9L294.5 459.4L296.6 462.8L298.7 466.3L300.9 469.6L303.1 472.9L305.5 476.2L307.9 479.4L310.4 482.5L313.0 485.6L315.7 488.5L318.4 491.4L321.3 494.3L324.3 497.0L327.3 499.6" stroke="#ff7f00"/>
<path d="M219.7 112.8L220.5 120.7L221.4 128.7L222.2 136.7L223.1 144.7L224.0 152.6L224.9 160.6L225.9 168.5L226.8 176.5L227.8 184.5L228.8 192.4L229.8 200.4L230.9 208.3L232.0 216.3L233.1 224.2L234.2 232.1L235.4 240.1L236.5 248.0L237.8 255.9L239.0 263.8L240.3 271.8L241.7 279.7L243.1 287.6L244.5 295.5L246.0 303.3L247.5 311.2L249.1 319.1L250.7 326.9L252.4 334.8L254.1 342.6L256.0 350.4L257.9 358.2L259.9 365.9L261.9 373.7L264.1 381.4L266.4 389.1L268.7 396.8L271.2 404.4L273.9 411.9L276.6 419.5L279.6 426.9L282.7 434.3L286.0 441.6L289.5 448.8L293.3 455.9L297.3 462.8L301.6 469.6L306.2 476.2L311.1 482.5L316.4 488.5L322.0 494.3L328.0 499.6" stroke="#fff" stroke-opacity=".33" stroke-width="8.4" stroke-dasharray="1 1.5"/>
</g>
<path d="M175.7 693.5 v-9.5M204.1 693.5 v-9.5M232.6 693.5 v-9.5M261.0 693.5 v-9.5M317.8 693.5 v-9.5M346.3 693.5 v-9.5M374.7 693.5 v-9.5M403.1 693.5 v-9.5M460.0 693.5 v-9.5M488.4 693.5 v-9.5M516.8 693.5 v-9.5M545.2 693.5 v-9.5M602.1 693.5 v-9.5M630.5 693.5 v-9.5M658.9 693.5 v-9.5M687.4 693.5 v-9.5M744.2 693.5 v-9.5M772.6 693.5 v-9.5M801.1 693.5 v-9.5M829.5 693.5 v-9.5M147.3 654.3 h9.8M147.3 615.1 h9.8M147.3 576.0 h9.8M147.3 497.6 h9.8M147.3 458.4 h9.8M147.3 419.2 h9.8M147.3 340.9 h9.8M147.3 301.7 h9.8M147.3 262.5 h9.8M147.3 184.2 h9.8M147.3 145.0 h9.8M147.3 105.8 h9.8" stroke="#555" stroke-width="1.2" fill="none"/>
<path d="M289.4 693.5 v-16.6M431.5 693.5 v-16.6M573.7 693.5 v-16.6M715.8 693.5 v-16.6M147.3 536.8 h16.6M147.3 380.1 h16.6M147.3 223.3 h16.6" stroke="#000" stroke-width="2.8" fill="none"/>
<path d="M147.3 66.5 H857.9 V693.5" stroke="#000" stroke-width="2.6" fill="none"/>
<path d="M147.3 66.5 V693.5 H857.9" stroke="#000" stroke-width="3.1" fill="none" stroke-linecap="square"/>
<text x="137.8" y="707.7" font-family="'DejaVu Serif Condensed','DejaVu Serif','Liberation Serif',serif" font-size="38.0" font-weight="bold" text-anchor="end" fill="#000" textLength="23.8" lengthAdjust="spacingAndGlyphs">0</text>
<text x="137.8" y="551.0" font-family="'DejaVu Serif Condensed','DejaVu Serif','Liberation Serif',serif" font-size="38.0" font-weight="bold" text-anchor="end" fill="#000" textLength="71.4" lengthAdjust="spacingAndGlyphs">200</text>
<text x="137.8" y="394.3" font-family="'DejaVu Serif Condensed','DejaVu Serif','Liberation Serif',serif" font-size="38.0" font-weight="bold" text-anchor="end" fill="#000" textLength="71.4" lengthAdjust="spacingAndGlyphs">400</text>
<text x="137.8" y="237.5" font-family="'DejaVu Serif Condensed','DejaVu Serif','Liberation Serif',serif" font-size="38.0" font-weight="bold" text-anchor="end" fill="#000" textLength="71.4" lengthAdjust="spacingAndGlyphs">600</text>
<text x="137.8" y="80.8" font-family="'DejaVu Serif Condensed','DejaVu Serif','Liberation Serif',serif" font-size="38.0" font-weight="bold" text-anchor="end" fill="#000" textLength="71.4" lengthAdjust="spacingAndGlyphs">800</text>
<text x="147.3" y="729.8" font-family="'DejaVu Serif Condensed','DejaVu Serif','Liberation Serif',serif" font-size="38.0" font-weight="bold" text-anchor="middle" fill="#000" textLength="23.8" lengthAdjust="spacingAndGlyphs">0</text>
<text x="289.4" y="729.8" font-family="'DejaVu Serif Condensed','DejaVu Serif','Liberation Serif',serif" font-size="38.0" font-weight="bold" text-anchor="middle" fill="#000" textLength="47.6" lengthAdjust="spacingAndGlyphs">20</text>
<text x="431.5" y="729.8" font-family="'DejaVu Serif Condensed','DejaVu Serif','Liberation Serif',serif" font-size="38.0" font-weight="bold" text-anchor="middle" fill="#000" textLength="47.6" lengthAdjust="spacingAndGlyphs">40</text>
<text x="573.7" y="729.8" font-family="'DejaVu Serif Condensed','DejaVu Serif','Liberation Serif',serif" font-size="38.0" font-weight="bold" text-anchor="middle" fill="#000" textLength="47.6" lengthAdjust="spacingAndGlyphs">60</text>
<text x="715.8" y="729.8" font-family="'DejaVu Serif Condensed','DejaVu Serif','Liberation Serif',serif" font-size="38.0" font-weight="bold" text-anchor="middle" fill="#000" textLength="47.6" lengthAdjust="spacingAndGlyphs">80</text>
<text x="857.9" y="729.8" font-family="'DejaVu Serif Condensed','DejaVu Serif','Liberation Serif',serif" font-size="38.0" font-weight="bold" text-anchor="middle" fill="#000" textLength="71.4" lengthAdjust="spacingAndGlyphs">100</text>
<text x="501.6" y="775.2" font-family="'DejaVu Serif Condensed','DejaVu Serif','Liberation Serif',serif" font-size="45.5" font-weight="bold" text-anchor="middle" fill="#000" textLength="253.5" lengthAdjust="spacingAndGlyphs">Time [min]</text>
<text transform="translate(36.1,378.1) rotate(-90)" font-family="'DejaVu Serif Condensed','DejaVu Serif','Liberation Serif',serif" font-size="45.5" font-weight="bold" text-anchor="middle" textLength="388" lengthAdjust="spacingAndGlyphs">Temperature [°C]</text>
<g clip-path="url(#c1071)" fill="none" stroke-width="6.6" stroke-linejoin="bevel" stroke-linecap="butt">
<path d="M1071.3 669.2L1073.0 666.5L1074.7 664.0L1076.4 661.6L1078.1 659.2L1079.9 656.8L1081.7 654.5L1083.6 652.1L1085.5 649.7L1087.4 647.4L1089.2 645.0L1091.2 642.7L1093.1 640.4L1095.1 638.1L1097.1 635.9L1099.1 633.7L1101.2 631.5L1103.4 629.4L1105.6 627.4L1107.8 625.4L1110.1 623.4L1112.5 621.5L1114.8 619.6L1117.2 617.8L1119.7 616.0L1122.1 614.3L1124.6 612.6L1127.2 611.0L1129.7 609.4L1132.3 607.9L1134.9 606.4L1137.6 604.9L1140.2 603.5L1142.9 602.1L1145.6 600.8L1148.4 599.7L1151.2 598.6L1154.0 597.6L1156.9 596.7L1159.8 595.9L1162.7 595.1L1165.6 594.4L1168.5 593.6L1171.5 592.9L1174.4 592.2L1177.3 591.6L1180.3 590.9L1183.2 590.3L1186.2 589.7L1189.1 589.1L1192.1 588.5L1195.1 587.9L1198.0 587.4L1201.0 586.9L1204.0 586.4L1206.9 586.0L1209.9 585.6L1212.9 585.1L1215.9 584.7L1218.9 584.3L1221.9 584.0L1224.9 583.6L1227.9 583.2L1230.9 582.9L1233.8 582.5L1236.8 582.1L1239.8 581.8L1242.8 581.4L1245.8 581.1L1248.8 580.7L1251.8 580.4L1254.8 580.0L1257.8 579.7L1260.8 579.4L1263.8 579.1L1266.8 578.9L1269.8 578.7L1272.8 578.5L1275.8 578.3L1278.8 578.1L1281.8 578.0L1284.8 577.8L1287.8 577.7L1290.8 577.5L1293.9 577.4L1296.9 577.3L1299.9 577.2L1302.9 577.1L1305.9 577.0L1308.9 576.9L1311.9 576.8L1314.9 576.7L1317.9 576.6L1321.0 576.5L1324.0 576.4L1327.0 576.3L1330.0 576.3L1333.0 576.2L1336.0 576.1L1339.0 576.0L1342.0 575.9L1345.1 575.9L1348.1 575.8L1351.1 575.7L1354.1 575.7L1357.1 575.6L1360.1 575.5L1363.1 575.5L1366.1 575.4L1369.2 575.4L1372.2 575.4L1375.2 575.4L1378.2 575.3L1381.2 575.3L1384.2 575.3L1387.2 575.3L1390.2 575.3L1393.3 575.3L1396.3 575.3L1399.3 575.4L1402.3 575.4L1405.3 575.4L1408.3 575.4L1411.3 575.4L1414.3 575.4L1417.4 575.4L1420.4 575.4L1423.4 575.4L1426.4 575.4L1429.4 575.4L1432.4 575.4L1435.4 575.4L1438.4 575.5L1441.5 575.5L1444.5 575.5L1447.5 575.5L1450.5 575.5L1453.5 575.6L1456.5 575.6L1459.5 575.6L1462.5 575.6L1465.6 575.6L1468.6 575.7L1471.6 575.7L1474.6 575.7L1477.6 575.7L1480.6 575.7L1483.6 575.8L1486.7 575.8L1489.7 575.8L1492.7 575.8L1495.7 575.8L1498.7 575.8L1501.7 575.8L1504.7 575.8L1507.7 575.8L1510.8 575.8L1513.8 575.8L1516.8 575.8L1519.8 575.8L1522.8 575.8L1525.8 575.8L1528.8 575.8L1531.8 575.8L1534.9 575.8L1537.9 575.8L1540.9 575.9L1543.9 575.9L1546.9 575.9L1549.9 575.9L1552.9 575.9L1555.9 575.9L1559.0 575.9L1562.0 575.9L1565.0 575.9L1568.0 575.9L1571.0 575.9L1574.0 575.9L1577.0 575.9L1580.0 575.9L1583.1 575.9L1586.1 575.9L1589.1 575.9L1592.1 575.9L1595.1 575.9L1598.1 575.9L1601.1 575.9L1604.1 575.9L1607.2 575.9L1610.2 575.9L1613.2 575.9L1616.2 575.9L1619.2 575.9L1622.2 575.9L1625.2 575.9L1628.2 575.9L1631.3 575.9L1634.3 575.9L1637.3 575.9L1640.3 575.9L1643.3 575.9L1646.3 575.9L1649.3 575.9L1652.4 575.9L1655.4 575.9L1658.4 575.9L1661.4 575.9L1664.4 575.9L1667.4 575.9L1670.4 575.9L1673.4 575.9L1676.5 575.9L1679.5 575.9L1682.5 575.9L1685.5 575.9L1688.5 575.9L1691.5 575.9L1694.5 575.9L1697.5 575.9L1700.6 575.9L1703.6 575.9L1706.6 576.0L1709.6 576.0L1712.6 576.0L1715.6 576.0L1718.6 576.0L1721.6 576.0L1724.7 576.0L1727.7 576.0L1730.7 576.0L1733.7 576.0L1736.7 576.0L1739.7 576.0L1742.7 576.0L1745.7 576.0L1748.8 576.0L1751.8 576.0L1754.8 576.0L1757.8 576.0L1760.8 576.0L1763.8 576.0L1766.8 576.0L1769.8 576.0L1772.8 576.0L1775.7 576.0L1778.7 576.0L1781.9 576.0" stroke="#d40000"/>
<path d="M1071.3 669.2L1073.0 666.5L1074.7 664.0L1076.4 661.6L1078.1 659.2L1079.9 656.8L1081.8 654.4L1083.6 652.1L1085.5 649.7L1087.4 647.3L1089.3 645.0L1091.2 642.6L1093.1 640.3L1095.1 638.0L1097.1 635.8L1099.2 633.6L1101.3 631.5L1103.5 629.4L1105.7 627.3L1107.9 625.3L1110.2 623.3L1112.6 621.4L1114.9 619.5L1117.3 617.7L1119.8 615.9L1122.3 614.2L1124.8 612.5L1127.3 610.9L1129.9 609.3L1132.5 607.8L1135.1 606.3L1137.7 604.8L1140.4 603.4L1143.1 602.0L1145.8 600.7L1148.6 599.5L1151.4 598.4L1154.2 597.4L1157.1 596.5L1160.0 595.6L1162.9 594.8L1165.8 593.9L1168.7 593.2L1171.6 592.4L1174.5 591.7L1177.5 591.0L1180.4 590.3L1183.4 589.6L1186.3 588.9L1189.2 588.2L1192.2 587.5L1195.1 586.9L1198.1 586.2L1201.0 585.5L1204.0 584.8L1206.9 584.0L1209.8 583.3L1212.8 582.6L1215.7 581.9L1218.6 581.1L1221.6 580.4L1224.5 579.7L1227.4 579.0L1230.4 578.4L1233.3 577.8L1236.3 577.2L1239.2 576.6L1242.2 576.0L1245.2 575.5L1248.2 575.0L1251.1 574.4L1254.1 573.9L1257.1 573.5L1260.1 573.0L1263.1 572.6L1266.1 572.2L1269.1 571.8L1272.1 571.4L1275.0 571.0L1278.0 570.7L1281.0 570.3L1284.0 570.0L1287.0 569.7L1290.1 569.4L1293.1 569.1L1296.1 568.8L1299.1 568.5L1302.1 568.2L1305.1 567.9L1308.1 567.7L1311.1 567.5L1314.1 567.2L1317.1 567.0L1320.1 566.8L1323.2 566.6L1326.2 566.4L1329.2 566.2L1332.2 566.0L1335.2 565.8L1338.2 565.6L1341.2 565.5L1344.3 565.3L1347.3 565.1L1350.3 565.0L1353.3 564.9L1356.3 564.8L1359.4 564.7L1362.4 564.7L1365.4 564.6L1368.4 564.6L1371.4 564.7L1374.4 564.7L1377.5 564.8L1380.5 564.8L1383.5 564.9L1386.5 565.0L1389.5 565.1L1392.5 565.2L1395.6 565.4L1398.6 565.5L1401.6 565.6L1404.6 565.7L1407.6 565.9L1410.7 566.0L1413.7 566.1L1416.7 566.3L1419.7 566.4L1422.7 566.5L1425.7 566.6L1428.8 566.8L1431.8 566.9L1434.8 567.1L1437.8 567.2L1440.8 567.4L1443.8 567.5L1446.9 567.7L1449.9 567.8L1452.9 568.0L1455.9 568.1L1458.9 568.3L1461.9 568.4L1464.9 568.6L1468.0 568.7L1471.0 568.9L1474.0 569.0L1477.0 569.2L1480.0 569.4L1483.0 569.5L1486.1 569.7L1489.1 569.9L1492.1 570.0L1495.1 570.2L1498.1 570.4L1501.1 570.5L1504.1 570.7L1507.2 570.8L1510.2 571.0L1513.2 571.1L1516.2 571.3L1519.2 571.4L1522.2 571.5L1525.3 571.6L1528.3 571.7L1531.3 571.8L1534.3 571.9L1537.3 572.0L1540.4 572.1L1543.4 572.2L1546.4 572.3L1549.4 572.4L1552.4 572.5L1555.4 572.5L1558.5 572.6L1561.5 572.7L1564.5 572.7L1567.5 572.8L1570.5 572.9L1573.6 572.9L1576.6 573.0L1579.6 573.0L1582.6 573.1L1585.6 573.1L1588.7 573.1L1591.7 573.2L1594.7 573.2L1597.7 573.3L1600.7 573.3L1603.7 573.3L1606.8 573.4L1609.8 573.4L1612.8 573.5L1615.8 573.5L1618.8 573.5L1621.9 573.5L1624.9 573.6L1627.9 573.6L1630.9 573.6L1633.9 573.6L1637.0 573.6L1640.0 573.7L1643.0 573.7L1646.0 573.7L1649.0 573.7L1652.1 573.7L1655.1 573.7L1658.1 573.7L1661.1 573.7L1664.1 573.7L1667.2 573.7L1670.2 573.7L1673.2 573.7L1676.2 573.7L1679.2 573.7L1682.3 573.7L1685.3 573.7L1688.3 573.7L1691.3 573.7L1694.3 573.7L1697.4 573.7L1700.4 573.7L1703.4 573.7L1706.4 573.7L1709.4 573.7L1712.5 573.7L1715.5 573.6L1718.5 573.6L1721.5 573.6L1724.5 573.6L1727.5 573.6L1730.6 573.6L1733.6 573.6L1736.6 573.6L1739.6 573.6L1742.6 573.6L1745.7 573.6L1748.7 573.6L1751.7 573.5L1754.7 573.5L1757.7 573.5L1760.8 573.5L1763.8 573.5L1766.8 573.5L1769.8 573.5L1772.7 573.4L1775.7 573.4L1778.6 573.4L1781.9 573.4" stroke="#00d400"/>
<path d="M1071.3 669.2L1072.5 667.4L1073.5 665.7L1074.6 664.1L1075.7 662.5L1076.9 660.8L1078.0 659.2L1079.2 657.6L1080.5 656.0L1081.7 654.4L1082.9 652.9L1084.2 651.3L1085.5 649.7L1086.7 648.2L1088.0 646.6L1089.2 645.0L1090.5 643.5L1091.8 641.9L1093.0 640.4L1094.3 638.8L1095.7 637.3L1097.0 635.8L1098.4 634.4L1099.8 632.9L1101.2 631.5L1102.6 630.1L1104.1 628.7L1105.5 627.3L1107.0 626.0L1108.5 624.7L1110.1 623.4L1111.6 622.1L1113.2 620.8L1114.8 619.6L1116.4 618.4L1118.0 617.2L1119.6 616.0L1121.2 614.8L1122.9 613.7L1124.6 612.6L1126.2 611.5L1127.9 610.4L1129.7 609.4L1131.4 608.4L1133.1 607.4L1134.9 606.4L1136.6 605.4L1138.4 604.4L1140.2 603.5L1141.9 602.5L1143.7 601.6L1145.5 600.7L1147.3 599.9L1149.2 599.0L1151.0 598.2L1152.9 597.5L1154.7 596.7L1156.6 596.0L1158.5 595.2L1160.3 594.5L1162.2 593.8L1164.1 593.2L1166.0 592.5L1167.9 591.8L1169.8 591.1L1171.7 590.5L1173.6 589.8L1175.5 589.2L1177.4 588.5L1179.3 587.9L1181.2 587.3L1183.1 586.7L1185.0 586.1L1186.9 585.4L1188.9 584.8L1190.8 584.2L1192.7 583.6L1194.6 583.0L1196.5 582.4L1198.4 581.8L1200.4 581.2L1202.3 580.6L1204.2 580.1L1206.1 579.5L1208.1 578.9L1210.0 578.4L1211.9 577.8L1213.8 577.3L1215.8 576.7L1217.7 576.1L1219.6 575.5L1221.5 574.9L1223.5 574.3L1225.4 573.7L1227.3 573.1L1229.2 572.4L1231.1 571.7L1233.0 571.1L1234.8 570.3L1236.7 569.6L1238.6 568.9L1240.4 568.1L1242.3 567.2L1244.1 566.4L1245.9 565.5L1247.7 564.5L1249.5 563.5L1251.1 562.3L1252.7 561.2L1254.1 559.8L1255.4 558.4L1256.6 556.8L1257.6 555.2L1258.4 553.4L1259.2 551.5L1259.8 549.6L1260.3 547.6L1260.8 545.7L1261.2 543.7L1261.5 541.7L1261.7 539.7L1262.0 537.7L1262.2 535.7L1262.3 533.7L1262.5 531.7L1262.6 529.7L1262.7 527.7L1262.8 525.7L1262.9 523.7L1263.0 521.7L1263.1 519.7L1263.1 517.7L1263.2 515.7L1263.3 513.6L1263.3 511.6L1263.4 509.6L1263.4 507.6L1263.5 505.6L1263.5 503.6L1263.6 501.6L1263.6 499.6L1263.6 497.6L1263.7 495.6L1263.7 493.6L1263.7 491.6L1263.8 489.5L1263.8 487.5L1263.8 485.5L1263.9 483.5L1263.9 481.5L1263.9 479.5L1264.0 477.5L1264.0 475.5L1264.0 473.5L1264.0 471.5L1264.1 469.5L1264.1 467.5L1264.1 465.5L1264.1 463.5L1264.2 461.4L1264.2 459.4L1264.2 457.4L1264.2 455.4L1264.3 453.4L1264.3 451.4L1264.3 449.4L1264.3 447.4L1264.3 445.4L1264.4 443.4L1264.4 441.4L1264.4 439.4L1264.4 437.4L1264.4 435.3L1264.5 433.3L1264.5 431.3L1264.5 429.3L1264.5 427.3L1264.5 425.3L1264.6 423.3L1264.6 421.3L1264.6 419.3L1264.6 417.3L1264.6 415.3L1264.6 413.3L1264.7 411.3L1264.7 409.2L1264.7 407.2L1264.7 405.2L1264.7 403.2L1264.7 401.2L1264.7 399.2L1264.8 397.2L1264.8 395.2L1264.8 393.2L1264.8 391.2L1264.8 389.2L1264.8 387.2L1264.8 385.1L1264.9 383.1L1264.9 381.1L1264.9 379.1L1264.9 377.1L1264.9 375.1L1264.9 373.1L1264.9 371.1L1265.0 369.1L1265.0 367.1L1265.0 365.1L1265.0 363.1L1265.0 361.1L1265.0 359.0L1265.0 357.0L1265.1 355.0L1265.1 353.0L1265.1 351.0L1265.1 349.0L1265.1 347.0L1265.1 345.0L1265.1 343.0L1265.2 341.0L1265.2 339.0L1265.2 337.0L1265.2 334.9L1265.2 332.9L1265.2 330.9L1265.2 328.9L1265.3 326.9L1265.3 324.9L1265.3 322.9L1265.3 320.9L1265.3 318.9L1265.3 316.9L1265.4 314.9L1265.4 312.9L1265.4 310.9L1265.4 308.8L1265.4 306.8L1265.4 304.8L1265.5 302.8L1265.5 300.8L1265.5 298.8L1265.5 296.8L1265.5 294.8L1265.6 292.8L1265.6 290.8L1265.6 288.8L1265.6 286.8L1265.6 284.7L1265.7 282.7L1265.7 280.7L1265.7 278.7L1265.7 276.7L1265.8 274.7L1265.8 272.7L1265.8 270.7L1265.8 268.7L1265.9 266.7L1265.9 264.7L1265.9 262.7L1265.9 260.7L1266.0 258.6L1266.0 256.6L1266.0 254.6L1266.0 252.6L1266.1 250.6L1266.1 248.6L1266.1 246.6L1266.1 244.6L1266.2 242.6L1266.2 240.6L1266.2 238.6L1266.2 236.6L1266.3 234.6L1266.3 232.5L1266.3 230.5L1266.3 228.5L1266.4 226.5L1266.4 224.5L1266.4 222.5L1266.4 220.5L1266.5 218.5L1266.5 216.5L1266.5 214.5L1266.6 212.5L1266.6 210.5L1266.6 208.5L1266.6 206.4L1266.7 204.4L1266.7 202.4L1266.7 200.4L1266.8 198.4L1266.8 196.4L1266.8 194.4L1266.8 192.4L1266.9 190.4L1266.9 188.4L1266.9 186.4L1267.0 184.4L1267.0 182.4L1267.0 180.3L1267.0 178.3L1267.1 176.3L1267.1 174.3L1267.1 172.3L1267.2 170.3L1267.2 168.3L1267.2 166.3L1267.3 164.3L1267.3 162.3L1267.3 160.3L1267.3 158.3L1267.4 156.3L1267.4 154.2L1267.4 152.2L1267.5 150.2L1267.5 148.2L1267.5 146.2L1267.6 144.2L1267.6 142.2L1267.6 140.2L1267.7 138.2L1267.7 136.2L1267.7 134.2L1267.7 132.2L1267.8 130.2L1267.8 128.1L1267.8 126.1L1267.9 124.2L1267.9 122.2L1267.9 120.2L1268.0 118.3L1268.0 116.1L1268.3 118.1L1268.5 120.1L1268.8 122.1L1269.0 124.1L1269.3 126.1L1269.5 128.1L1269.8 130.0L1270.1 132.0L1270.3 134.0L1270.6 136.0L1270.8 138.0L1271.1 140.0L1271.4 142.0L1271.6 144.0L1271.9 146.0L1272.2 148.0L1272.5 150.0L1272.7 151.9L1273.0 153.9L1273.3 155.9L1273.6 157.9L1273.8 159.9L1274.1 161.9L1274.4 163.9L1274.7 165.9L1275.0 167.9L1275.2 169.8L1275.5 171.8L1275.8 173.8L1276.1 175.8L1276.4 177.8L1276.7 179.8L1277.0 181.8L1277.3 183.8L1277.6 185.8L1277.9 187.7L1278.2 189.7L1278.5 191.7L1278.8 193.7L1279.1 195.7L1279.4 197.7L1279.7 199.7L1280.0 201.6L1280.3 203.6L1280.6 205.6L1280.9 207.6L1281.2 209.6L1281.6 211.6L1281.9 213.5L1282.2 215.5L1282.5 217.5L1282.8 219.5L1283.2 221.5L1283.5 223.5L1283.8 225.4L1284.1 227.4L1284.5 229.4L1284.8 231.4L1285.1 233.4L1285.5 235.3L1285.8 237.3L1286.2 239.3L1286.5 241.3L1286.9 243.3L1287.2 245.2L1287.6 247.2L1287.9 249.2L1288.3 251.2L1288.6 253.1L1289.0 255.1L1289.3 257.1L1289.7 259.1L1290.1 261.1L1290.4 263.0L1290.8 265.0L1291.2 267.0L1291.5 268.9L1291.9 270.9L1292.3 272.9L1292.7 274.9L1293.1 276.8L1293.4 278.8L1293.8 280.8L1294.2 282.8L1294.6 284.7L1295.0 286.7L1295.4 288.7L1295.8 290.6L1296.2 292.6L1296.6 294.6L1297.0 296.5L1297.4 298.5L1297.9 300.5L1298.3 302.4L1298.7 304.4L1299.1 306.4L1299.5 308.3L1300.0 310.3L1300.4 312.2L1300.8 314.2L1301.3 316.2L1301.7 318.1L1302.2 320.1L1302.6 322.0L1303.1 324.0L1303.5 325.9L1304.0 327.9L1304.4 329.9L1304.9 331.8L1305.4 333.8L1305.9 335.7L1306.3 337.7L1306.8 339.6L1307.3 341.6L1307.8 343.5L1308.3 345.5L1308.8 347.4L1309.3 349.4L1309.8 351.3L1310.3 353.3L1310.8 355.2L1311.3 357.1L1311.8 359.1L1312.3 361.0L1312.9 362.9L1313.4 364.9L1313.9 366.8L1314.5 368.8L1315.0 370.7L1315.6 372.6L1316.1 374.6L1316.7 376.5L1317.3 378.4L1317.8 380.3L1318.4 382.3L1319.0 384.2L1319.6 386.1L1320.2 388.0L1320.8 389.9L1321.4 391.8L1322.0 393.8L1322.6 395.7L1323.2 397.6L1323.9 399.5L1324.5 401.4L1325.2 403.3L1325.8 405.2L1326.4 407.1L1327.1 409.0L1327.8 410.9L1328.4 412.8L1329.1 414.7L1329.8 416.6L1330.5 418.5L1331.2 420.3L1331.9 422.2L1332.6 424.1L1333.4 426.0L1334.1 427.8L1334.8 429.7L1335.6 431.6L1336.3 433.4L1337.1 435.3L1337.9 437.1L1338.7 439.0L1339.5 440.8L1340.3 442.7L1341.1 444.5L1341.9 446.3L1342.7 448.2L1343.6 450.0L1344.4 451.8L1345.3 453.6L1346.2 455.4L1347.0 457.2L1347.9 459.0L1348.8 460.8L1349.8 462.6L1350.7 464.4L1351.6 466.2L1352.6 468.0L1353.5 469.7L1354.5 471.5L1355.5 473.2L1356.5 475.0L1357.5 476.7L1358.5 478.4L1359.6 480.1L1360.6 481.9L1361.7 483.6L1362.8 485.2L1363.9 486.9L1365.0 488.6L1366.1 490.3L1367.2 491.9L1368.4 493.6L1369.6 495.2L1370.8 496.8L1372.0 498.4L1373.2 500.0L1374.4 501.6L1375.7 503.2L1376.9 504.7L1378.2 506.3L1379.5 507.8L1380.8 509.3L1382.2 510.8L1383.5 512.3L1384.9 513.8L1386.3 515.3L1387.7 516.7L1389.1 518.1L1390.5 519.5L1392.0 520.9L1393.4 522.3L1394.9 523.6L1396.4 525.0L1398.0 526.3L1399.5 527.5L1401.1 528.8L1402.6 530.1L1404.2 531.3L1405.8 532.5L1407.4 533.7L1409.1 534.9L1410.7 536.0L1412.4 537.1L1414.1 538.2L1415.8 539.3L1417.5 540.4L1419.2 541.4L1420.9 542.4L1422.7 543.4L1424.5 544.4L1426.2 545.3L1428.0 546.2L1429.8 547.1L1431.6 548.0L1433.4 548.9L1435.3 549.7L1437.1 550.5L1438.9 551.3L1440.8 552.1L1442.7 552.8L1444.5 553.5L1446.4 554.2L1448.3 554.9L1450.2 555.6L1452.1 556.3L1454.0 556.9L1455.9 557.5L1457.8 558.1L1459.8 558.7L1461.7 559.2L1463.6 559.8L1465.6 560.3L1467.5 560.8L1469.4 561.3L1471.4 561.8L1473.3 562.3L1475.3 562.7L1477.3 563.1L1479.2 563.6L1481.2 564.0L1483.2 564.4L1485.1 564.8L1487.1 565.1L1489.1 565.5L1491.1 565.8L1493.0 566.2L1495.0 566.5L1497.0 566.8L1499.0 567.1L1501.0 567.4L1503.0 567.7L1505.0 568.0L1507.0 568.2L1508.9 568.5L1510.9 568.8L1512.9 569.0L1514.9 569.2L1516.9 569.5L1518.9 569.7L1520.9 569.9L1522.9 570.1L1524.9 570.3L1526.9 570.5L1528.9 570.7L1530.9 570.8L1532.9 571.0L1534.9 571.2L1536.9 571.3L1538.9 571.5L1540.9 571.6L1542.9 571.8L1544.9 571.9L1546.9 572.1L1548.9 572.2L1551.0 572.3L1553.0 572.4L1555.0 572.6L1557.0 572.7L1559.0 572.8L1561.0 572.9L1563.0 573.0L1565.0 573.1L1567.0 573.2L1569.0 573.3L1571.0 573.4L1573.0 573.5L1575.0 573.5L1577.0 573.6L1579.0 573.7L1581.0 573.8L1583.1 573.9L1585.1 573.9L1587.1 574.0L1589.1 574.1L1591.1 574.1L1593.1 574.2L1595.1 574.2L1597.1 574.3L1599.1 574.4L1601.1 574.4L1603.1 574.5L1605.1 574.5L1607.1 574.6L1609.2 574.6L1611.2 574.7L1613.2 574.7L1615.2 574.7L1617.2 574.8L1619.2 574.8L1621.2 574.9L1623.2 574.9L1625.2 574.9L1627.2 575.0L1629.2 575.0L1631.2 575.0L1633.3 575.1L1635.3 575.1L1637.3 575.1L1639.3 575.2L1641.3 575.2L1643.3 575.2L1645.3 575.2L1647.3 575.3L1649.3 575.3L1651.3 575.3L1653.3 575.3L1655.4 575.3L1657.4 575.4L1659.4 575.4L1661.4 575.4L1663.4 575.4L1665.4 575.4L1667.4 575.5L1669.4 575.5L1671.4 575.5L1673.4 575.5L1675.4 575.5L1677.4 575.5L1679.5 575.6L1681.5 575.6L1683.5 575.6L1685.5 575.6L1687.5 575.6L1689.5 575.6L1691.5 575.6L1693.5 575.6L1695.5 575.7L1697.5 575.7L1699.5 575.7L1701.6 575.7L1703.6 575.7L1705.6 575.7L1707.6 575.7L1709.6 575.7L1711.6 575.7L1713.6 575.7L1715.6 575.7L1717.6 575.7L1719.6 575.8L1721.6 575.8L1723.6 575.8L1725.7 575.8L1727.7 575.8L1729.7 575.8L1731.7 575.8L1733.7 575.8L1735.7 575.8L1737.7 575.8L1739.7 575.8L1741.7 575.8L1743.7 575.8L1745.7 575.8L1747.8 575.8L1749.8 575.8L1751.8 575.8L1753.8 575.8L1755.8 575.9L1757.8 575.9L1759.8 575.9L1761.8 575.9L1763.8 575.9L1765.8 575.9L1767.8 575.9L1769.8 575.9L1771.9 575.9L1773.9 575.9L1775.9 575.9L1777.9 575.9L1779.9 575.9L1781.9 575.9" stroke="#2b2bff"/>
<path d="M1268.7 116.1L1269.2 120.1L1269.7 124.1L1270.2 128.1L1270.8 132.0L1271.3 136.0L1271.8 140.0L1272.3 144.0L1272.9 148.0L1273.4 151.9L1274.0 155.9L1274.5 159.9L1275.1 163.9L1275.7 167.9L1276.2 171.8L1276.8 175.8L1277.4 179.8L1278.0 183.8L1278.6 187.7L1279.2 191.7L1279.8 195.7L1280.4 199.7L1281.0 203.6L1281.6 207.6L1282.3 211.6L1282.9 215.5L1283.5 219.5L1284.2 223.5L1284.8 227.4L1285.5 231.4L1286.2 235.3L1286.9 239.3L1287.6 243.3L1288.3 247.2L1289.0 251.2L1289.7 255.1L1290.4 259.1L1291.1 263.0L1291.9 267.0L1292.6 270.9L1293.4 274.9L1294.1 278.8L1294.9 282.8L1295.7 286.7L1296.5 290.6L1297.3 294.6L1298.1 298.5L1299.0 302.4L1299.8 306.4L1300.7 310.3L1301.5 314.2L1302.4 318.1L1303.3 322.0L1304.2 325.9L1305.1 329.9L1306.1 333.8L1307.0 337.7L1308.0 341.6L1309.0 345.5L1310.0 349.4L1311.0 353.3L1312.0 357.1L1313.0 361.0L1314.1 364.9L1315.2 368.8L1316.3 372.6L1317.4 376.5L1318.5 380.3L1319.7 384.2L1320.9 388.0L1322.1 391.8L1323.3 395.7L1324.6 399.5L1325.9 403.3L1327.1 407.1L1328.5 410.9L1329.8 414.7L1331.2 418.5L1332.6 422.2L1334.1 426.0L1335.5 429.7L1337.0 433.4L1338.6 437.1L1340.2 440.8L1341.8 444.5L1343.4 448.2L1345.1 451.8L1346.9 455.4L1348.6 459.0L1350.5 462.6L1352.3 466.2L1354.2 469.7L1356.2 473.2L1358.2 476.7L1360.3 480.1L1362.4 483.6L1364.6 486.9L1366.8 490.3L1369.1 493.6L1371.5 496.8L1373.9 500.0L1376.4 503.2L1378.9 506.3L1381.5 509.3L1384.2 512.3L1387.0 515.3L1389.8 518.1L1392.7 520.9L1395.6 523.6L1398.7 526.3L1401.8 528.8" stroke="#2b2bff"/>
<path d="M1267.3 116.1L1267.8 120.1L1268.3 124.1L1268.8 128.1L1269.4 132.0L1269.9 136.0L1270.4 140.0L1270.9 144.0L1271.5 148.0L1272.0 151.9L1272.6 155.9L1273.1 159.9L1273.7 163.9L1274.3 167.9L1274.8 171.8L1275.4 175.8L1276.0 179.8L1276.6 183.8L1277.2 187.7L1277.8 191.7L1278.4 195.7L1279.0 199.7L1279.6 203.6L1280.2 207.6L1280.9 211.6L1281.5 215.5L1282.1 219.5L1282.8 223.5L1283.4 227.4L1284.1 231.4L1284.8 235.3L1285.5 239.3L1286.2 243.3L1286.9 247.2L1287.6 251.2L1288.3 255.1L1289.0 259.1L1289.7 263.0L1290.5 267.0L1291.2 270.9L1292.0 274.9L1292.7 278.8L1293.5 282.8L1294.3 286.7L1295.1 290.6L1295.9 294.6L1296.7 298.5L1297.6 302.4L1298.4 306.4L1299.3 310.3L1300.1 314.2L1301.0 318.1L1301.9 322.0L1302.8 325.9L1303.7 329.9L1304.7 333.8L1305.6 337.7L1306.6 341.6L1307.6 345.5L1308.6 349.4L1309.6 353.3L1310.6 357.1L1311.6 361.0L1312.7 364.9L1313.8 368.8L1314.9 372.6L1316.0 376.5L1317.1 380.3L1318.3 384.2L1319.5 388.0L1320.7 391.8L1321.9 395.7L1323.2 399.5L1324.5 403.3L1325.7 407.1L1327.1 410.9L1328.4 414.7L1329.8 418.5L1331.2 422.2L1332.7 426.0L1334.1 429.7L1335.6 433.4L1337.2 437.1L1338.8 440.8L1340.4 444.5L1342.0 448.2L1343.7 451.8L1345.5 455.4L1347.2 459.0L1349.1 462.6L1350.9 466.2L1352.8 469.7L1354.8 473.2L1356.8 476.7L1358.9 480.1L1361.0 483.6L1363.2 486.9L1365.4 490.3L1367.7 493.6L1370.1 496.8L1372.5 500.0L1375.0 503.2L1377.5 506.3L1380.1 509.3L1382.8 512.3L1385.6 515.3L1388.4 518.1L1391.3 520.9L1394.2 523.6L1397.3 526.3L1400.4 528.8" stroke="#2b2bff"/>
<path d="M1269.5 128.1L1270.6 136.0L1271.6 144.0L1272.7 151.9L1273.8 159.9L1275.0 167.9L1276.1 175.8L1277.3 183.8L1278.5 191.7L1279.7 199.7L1280.9 207.6L1282.2 215.5L1283.5 223.5L1284.8 231.4L1286.2 239.3L1287.6 247.2L1289.0 255.1L1290.4 263.0L1291.9 270.9L1293.4 278.8L1295.0 286.7L1296.6 294.6L1298.3 302.4L1300.0 310.3L1301.7 318.1L1303.5 325.9L1305.4 333.8L1307.3 341.6L1309.3 349.4L1311.3 357.1L1313.4 364.9L1315.6 372.6L1317.8 380.3L1320.2 388.0L1322.6 395.7L1325.2 403.3L1327.8 410.9L1330.5 418.5L1333.4 426.0L1336.3 433.4L1339.5 440.8L1342.7 448.2L1346.2 455.4L1349.8 462.6L1353.5 469.7L1357.5 476.7L1361.7 483.6L1366.1 490.3L1370.8 496.8L1375.7 503.2L1380.8 509.3L1386.3 515.3L1392.0 520.9L1398.0 526.3" stroke="#fff" stroke-opacity=".33" stroke-width="8.4" stroke-dasharray="1 1.5"/>
<path d="M1071.3 669.2L1072.5 667.4L1073.5 665.7L1074.6 664.1L1075.7 662.5L1076.9 660.9L1078.0 659.2L1079.2 657.6L1080.5 656.0L1081.7 654.4L1082.9 652.9L1084.2 651.3L1085.5 649.7L1086.7 648.2L1088.0 646.6L1089.2 645.0L1090.5 643.5L1091.7 641.9L1093.0 640.4L1094.3 638.8L1095.6 637.3L1097.0 635.8L1098.4 634.4L1099.8 632.9L1101.2 631.5L1102.6 630.1L1104.0 628.7L1105.5 627.4L1107.0 626.0L1108.5 624.7L1110.0 623.4L1111.6 622.1L1113.1 620.8L1114.7 619.5L1116.3 618.3L1117.9 617.1L1119.5 615.9L1121.1 614.7L1122.8 613.6L1124.4 612.5L1126.1 611.4L1127.9 610.3L1129.6 609.3L1131.3 608.3L1133.0 607.2L1134.7 606.1L1136.4 605.0L1138.0 603.8L1139.5 602.6L1141.1 601.4L1142.6 600.1L1144.0 598.7L1145.5 597.3L1146.9 595.9L1148.3 594.5L1149.7 593.0L1151.1 591.5L1152.5 590.1L1153.9 588.6L1155.2 587.1L1156.6 585.6L1157.9 584.1L1159.3 582.6L1160.6 581.1L1162.0 579.6L1163.3 578.1L1164.6 576.6L1165.8 575.0L1167.1 573.4L1168.3 571.8L1169.5 570.2L1170.7 568.6L1171.8 566.9L1172.9 565.3L1174.0 563.6L1175.0 561.8L1176.0 560.1L1177.0 558.3L1177.8 556.5L1178.7 554.7L1179.5 552.9L1180.2 551.0L1180.9 549.1L1181.5 547.2L1181.9 545.2L1182.3 543.3L1182.7 541.3L1183.0 539.3L1183.2 537.3L1183.4 535.3L1183.5 533.3L1183.6 531.3L1183.6 529.3L1183.6 527.3L1183.7 525.3L1183.7 523.3L1183.7 521.3L1183.7 519.3L1183.7 517.3L1183.7 515.3L1183.7 513.3L1183.8 511.3L1183.8 509.2L1183.8 507.2L1183.8 505.2L1183.8 503.2L1183.8 501.2L1183.8 499.2L1183.8 497.2L1183.8 495.2L1183.8 493.2L1183.8 491.2L1183.9 489.2L1183.9 487.2L1183.9 485.2L1183.9 483.1L1183.9 481.1L1183.9 479.1L1183.9 477.1L1183.9 475.1L1183.9 473.1L1183.9 471.1L1183.9 469.1L1183.9 467.1L1184.0 465.1L1184.0 463.1L1184.0 461.1L1184.0 459.1L1184.0 457.1L1184.0 455.0L1184.0 453.0L1184.0 451.0L1184.0 449.0L1184.0 447.0L1184.0 445.0L1184.0 443.0L1184.0 441.0L1184.1 439.0L1184.1 437.0L1184.1 435.0L1184.1 433.0L1184.1 431.0L1184.1 429.0L1184.1 426.9L1184.1 424.9L1184.1 422.9L1184.1 420.9L1184.1 418.9L1184.1 416.9L1184.1 414.9L1184.1 412.9L1184.1 410.9L1184.1 408.9L1184.2 406.9L1184.2 404.9L1184.2 402.9L1184.2 400.9L1184.2 398.8L1184.2 396.8L1184.2 394.8L1184.2 392.8L1184.2 390.8L1184.2 388.8L1184.2 386.8L1184.2 384.8L1184.2 382.8L1184.2 380.8L1184.2 378.8L1184.2 376.8L1184.3 374.8L1184.3 372.7L1184.3 370.7L1184.3 368.7L1184.3 366.7L1184.3 364.7L1184.3 362.7L1184.3 360.7L1184.3 358.7L1184.3 356.7L1184.3 354.7L1184.3 352.7L1184.3 350.7L1184.3 348.7L1184.3 346.7L1184.3 344.6L1184.4 342.6L1184.4 340.6L1184.4 338.6L1184.4 336.6L1184.4 334.6L1184.4 332.6L1184.4 330.6L1184.4 328.6L1184.4 326.6L1184.4 324.6L1184.4 322.6L1184.4 320.6L1184.4 318.6L1184.4 316.5L1184.4 314.5L1184.5 312.5L1184.5 310.5L1184.5 308.5L1184.5 306.5L1184.5 304.5L1184.5 302.5L1184.5 300.5L1184.5 298.5L1184.5 296.5L1184.5 294.5L1184.5 292.5L1184.5 290.5L1184.5 288.4L1184.6 286.4L1184.6 284.4L1184.6 282.4L1184.6 280.4L1184.6 278.4L1184.6 276.4L1184.6 274.4L1184.6 272.4L1184.6 270.4L1184.6 268.4L1184.6 266.4L1184.6 264.4L1184.7 262.4L1184.7 260.3L1184.7 258.3L1184.7 256.3L1184.7 254.3L1184.7 252.3L1184.7 250.3L1184.7 248.3L1184.7 246.3L1184.7 244.3L1184.7 242.3L1184.7 240.3L1184.8 238.3L1184.8 236.3L1184.8 234.3L1184.8 232.2L1184.8 230.2L1184.8 228.2L1184.8 226.2L1184.8 224.2L1184.8 222.2L1184.8 220.2L1184.8 218.2L1184.9 216.2L1184.9 214.2L1184.9 212.2L1184.9 210.2L1184.9 208.2L1184.9 206.2L1184.9 204.1L1184.9 202.1L1184.9 200.1L1184.9 198.1L1184.9 196.1L1184.9 194.1L1185.0 192.1L1185.0 190.1L1185.0 188.1L1185.0 186.1L1185.0 184.1L1185.0 182.1L1185.0 180.1L1185.0 178.1L1185.0 176.0L1185.0 174.0L1185.1 172.0L1185.1 170.0L1185.1 168.0L1185.1 166.0L1185.1 164.0L1185.1 162.0L1185.1 160.0L1185.1 158.0L1185.1 156.0L1185.1 154.0L1185.1 152.0L1185.2 150.0L1185.2 147.9L1185.2 145.9L1185.2 143.9L1185.2 141.9L1185.2 139.9L1185.2 137.9L1185.2 135.9L1185.2 133.9L1185.2 131.9L1185.3 129.9L1185.3 127.9L1185.3 125.9L1185.3 123.9L1185.3 121.9L1185.3 119.8L1185.3 117.8L1185.3 115.8L1185.3 113.8L1185.3 111.8L1185.3 109.8L1185.4 107.8L1185.4 105.8L1185.4 103.8L1185.4 101.8L1185.4 99.8L1185.4 97.8L1185.4 95.8L1185.4 93.8L1185.4 91.7L1185.4 89.7L1185.5 87.8L1185.5 85.8L1185.5 83.8L1185.5 81.9L1185.5 79.7L1185.7 81.7L1186.0 83.7L1186.2 85.7L1186.4 87.7L1186.7 89.7L1186.9 91.7L1187.2 93.6L1187.4 95.6L1187.6 97.6L1187.9 99.6L1188.1 101.6L1188.4 103.6L1188.6 105.6L1188.9 107.6L1189.1 109.6L1189.4 111.6L1189.6 113.6L1189.9 115.6L1190.1 117.5L1190.4 119.5L1190.6 121.5L1190.9 123.5L1191.1 125.5L1191.4 127.5L1191.6 129.5L1191.9 131.5L1192.2 133.5L1192.4 135.5L1192.7 137.5L1192.9 139.4L1193.2 141.4L1193.5 143.4L1193.7 145.4L1194.0 147.4L1194.3 149.4L1194.6 151.4L1194.8 153.4L1195.1 155.4L1195.4 157.3L1195.6 159.3L1195.9 161.3L1196.2 163.3L1196.5 165.3L1196.8 167.3L1197.0 169.3L1197.3 171.2L1197.6 173.2L1197.9 175.2L1198.2 177.2L1198.5 179.2L1198.8 181.2L1199.1 183.2L1199.4 185.1L1199.6 187.1L1199.9 189.1L1200.2 191.1L1200.5 193.1L1200.9 195.1L1201.2 197.1L1201.5 199.0L1201.8 201.0L1202.1 203.0L1202.4 205.0L1202.7 207.0L1203.0 209.0L1203.3 210.9L1203.6 212.9L1203.9 214.9L1204.3 216.9L1204.6 218.9L1204.9 220.8L1205.2 222.8L1205.6 224.8L1205.9 226.8L1206.2 228.8L1206.6 230.7L1206.9 232.7L1207.2 234.7L1207.5 236.7L1207.9 238.7L1208.2 240.6L1208.6 242.6L1208.9 244.6L1209.3 246.6L1209.6 248.5L1210.0 250.5L1210.3 252.5L1210.7 254.5L1211.0 256.4L1211.4 258.4L1211.8 260.4L1212.1 262.4L1212.5 264.3L1212.9 266.3L1213.2 268.3L1213.6 270.3L1214.0 272.2L1214.4 274.2L1214.7 276.2L1215.1 278.1L1215.5 280.1L1215.9 282.1L1216.3 284.0L1216.7 286.0L1217.1 288.0L1217.5 289.9L1217.9 291.9L1218.3 293.9L1218.7 295.8L1219.1 297.8L1219.5 299.8L1219.9 301.7L1220.3 303.7L1220.7 305.7L1221.2 307.6L1221.6 309.6L1222.0 311.5L1222.4 313.5L1222.9 315.5L1223.3 317.4L1223.7 319.4L1224.2 321.3L1224.6 323.3L1225.1 325.2L1225.5 327.2L1226.0 329.2L1226.5 331.1L1226.9 333.1L1227.4 335.0L1227.9 337.0L1228.3 338.9L1228.8 340.9L1229.3 342.8L1229.8 344.8L1230.3 346.7L1230.8 348.7L1231.3 350.6L1231.8 352.5L1232.3 354.5L1232.8 356.4L1233.3 358.4L1233.8 360.3L1234.3 362.2L1234.9 364.2L1235.4 366.1L1235.9 368.0L1236.5 370.0L1237.0 371.9L1237.6 373.8L1238.1 375.8L1238.7 377.7L1239.3 379.6L1239.8 381.5L1240.4 383.5L1241.0 385.4L1241.6 387.3L1242.2 389.2L1242.8 391.1L1243.4 393.1L1244.0 395.0L1244.6 396.9L1245.2 398.8L1245.8 400.7L1246.5 402.6L1247.1 404.5L1247.7 406.4L1248.4 408.3L1249.1 410.2L1249.7 412.1L1250.4 414.0L1251.1 415.9L1251.8 417.7L1252.5 419.6L1253.2 421.5L1253.9 423.4L1254.6 425.3L1255.3 427.1L1256.0 429.0L1256.8 430.9L1257.5 432.7L1258.3 434.6L1259.0 436.4L1259.8 438.3L1260.6 440.1L1261.4 442.0L1262.2 443.8L1263.0 445.7L1263.8 447.5L1264.7 449.3L1265.5 451.1L1266.3 453.0L1267.2 454.8L1268.1 456.6L1269.0 458.4L1269.8 460.2L1270.7 462.0L1271.7 463.8L1272.6 465.5L1273.5 467.3L1274.5 469.1L1275.4 470.9L1276.4 472.6L1277.4 474.4L1278.4 476.1L1279.4 477.8L1280.4 479.5L1281.5 481.3L1282.5 483.0L1283.6 484.7L1284.7 486.4L1285.8 488.0L1286.9 489.7L1288.0 491.4L1289.1 493.0L1290.3 494.7L1291.5 496.3L1292.7 497.9L1293.9 499.5L1295.1 501.1L1296.3 502.7L1297.6 504.3L1298.8 505.8L1300.1 507.4L1301.4 508.9L1302.7 510.4L1304.1 511.9L1305.4 513.4L1306.8 514.9L1308.2 516.3L1309.6 517.7L1311.0 519.2L1312.4 520.6L1313.9 521.9L1315.4 523.3L1316.9 524.6L1318.4 526.0L1319.9 527.3L1321.4 528.6L1323.0 529.8L1324.6 531.1L1326.2 532.3L1327.8 533.5L1329.4 534.7L1331.0 535.8L1332.7 537.0L1334.4 538.1L1336.0 539.2L1337.7 540.2L1339.4 541.3L1341.2 542.3L1342.9 543.3L1344.7 544.3L1346.4 545.3L1348.2 546.2L1350.0 547.1L1351.8 548.0L1353.6 548.9L1355.4 549.7L1357.2 550.5L1359.1 551.3L1360.9 552.1L1362.8 552.9L1364.7 553.6L1366.5 554.3L1368.4 555.0L1370.3 555.7L1372.2 556.4L1374.1 557.0L1376.0 557.6L1377.9 558.2L1379.8 558.8L1381.8 559.4L1383.7 560.0L1385.6 560.5L1387.6 561.0L1389.5 561.5L1391.4 562.0L1393.4 562.5L1395.4 562.9L1397.3 563.4L1399.3 563.8L1401.2 564.2L1403.2 564.6L1405.2 565.0L1407.1 565.4L1409.1 565.7L1411.1 566.1L1413.1 566.4L1415.0 566.8L1417.0 567.1L1419.0 567.4L1421.0 567.7L1423.0 568.0L1425.0 568.3L1427.0 568.5L1428.9 568.8L1430.9 569.0L1432.9 569.3L1434.9 569.5L1436.9 569.8L1438.9 570.0L1440.9 570.2L1442.9 570.4L1444.9 570.6L1446.9 570.8L1448.9 571.0L1450.9 571.1L1452.9 571.3L1454.9 571.5L1456.9 571.7L1458.9 571.8L1460.9 572.0L1462.9 572.1L1464.9 572.2L1466.9 572.4L1468.9 572.5L1470.9 572.6L1472.9 572.8L1474.9 572.9L1476.9 573.0L1478.9 573.1L1480.9 573.2L1482.9 573.3L1484.9 573.4L1486.9 573.5L1488.9 573.6L1490.9 573.7L1492.9 573.8L1495.0 573.9L1497.0 574.0L1499.0 574.0L1501.0 574.1L1503.0 574.2L1505.0 574.3L1507.0 574.3L1509.0 574.4L1511.0 574.5L1513.0 574.5L1515.0 574.6L1517.0 574.6L1519.0 574.7L1521.0 574.7L1523.0 574.8L1525.0 574.8L1527.0 574.9L1529.1 574.9L1531.1 575.0L1533.1 575.0L1535.1 575.1L1537.1 575.1L1539.1 575.2L1541.1 575.2L1543.1 575.2L1545.1 575.3L1547.1 575.3L1549.1 575.3L1551.1 575.4L1553.1 575.4L1555.1 575.4L1557.1 575.5L1559.1 575.5L1561.2 575.5L1563.2 575.5L1565.2 575.6L1567.2 575.6L1569.2 575.6L1571.2 575.6L1573.2 575.7L1575.2 575.7L1577.2 575.7L1579.2 575.7L1581.2 575.7L1583.2 575.7L1585.2 575.8L1587.2 575.8L1589.2 575.8L1591.3 575.8L1593.3 575.8L1595.3 575.8L1597.3 575.9L1599.3 575.9L1601.3 575.9L1603.3 575.9L1605.3 575.9L1607.3 575.9L1609.3 575.9L1611.3 576.0L1613.3 576.0L1615.3 576.0L1617.3 576.0L1619.4 576.0L1621.4 576.0L1623.4 576.0L1625.4 576.0L1627.4 576.0L1629.4 576.0L1631.4 576.0L1633.4 576.1L1635.4 576.1L1637.4 576.1L1639.4 576.1L1641.4 576.1L1643.4 576.1L1645.4 576.1L1647.4 576.1L1649.5 576.1L1651.5 576.1L1653.5 576.1L1655.5 576.1L1657.5 576.1L1659.5 576.1L1661.5 576.1L1663.5 576.1L1665.5 576.1L1667.5 576.2L1669.5 576.2L1671.5 576.2L1673.5 576.2L1675.5 576.2L1677.5 576.2L1679.6 576.2L1681.6 576.2L1683.6 576.2L1685.6 576.2L1687.6 576.2L1689.6 576.2L1691.6 576.2L1693.6 576.2L1695.6 576.2L1697.6 576.2L1699.6 576.2L1701.6 576.2L1703.6 576.2L1705.6 576.2L1707.6 576.2L1709.7 576.2L1711.7 576.2L1713.7 576.2L1715.7 576.2L1717.7 576.2L1719.7 576.2L1721.7 576.2L1723.7 576.2L1725.7 576.2L1727.7 576.2L1729.7 576.2L1731.7 576.2L1733.7 576.2L1735.7 576.2L1737.8 576.2L1739.8 576.2L1741.8 576.2L1743.8 576.2L1745.8 576.2L1747.8 576.2L1749.8 576.2L1751.8 576.2L1753.8 576.2L1755.8 576.2L1757.8 576.2L1759.8 576.2L1761.8 576.2L1763.8 576.3L1765.8 576.3L1767.9 576.3L1769.9 576.3L1771.9 576.3L1773.9 576.3L1775.9 576.3L1777.9 576.3L1779.9 576.3L1781.9 576.3" stroke="#555555"/>
<path d="M1186.2 79.7L1186.7 83.7L1187.1 87.7L1187.6 91.7L1188.1 95.6L1188.6 99.6L1189.1 103.6L1189.6 107.6L1190.1 111.6L1190.6 115.6L1191.1 119.5L1191.6 123.5L1192.1 127.5L1192.6 131.5L1193.1 135.5L1193.6 139.4L1194.2 143.4L1194.7 147.4L1195.3 151.4L1195.8 155.4L1196.3 159.3L1196.9 163.3L1197.5 167.3L1198.0 171.2L1198.6 175.2L1199.2 179.2L1199.8 183.2L1200.3 187.1L1200.9 191.1L1201.6 195.1L1202.2 199.0L1202.8 203.0L1203.4 207.0L1204.0 210.9L1204.6 214.9L1205.3 218.9L1205.9 222.8L1206.6 226.8L1207.3 230.7L1207.9 234.7L1208.6 238.7L1209.3 242.6L1210.0 246.6L1210.7 250.5L1211.4 254.5L1212.1 258.4L1212.8 262.4L1213.6 266.3L1214.3 270.3L1215.1 274.2L1215.8 278.1L1216.6 282.1L1217.4 286.0L1218.2 289.9L1219.0 293.9L1219.8 297.8L1220.6 301.7L1221.4 305.7L1222.3 309.6L1223.1 313.5L1224.0 317.4L1224.9 321.3L1225.8 325.2L1226.7 329.2L1227.6 333.1L1228.6 337.0L1229.5 340.9L1230.5 344.8L1231.5 348.7L1232.5 352.5L1233.5 356.4L1234.5 360.3L1235.6 364.2L1236.6 368.0L1237.7 371.9L1238.8 375.8L1240.0 379.6L1241.1 383.5L1242.3 387.3L1243.5 391.1L1244.7 395.0L1245.9 398.8L1247.2 402.6L1248.4 406.4L1249.8 410.2L1251.1 414.0L1252.5 417.7L1253.9 421.5L1255.3 425.3L1256.7 429.0L1258.2 432.7L1259.7 436.4L1261.3 440.1L1262.9 443.8L1264.5 447.5L1266.2 451.1L1267.9 454.8L1269.7 458.4L1271.4 462.0L1273.3 465.5L1275.2 469.1L1277.1 472.6L1279.1 476.1L1281.1 479.5L1283.2 483.0L1285.4 486.4L1287.6 489.7L1289.8 493.0L1292.2 496.3L1294.6 499.5L1297.0 502.7L1299.5 505.8L1302.1 508.9L1304.8 511.9L1307.5 514.9L1310.3 517.7L1313.1 520.6L1316.1 523.3L1319.1 526.0L1322.1 528.6" stroke="#555555"/>
<path d="M1184.8 79.7L1185.3 83.7L1185.7 87.7L1186.2 91.7L1186.7 95.6L1187.2 99.6L1187.7 103.6L1188.2 107.6L1188.7 111.6L1189.2 115.6L1189.7 119.5L1190.2 123.5L1190.7 127.5L1191.2 131.5L1191.7 135.5L1192.2 139.4L1192.8 143.4L1193.3 147.4L1193.9 151.4L1194.4 155.4L1194.9 159.3L1195.5 163.3L1196.1 167.3L1196.6 171.2L1197.2 175.2L1197.8 179.2L1198.4 183.2L1198.9 187.1L1199.5 191.1L1200.2 195.1L1200.8 199.0L1201.4 203.0L1202.0 207.0L1202.6 210.9L1203.2 214.9L1203.9 218.9L1204.5 222.8L1205.2 226.8L1205.9 230.7L1206.5 234.7L1207.2 238.7L1207.9 242.6L1208.6 246.6L1209.3 250.5L1210.0 254.5L1210.7 258.4L1211.4 262.4L1212.2 266.3L1212.9 270.3L1213.7 274.2L1214.4 278.1L1215.2 282.1L1216.0 286.0L1216.8 289.9L1217.6 293.9L1218.4 297.8L1219.2 301.7L1220.0 305.7L1220.9 309.6L1221.7 313.5L1222.6 317.4L1223.5 321.3L1224.4 325.2L1225.3 329.2L1226.2 333.1L1227.2 337.0L1228.1 340.9L1229.1 344.8L1230.1 348.7L1231.1 352.5L1232.1 356.4L1233.1 360.3L1234.2 364.2L1235.2 368.0L1236.3 371.9L1237.4 375.8L1238.6 379.6L1239.7 383.5L1240.9 387.3L1242.1 391.1L1243.3 395.0L1244.5 398.8L1245.8 402.6L1247.0 406.4L1248.4 410.2L1249.7 414.0L1251.1 417.7L1252.5 421.5L1253.9 425.3L1255.3 429.0L1256.8 432.7L1258.3 436.4L1259.9 440.1L1261.5 443.8L1263.1 447.5L1264.8 451.1L1266.5 454.8L1268.3 458.4L1270.0 462.0L1271.9 465.5L1273.8 469.1L1275.7 472.6L1277.7 476.1L1279.7 479.5L1281.8 483.0L1284.0 486.4L1286.2 489.7L1288.4 493.0L1290.8 496.3L1293.2 499.5L1295.6 502.7L1298.1 505.8L1300.7 508.9L1303.4 511.9L1306.1 514.9L1308.9 517.7L1311.7 520.6L1314.7 523.3L1317.7 526.0L1320.7 528.6" stroke="#555555"/>
<path d="M1186.9 91.7L1187.9 99.6L1188.9 107.6L1189.9 115.6L1190.9 123.5L1191.9 131.5L1192.9 139.4L1194.0 147.4L1195.1 155.4L1196.2 163.3L1197.3 171.2L1198.5 179.2L1199.6 187.1L1200.9 195.1L1202.1 203.0L1203.3 210.9L1204.6 218.9L1205.9 226.8L1207.2 234.7L1208.6 242.6L1210.0 250.5L1211.4 258.4L1212.9 266.3L1214.4 274.2L1215.9 282.1L1217.5 289.9L1219.1 297.8L1220.7 305.7L1222.4 313.5L1224.2 321.3L1226.0 329.2L1227.9 337.0L1229.8 344.8L1231.8 352.5L1233.8 360.3L1235.9 368.0L1238.1 375.8L1240.4 383.5L1242.8 391.1L1245.2 398.8L1247.7 406.4L1250.4 414.0L1253.2 421.5L1256.0 429.0L1259.0 436.4L1262.2 443.8L1265.5 451.1L1269.0 458.4L1272.6 465.5L1276.4 472.6L1280.4 479.5L1284.7 486.4L1289.1 493.0L1293.9 499.5L1298.8 505.8L1304.1 511.9L1309.6 517.7L1315.4 523.3L1321.4 528.6" stroke="#fff" stroke-opacity=".33" stroke-width="8.4" stroke-dasharray="1 1.5"/>
</g>
<path d="M1099.7 693.5 v-9.5M1128.1 693.5 v-9.5M1156.6 693.5 v-9.5M1185.0 693.5 v-9.5M1241.8 693.5 v-9.5M1270.3 693.5 v-9.5M1298.7 693.5 v-9.5M1327.1 693.5 v-9.5M1384.0 693.5 v-9.5M1412.4 693.5 v-9.5M1440.8 693.5 v-9.5M1469.2 693.5 v-9.5M1526.1 693.5 v-9.5M1554.5 693.5 v-9.5M1582.9 693.5 v-9.5M1611.4 693.5 v-9.5M1668.2 693.5 v-9.5M1696.6 693.5 v-9.5M1725.1 693.5 v-9.5M1753.5 693.5 v-9.5M1071.3 654.3 h9.8M1071.3 615.1 h9.8M1071.3 576.0 h9.8M1071.3 497.6 h9.8M1071.3 458.4 h9.8M1071.3 419.2 h9.8M1071.3 340.9 h9.8M1071.3 301.7 h9.8M1071.3 262.5 h9.8M1071.3 184.2 h9.8M1071.3 145.0 h9.8M1071.3 105.8 h9.8" stroke="#555" stroke-width="1.2" fill="none"/>
<path d="M1213.4 693.5 v-16.6M1355.5 693.5 v-16.6M1497.7 693.5 v-16.6M1639.8 693.5 v-16.6M1071.3 536.8 h16.6M1071.3 380.1 h16.6M1071.3 223.3 h16.6" stroke="#000" stroke-width="2.8" fill="none"/>
<path d="M1071.3 66.5 H1781.9 V693.5" stroke="#000" stroke-width="2.6" fill="none"/>
<path d="M1071.3 66.5 V693.5 H1781.9" stroke="#000" stroke-width="3.1" fill="none" stroke-linecap="square"/>
<text x="1061.8" y="707.7" font-family="'DejaVu Serif Condensed','DejaVu Serif','Liberation Serif',serif" font-size="38.0" font-weight="bold" text-anchor="end" fill="#000" textLength="23.8" lengthAdjust="spacingAndGlyphs">0</text>
<text x="1061.8" y="551.0" font-family="'DejaVu Serif Condensed','DejaVu Serif','Liberation Serif',serif" font-size="38.0" font-weight="bold" text-anchor="end" fill="#000" textLength="71.4" lengthAdjust="spacingAndGlyphs">200</text>
<text x="1061.8" y="394.3" font-family="'DejaVu Serif Condensed','DejaVu Serif','Liberation Serif',serif" font-size="38.0" font-weight="bold" text-anchor="end" fill="#000" textLength="71.4" lengthAdjust="spacingAndGlyphs">400</text>
<text x="1061.8" y="237.5" font-family="'DejaVu Serif Condensed','DejaVu Serif','Liberation Serif',serif" font-size="38.0" font-weight="bold" text-anchor="end" fill="#000" textLength="71.4" lengthAdjust="spacingAndGlyphs">600</text>
<text x="1061.8" y="80.8" font-family="'DejaVu Serif Condensed','DejaVu Serif','Liberation Serif',serif" font-size="38.0" font-weight="bold" text-anchor="end" fill="#000" textLength="71.4" lengthAdjust="spacingAndGlyphs">800</text>
<text x="1071.3" y="729.8" font-family="'DejaVu Serif Condensed','DejaVu Serif','Liberation Serif',serif" font-size="38.0" font-weight="bold" text-anchor="middle" fill="#000" textLength="23.8" lengthAdjust="spacingAndGlyphs">0</text>
<text x="1213.4" y="729.8" font-family="'DejaVu Serif Condensed','DejaVu Serif','Liberation Serif',serif" font-size="38.0" font-weight="bold" text-anchor="middle" fill="#000" textLength="47.6" lengthAdjust="spacingAndGlyphs">20</text>
<text x="1355.5" y="729.8" font-family="'DejaVu Serif Condensed','DejaVu Serif','Liberation Serif',serif" font-size="38.0" font-weight="bold" text-anchor="middle" fill="#000" textLength="47.6" lengthAdjust="spacingAndGlyphs">40</text>
<text x="1497.7" y="729.8" font-family="'DejaVu Serif Condensed','DejaVu Serif','Liberation Serif',serif" font-size="38.0" font-weight="bold" text-anchor="middle" fill="#000" textLength="47.6" lengthAdjust="spacingAndGlyphs">60</text>
<text x="1639.8" y="729.8" font-family="'DejaVu Serif Condensed','DejaVu Serif','Liberation Serif',serif" font-size="38.0" font-weight="bold" text-anchor="middle" fill="#000" textLength="47.6" lengthAdjust="spacingAndGlyphs">80</text>
<text x="1781.9" y="729.8" font-family="'DejaVu Serif Condensed','DejaVu Serif','Liberation Serif',serif" font-size="38.0" font-weight="bold" text-anchor="middle" fill="#000" textLength="71.4" lengthAdjust="spacingAndGlyphs">100</text>
<text x="1425.6" y="775.2" font-family="'DejaVu Serif Condensed','DejaVu Serif','Liberation Serif',serif" font-size="45.5" font-weight="bold" text-anchor="middle" fill="#000" textLength="253.5" lengthAdjust="spacingAndGlyphs">Time [min]</text>
<text transform="translate(960.1,378.1) rotate(-90)" font-family="'DejaVu Serif Condensed','DejaVu Serif','Liberation Serif',serif" font-size="45.5" font-weight="bold" text-anchor="middle" textLength="388" lengthAdjust="spacingAndGlyphs">Temperature [°C]</text>
<text x="-1.8" y="38.8" font-family="'Liberation Serif','DejaVu Serif',serif" font-size="54.0" font-weight="normal" text-anchor="start" fill="#000" textLength="60.5" lengthAdjust="spacingAndGlyphs">(a)</text>
<text x="905.5" y="38.8" font-family="'Liberation Serif','DejaVu Serif',serif" font-size="54.0" font-weight="normal" text-anchor="start" fill="#000" textLength="63.0" lengthAdjust="spacingAndGlyphs">(b)</text>
<text x="273.5" y="885.0" font-family="'Liberation Serif','DejaVu Serif',serif" font-size="53.0" font-weight="normal" text-anchor="start" fill="#000" textLength="58.8" lengthAdjust="spacingAndGlyphs">(c)</text>
<path d="M457.7 105.0 H610.9" stroke="#d40000" stroke-width="6.6"/>
<text font-family="'Liberation Serif','DejaVu Serif',serif" font-weight="bold" font-size="37.5" y="116.1" stroke="#000" stroke-width="0.5"><tspan x="636.6" textLength="26" lengthAdjust="spacingAndGlyphs">T</tspan><tspan x="661" dy="9.6" font-size="25.5" textLength="51" lengthAdjust="spacingAndGlyphs">oven</tspan><tspan x="720.5" dy="-9.6" textLength="132.5" lengthAdjust="spacingAndGlyphs">= 100°C</tspan></text>
<path d="M457.7 145.7 H610.9" stroke="#00d400" stroke-width="6.6"/>
<text font-family="'Liberation Serif','DejaVu Serif',serif" font-weight="bold" font-size="37.5" y="156.8" stroke="#000" stroke-width="0.5"><tspan x="636.6" textLength="26" lengthAdjust="spacingAndGlyphs">T</tspan><tspan x="661" dy="9.6" font-size="25.5" textLength="51" lengthAdjust="spacingAndGlyphs">oven</tspan><tspan x="720.5" dy="-9.6" textLength="132.5" lengthAdjust="spacingAndGlyphs">= 125°C</tspan></text>
<path d="M457.7 186.9 H610.9" stroke="#2b2bff" stroke-width="6.6"/>
<text font-family="'Liberation Serif','DejaVu Serif',serif" font-weight="bold" font-size="37.5" y="198.0" stroke="#000" stroke-width="0.5"><tspan x="636.6" textLength="26" lengthAdjust="spacingAndGlyphs">T</tspan><tspan x="661" dy="9.6" font-size="25.5" textLength="51" lengthAdjust="spacingAndGlyphs">oven</tspan><tspan x="720.5" dy="-9.6" textLength="132.5" lengthAdjust="spacingAndGlyphs">= 150°C</tspan></text>
<path d="M457.7 227.4 H610.9" stroke="#555555" stroke-width="6.6"/>
<text font-family="'Liberation Serif','DejaVu Serif',serif" font-weight="bold" font-size="37.5" y="238.5" stroke="#000" stroke-width="0.5"><tspan x="636.6" textLength="26" lengthAdjust="spacingAndGlyphs">T</tspan><tspan x="661" dy="9.6" font-size="25.5" textLength="51" lengthAdjust="spacingAndGlyphs">oven</tspan><tspan x="720.5" dy="-9.6" textLength="132.5" lengthAdjust="spacingAndGlyphs">= 175°C</tspan></text>
<path d="M457.7 267.8 H610.9" stroke="#ff7f00" stroke-width="6.6"/>
<text font-family="'Liberation Serif','DejaVu Serif',serif" font-weight="bold" font-size="37.5" y="278.9" stroke="#000" stroke-width="0.5"><tspan x="636.6" textLength="26" lengthAdjust="spacingAndGlyphs">T</tspan><tspan x="661" dy="9.6" font-size="25.5" textLength="51" lengthAdjust="spacingAndGlyphs">oven</tspan><tspan x="720.5" dy="-9.6" textLength="132.5" lengthAdjust="spacingAndGlyphs">= 200°C</tspan></text>
<path d="M1394.6 110.0 H1547.5" stroke="#d40000" stroke-width="6.6"/>
<text x="1573.0" y="120.9" font-family="'Liberation Serif','DejaVu Serif',serif" font-size="37.5" font-weight="bold" text-anchor="start" fill="#000" textLength="166.0" lengthAdjust="spacingAndGlyphs" stroke="#000" stroke-width="0.5">SOC = 0%</text>
<path d="M1394.6 150.7 H1547.5" stroke="#00d400" stroke-width="6.6"/>
<text x="1573.0" y="161.6" font-family="'Liberation Serif','DejaVu Serif',serif" font-size="37.5" font-weight="bold" text-anchor="start" fill="#000" textLength="186.0" lengthAdjust="spacingAndGlyphs" stroke="#000" stroke-width="0.5">SOC = 33%</text>
<path d="M1394.6 191.6 H1547.5" stroke="#2b2bff" stroke-width="6.6"/>
<text x="1573.0" y="202.5" font-family="'Liberation Serif','DejaVu Serif',serif" font-size="37.5" font-weight="bold" text-anchor="start" fill="#000" textLength="186.0" lengthAdjust="spacingAndGlyphs" stroke="#000" stroke-width="0.5">SOC = 66%</text>
<path d="M1394.6 232.3 H1547.5" stroke="#555555" stroke-width="6.6"/>
<text x="1573.0" y="243.2" font-family="'Liberation Serif','DejaVu Serif',serif" font-size="37.5" font-weight="bold" text-anchor="start" fill="#000" textLength="207.0" lengthAdjust="spacingAndGlyphs" stroke="#000" stroke-width="0.5">SOC = 100%</text>
<g clip-path="url(#hc)"><g filter="url(#vb)"><rect x="537.7" y="896.00" width="847.8" height="5.60" fill="url(#h0)"/><rect x="537.7" y="901.00" width="847.8" height="5.60" fill="url(#h1)"/><rect x="537.7" y="906.00" width="847.8" height="5.60" fill="url(#h2)"/><rect x="537.7" y="911.00" width="847.8" height="5.60" fill="url(#h3)"/><rect x="537.7" y="916.00" width="847.8" height="5.60" fill="url(#h4)"/><rect x="537.7" y="921.00" width="847.8" height="5.60" fill="url(#h5)"/><rect x="537.7" y="926.00" width="847.8" height="5.60" fill="url(#h6)"/><rect x="537.7" y="931.00" width="847.8" height="5.60" fill="url(#h7)"/><rect x="537.7" y="936.00" width="847.8" height="5.60" fill="url(#h8)"/><rect x="537.7" y="941.00" width="847.8" height="5.60" fill="url(#h9)"/><rect x="537.7" y="946.01" width="847.8" height="5.60" fill="url(#h10)"/><rect x="537.7" y="951.01" width="847.8" height="5.60" fill="url(#h11)"/><rect x="537.7" y="956.01" width="847.8" height="5.60" fill="url(#h12)"/><rect x="537.7" y="961.01" width="847.8" height="5.60" fill="url(#h13)"/><rect x="537.7" y="966.01" width="847.8" height="5.60" fill="url(#h14)"/><rect x="537.7" y="971.01" width="847.8" height="5.60" fill="url(#h15)"/><rect x="537.7" y="976.01" width="847.8" height="5.60" fill="url(#h16)"/><rect x="537.7" y="981.01" width="847.8" height="5.60" fill="url(#h17)"/><rect x="537.7" y="986.01" width="847.8" height="5.60" fill="url(#h18)"/><rect x="537.7" y="991.01" width="847.8" height="5.60" fill="url(#h19)"/><rect x="537.7" y="996.01" width="847.8" height="5.60" fill="url(#h20)"/><rect x="537.7" y="1001.01" width="847.8" height="5.60" fill="url(#h21)"/><rect x="537.7" y="1006.01" width="847.8" height="5.60" fill="url(#h22)"/><rect x="537.7" y="1011.02" width="847.8" height="5.60" fill="url(#h23)"/><rect x="537.7" y="1016.02" width="847.8" height="5.60" fill="url(#h24)"/><rect x="537.7" y="1021.02" width="847.8" height="5.60" fill="url(#h25)"/><rect x="537.7" y="1026.02" width="847.8" height="5.60" fill="url(#h26)"/><rect x="537.7" y="1031.02" width="847.8" height="5.60" fill="url(#h27)"/><rect x="537.7" y="1036.02" width="847.8" height="5.60" fill="url(#h28)"/><rect x="537.7" y="1041.02" width="847.8" height="5.60" fill="url(#h29)"/><rect x="537.7" y="1046.02" width="847.8" height="5.60" fill="url(#h30)"/><rect x="537.7" y="1051.02" width="847.8" height="5.60" fill="url(#h31)"/><rect x="537.7" y="1056.02" width="847.8" height="5.60" fill="url(#h32)"/><rect x="537.7" y="1061.02" width="847.8" height="5.60" fill="url(#h33)"/><rect x="537.7" y="1066.02" width="847.8" height="5.60" fill="url(#h34)"/><rect x="537.7" y="1071.02" width="847.8" height="5.60" fill="url(#h35)"/><rect x="537.7" y="1076.03" width="847.8" height="5.60" fill="url(#h36)"/><rect x="537.7" y="1081.03" width="847.8" height="5.60" fill="url(#h37)"/><rect x="537.7" y="1086.03" width="847.8" height="5.60" fill="url(#h38)"/><rect x="537.7" y="1091.03" width="847.8" height="5.60" fill="url(#h39)"/><rect x="537.7" y="1096.03" width="847.8" height="5.60" fill="url(#h40)"/><rect x="537.7" y="1101.03" width="847.8" height="5.60" fill="url(#h41)"/><rect x="537.7" y="1106.03" width="847.8" height="5.60" fill="url(#h42)"/><rect x="537.7" y="1111.03" width="847.8" height="5.60" fill="url(#h43)"/><rect x="537.7" y="1116.03" width="847.8" height="5.60" fill="url(#h44)"/><rect x="537.7" y="1121.03" width="847.8" height="5.60" fill="url(#h45)"/><rect x="537.7" y="1126.03" width="847.8" height="5.60" fill="url(#h46)"/><rect x="537.7" y="1131.03" width="847.8" height="5.60" fill="url(#h47)"/><rect x="537.7" y="1136.03" width="847.8" height="5.60" fill="url(#h48)"/><rect x="537.7" y="1141.03" width="847.8" height="5.60" fill="url(#h49)"/><rect x="537.7" y="1146.04" width="847.8" height="5.60" fill="url(#h50)"/><rect x="537.7" y="1151.04" width="847.8" height="5.60" fill="url(#h51)"/><rect x="537.7" y="1156.04" width="847.8" height="5.60" fill="url(#h52)"/><rect x="537.7" y="1161.04" width="847.8" height="5.60" fill="url(#h53)"/><rect x="537.7" y="1166.04" width="847.8" height="5.60" fill="url(#h54)"/><rect x="537.7" y="1171.04" width="847.8" height="5.60" fill="url(#h55)"/><rect x="537.7" y="1176.04" width="847.8" height="5.60" fill="url(#h56)"/><rect x="537.7" y="1181.04" width="847.8" height="5.60" fill="url(#h57)"/><rect x="537.7" y="1186.04" width="847.8" height="5.60" fill="url(#h58)"/><rect x="537.7" y="1191.04" width="847.8" height="5.60" fill="url(#h59)"/><rect x="537.7" y="1196.04" width="847.8" height="5.60" fill="url(#h60)"/><rect x="537.7" y="1201.04" width="847.8" height="5.60" fill="url(#h61)"/><rect x="537.7" y="1206.04" width="847.8" height="5.60" fill="url(#h62)"/><rect x="537.7" y="1211.05" width="847.8" height="5.60" fill="url(#h63)"/><rect x="537.7" y="1216.05" width="847.8" height="5.60" fill="url(#h64)"/><rect x="537.7" y="1221.05" width="847.8" height="5.60" fill="url(#h65)"/><rect x="537.7" y="1226.05" width="847.8" height="5.60" fill="url(#h66)"/><rect x="537.7" y="1231.05" width="847.8" height="5.60" fill="url(#h67)"/><rect x="537.7" y="1236.05" width="847.8" height="5.60" fill="url(#h68)"/><rect x="537.7" y="1241.05" width="847.8" height="5.60" fill="url(#h69)"/><rect x="537.7" y="1246.05" width="847.8" height="5.60" fill="url(#h70)"/><rect x="537.7" y="1251.05" width="847.8" height="5.60" fill="url(#h71)"/><rect x="537.7" y="1256.05" width="847.8" height="5.60" fill="url(#h72)"/><rect x="537.7" y="1261.05" width="847.8" height="5.60" fill="url(#h73)"/><rect x="537.7" y="1266.05" width="847.8" height="5.60" fill="url(#h74)"/><rect x="537.7" y="1271.05" width="847.8" height="5.60" fill="url(#h75)"/><rect x="537.7" y="1276.06" width="847.8" height="5.60" fill="url(#h76)"/><rect x="537.7" y="1281.06" width="847.8" height="5.60" fill="url(#h77)"/><rect x="537.7" y="1286.06" width="847.8" height="5.60" fill="url(#h78)"/><rect x="537.7" y="1291.06" width="847.8" height="5.60" fill="url(#h79)"/><rect x="537.7" y="1296.06" width="847.8" height="5.60" fill="url(#h80)"/><rect x="537.7" y="1301.06" width="847.8" height="5.60" fill="url(#h81)"/><rect x="537.7" y="1306.06" width="847.8" height="5.60" fill="url(#h82)"/><rect x="537.7" y="1311.06" width="847.8" height="5.60" fill="url(#h83)"/><rect x="537.7" y="1316.06" width="847.8" height="5.60" fill="url(#h84)"/><rect x="537.7" y="1321.06" width="847.8" height="5.60" fill="url(#h85)"/><rect x="537.7" y="1326.06" width="847.8" height="5.60" fill="url(#h86)"/><rect x="537.7" y="1331.06" width="847.8" height="5.60" fill="url(#h87)"/><rect x="537.7" y="1336.06" width="847.8" height="5.60" fill="url(#h88)"/><rect x="537.7" y="1341.07" width="847.8" height="5.60" fill="url(#h89)"/><rect x="537.7" y="1346.07" width="847.8" height="5.60" fill="url(#h90)"/><rect x="537.7" y="1351.07" width="847.8" height="5.60" fill="url(#h91)"/><rect x="537.7" y="1356.07" width="847.8" height="5.60" fill="url(#h92)"/><rect x="537.7" y="1361.07" width="847.8" height="5.60" fill="url(#h93)"/><rect x="537.7" y="1366.07" width="847.8" height="5.60" fill="url(#h94)"/><rect x="537.7" y="1371.07" width="847.8" height="5.60" fill="url(#h95)"/><rect x="537.7" y="1376.07" width="847.8" height="5.60" fill="url(#h96)"/><rect x="537.7" y="1381.07" width="847.8" height="5.60" fill="url(#h97)"/><rect x="537.7" y="1386.07" width="847.8" height="5.60" fill="url(#h98)"/><rect x="537.7" y="1391.07" width="847.8" height="5.60" fill="url(#h99)"/><rect x="537.7" y="1396.07" width="847.8" height="5.60" fill="url(#h100)"/><rect x="537.7" y="1401.07" width="847.8" height="5.60" fill="url(#h101)"/><rect x="537.7" y="1406.08" width="847.8" height="5.60" fill="url(#h102)"/><rect x="537.7" y="1411.08" width="847.8" height="5.60" fill="url(#h103)"/><rect x="537.7" y="1416.08" width="847.8" height="5.60" fill="url(#h104)"/><rect x="537.7" y="1421.08" width="847.8" height="5.60" fill="url(#h105)"/><rect x="537.7" y="1426.08" width="847.8" height="5.60" fill="url(#h106)"/><rect x="537.7" y="1431.08" width="847.8" height="5.60" fill="url(#h107)"/><rect x="537.7" y="1436.08" width="847.8" height="5.60" fill="url(#h108)"/><rect x="537.7" y="1441.08" width="847.8" height="5.60" fill="url(#h109)"/><rect x="537.7" y="1446.08" width="847.8" height="5.60" fill="url(#h110)"/><rect x="537.7" y="1451.08" width="847.8" height="5.60" fill="url(#h111)"/><rect x="537.7" y="1456.08" width="847.8" height="5.60" fill="url(#h112)"/><rect x="537.7" y="1461.08" width="847.8" height="5.60" fill="url(#h113)"/><rect x="537.7" y="1466.08" width="847.8" height="5.60" fill="url(#h114)"/><rect x="537.7" y="1471.08" width="847.8" height="5.60" fill="url(#h115)"/><rect x="537.7" y="1476.09" width="847.8" height="5.60" fill="url(#h116)"/><rect x="537.7" y="1481.09" width="847.8" height="5.60" fill="url(#h117)"/><rect x="537.7" y="1486.09" width="847.8" height="5.60" fill="url(#h118)"/><rect x="537.7" y="1491.09" width="847.8" height="5.60" fill="url(#h119)"/><rect x="537.7" y="1496.09" width="847.8" height="5.60" fill="url(#h120)"/><rect x="537.7" y="1501.09" width="847.8" height="5.60" fill="url(#h121)"/><rect x="537.7" y="1506.09" width="847.8" height="5.60" fill="url(#h122)"/><rect x="537.7" y="1511.09" width="847.8" height="5.60" fill="url(#h123)"/><rect x="537.7" y="1516.09" width="847.8" height="5.60" fill="url(#h124)"/><rect x="537.7" y="1521.09" width="847.8" height="5.60" fill="url(#h125)"/><rect x="537.7" y="1526.09" width="847.8" height="5.60" fill="url(#h126)"/><rect x="537.7" y="1531.09" width="847.8" height="5.60" fill="url(#h127)"/><rect x="537.7" y="1536.09" width="847.8" height="5.60" fill="url(#h128)"/><rect x="537.7" y="1541.10" width="847.8" height="5.60" fill="url(#h129)"/><rect x="537.7" y="1546.10" width="847.8" height="5.60" fill="url(#h130)"/><rect x="537.7" y="1551.10" width="847.8" height="5.60" fill="url(#h131)"/><rect x="537.7" y="1556.10" width="847.8" height="5.60" fill="url(#h132)"/><rect x="537.7" y="1561.10" width="847.8" height="5.60" fill="url(#h133)"/><rect x="537.7" y="1566.10" width="847.8" height="5.60" fill="url(#h134)"/><rect x="537.7" y="1571.10" width="847.8" height="5.60" fill="url(#h135)"/><rect x="537.7" y="1576.10" width="847.8" height="5.60" fill="url(#h136)"/><rect x="537.7" y="1581.10" width="847.8" height="5.60" fill="url(#h137)"/></g>
<path d="M729.7 911.6L730.5 915.2L731.4 918.9L732.3 922.6L733.2 926.5L734.1 930.3L735.0 934.2L736.0 938.1L736.9 942.0L737.8 945.9L738.8 949.8L739.7 953.7L740.6 957.6L741.5 961.5L742.3 965.4L743.2 969.3L744.1 973.2L744.9 977.1L745.8 981.0L746.7 984.9L747.5 988.8L748.4 992.8L749.3 996.7L750.1 1000.6L751.0 1004.5L751.9 1008.4L752.8 1012.3L753.6 1016.2L754.5 1020.1L755.3 1024.0L756.2 1028.0L757.1 1031.9L758.0 1035.8L758.9 1039.7L759.9 1043.5L760.9 1047.4L761.9 1051.3L762.9 1055.1L764.0 1059.0L765.1 1062.8L766.3 1066.7L767.5 1070.5L768.7 1074.3L770.0 1078.1L771.2 1081.9L772.5 1085.7L773.9 1089.5L775.2 1093.3L776.6 1097.0L778.0 1100.8L779.3 1104.6L780.8 1108.3L782.2 1112.0L783.7 1115.7L785.2 1119.5L786.7 1123.2L788.3 1126.8L789.8 1130.5L791.4 1134.2L793.0 1137.9L794.6 1141.6L796.1 1145.3L797.7 1148.9L799.3 1152.6L800.8 1156.3L802.3 1160.0L803.8 1163.8L805.3 1167.5L806.8 1171.2L808.3 1174.9L809.7 1178.6L811.2 1182.4L812.7 1186.1L814.3 1189.8L815.8 1193.5L817.3 1197.2L818.9 1200.9L820.5 1204.5L822.0 1208.2L823.6 1211.9L825.2 1215.6L826.8 1219.3L828.4 1222.9L830.0 1226.6L831.6 1230.3L833.3 1233.9L834.9 1237.6L836.6 1241.2L838.3 1244.8L840.0 1248.4L841.8 1252.0L843.6 1255.6L845.5 1259.2L847.3 1262.7L849.2 1266.2L851.2 1269.8L853.2 1273.2L855.2 1276.7L857.3 1280.1L859.4 1283.5L861.6 1286.8L863.9 1290.1L866.2 1293.3L868.6 1296.5L871.0 1299.7L873.5 1302.9L875.9 1306.1L878.4 1309.2L880.8 1312.4L883.3 1315.6L885.7 1318.8L888.1 1322.0L890.4 1325.3L892.8 1328.6L895.1 1331.8L897.5 1335.1L899.9 1338.3L902.3 1341.5L904.8 1344.6L907.3 1347.7L909.9 1350.7L912.5 1353.7L915.3 1356.5L918.1 1359.4L920.9 1362.2L923.9 1364.9L926.8 1367.6L929.8 1370.3L932.8 1373.0L935.9 1375.6L938.9 1378.2L942.0 1380.8L945.1 1383.3L948.2 1385.9L951.3 1388.4L954.5 1390.9L957.6 1393.3L960.8 1395.7L964.0 1398.1L967.2 1400.5L970.4 1402.9L973.7 1405.3L976.9 1407.6L980.2 1410.0L983.4 1412.3L986.7 1414.7L989.9 1417.0L993.2 1419.4L996.4 1421.7L999.6 1424.1L1002.9 1426.5L1006.1 1428.8L1009.3 1431.2L1012.6 1433.6L1015.8 1435.9L1019.1 1438.3L1022.3 1440.6L1025.6 1442.9L1028.9 1445.2L1032.2 1447.5L1035.5 1449.7L1038.8 1452.0L1042.1 1454.2L1045.5 1456.3L1048.9 1458.5L1052.3 1460.6L1055.7 1462.6L1059.2 1464.6L1062.7 1466.6L1066.2 1468.5L1069.8 1470.3L1073.4 1472.0L1077.0 1473.7L1080.6 1475.3L1084.3 1476.9L1088.0 1478.5L1091.6 1480.1L1095.3 1481.8L1098.9 1483.5L1102.5 1485.2L1106.1 1486.9L1109.7 1488.6L1113.3 1490.3L1117.0 1491.9L1120.6 1493.5L1124.3 1495.0L1128.0 1496.5L1131.8 1497.9L1135.5 1499.2L1139.3 1500.5L1143.1 1501.8L1146.9 1503.1L1150.7 1504.4L1154.4 1505.8L1158.1 1507.3L1161.8 1508.8L1165.5 1510.3L1169.2 1511.9L1172.9 1513.4L1176.5 1515.0L1180.3 1516.4L1184.0 1517.8L1187.8 1519.1L1191.6 1520.3L1195.4 1521.4L1199.2 1522.5L1203.1 1523.6L1207.0 1524.7L1210.8 1525.7L1214.7 1526.8L1218.6 1527.9L1222.4 1529.0L1226.3 1530.1L1230.1 1531.2L1234.0 1532.4L1237.8 1533.5L1241.6 1534.6L1245.5 1535.8L1249.3 1536.9L1253.2 1538.0L1257.0 1539.1L1260.9 1540.2L1264.7 1541.3L1268.6 1542.3L1272.5 1543.3L1276.4 1544.3L1280.2 1545.3L1284.1 1546.2L1288.0 1547.1L1291.9 1547.9L1295.9 1548.8L1299.8 1549.5L1303.7 1550.3L1307.7 1551.0L1311.6 1551.6L1315.6 1552.2L1319.5 1552.9L1323.5 1553.4L1327.4 1554.0L1331.4 1554.6L1335.4 1555.1L1339.3 1555.6L1343.3 1556.2L1347.3 1556.7L1351.3 1557.2L1355.2 1557.7L1359.2 1558.2L1363.2 1558.7L1367.1 1559.1L1371.0 1559.6L1374.9 1560.0L1378.7 1560.5L1382.3 1560.9L1385.7 1561.3" fill="none" stroke="#000" stroke-width="7.8" stroke-dasharray="35.3 4.5 19.8 4.5" stroke-dashoffset="2.35"/>
</g>
<rect x="537.7" y="911.3" width="847.8" height="660.1" fill="none" stroke="#262626" stroke-width="1"/>
<path d="M884.8 1318.3L954.4 1269" stroke="#000" stroke-width="5.3"/>
<text x="521.0" y="929.7" font-family="'DejaVu Serif Condensed','DejaVu Serif','Liberation Serif',serif" font-size="46.0" font-weight="normal" text-anchor="end" fill="#262626" textLength="86.3" lengthAdjust="spacingAndGlyphs">100</text>
<text x="521.0" y="1063.4" font-family="'DejaVu Serif Condensed','DejaVu Serif','Liberation Serif',serif" font-size="46.0" font-weight="normal" text-anchor="end" fill="#262626" textLength="58.3" lengthAdjust="spacingAndGlyphs">80</text>
<text x="521.0" y="1196.7" font-family="'DejaVu Serif Condensed','DejaVu Serif','Liberation Serif',serif" font-size="46.0" font-weight="normal" text-anchor="end" fill="#262626" textLength="58.3" lengthAdjust="spacingAndGlyphs">60</text>
<text x="521.0" y="1328.5" font-family="'DejaVu Serif Condensed','DejaVu Serif','Liberation Serif',serif" font-size="46.0" font-weight="normal" text-anchor="end" fill="#262626" textLength="58.3" lengthAdjust="spacingAndGlyphs">40</text>
<text x="521.0" y="1459.0" font-family="'DejaVu Serif Condensed','DejaVu Serif','Liberation Serif',serif" font-size="46.0" font-weight="normal" text-anchor="end" fill="#262626" textLength="58.3" lengthAdjust="spacingAndGlyphs">20</text>
<text x="521.0" y="1593.1" font-family="'DejaVu Serif Condensed','DejaVu Serif','Liberation Serif',serif" font-size="46.0" font-weight="normal" text-anchor="end" fill="#262626" textLength="26.3" lengthAdjust="spacingAndGlyphs">0</text>
<text x="537.7" y="1636.7" font-family="'DejaVu Serif Condensed','DejaVu Serif','Liberation Serif',serif" font-size="46.0" font-weight="normal" text-anchor="middle" fill="#262626" textLength="86.3" lengthAdjust="spacingAndGlyphs">100</text>
<text x="820.3" y="1636.7" font-family="'DejaVu Serif Condensed','DejaVu Serif','Liberation Serif',serif" font-size="46.0" font-weight="normal" text-anchor="middle" fill="#262626" textLength="86.3" lengthAdjust="spacingAndGlyphs">150</text>
<text x="1102.9" y="1636.7" font-family="'DejaVu Serif Condensed','DejaVu Serif','Liberation Serif',serif" font-size="46.0" font-weight="normal" text-anchor="middle" fill="#262626" textLength="86.3" lengthAdjust="spacingAndGlyphs">200</text>
<text x="1385.5" y="1636.7" font-family="'DejaVu Serif Condensed','DejaVu Serif','Liberation Serif',serif" font-size="46.0" font-weight="normal" text-anchor="middle" fill="#262626" textLength="86.3" lengthAdjust="spacingAndGlyphs">250</text>
<text x="646.5" y="1728.8" font-family="'DejaVu Serif','Liberation Serif',serif" font-size="53.0" font-weight="normal" text-anchor="start" fill="#262626" textLength="507.0" lengthAdjust="spacingAndGlyphs" stroke="#262626" stroke-width="0.8">Oven Temperature</text>
<text x="1169.5" y="1735.2" font-family="'DejaVu Serif','Liberation Serif',serif" font-size="68.8" font-weight="normal" text-anchor="start" fill="#262626" textLength="24.0" lengthAdjust="spacingAndGlyphs">[</text>
<text x="1191.5" y="1697.3" font-family="'DejaVu Serif','Liberation Serif',serif" font-size="42.0" font-weight="normal" text-anchor="start" fill="#262626" textLength="25.3" lengthAdjust="spacingAndGlyphs" stroke="#262626" stroke-width="0.8">o</text>
<text x="1217.0" y="1728.8" font-family="'DejaVu Serif','Liberation Serif',serif" font-size="53.0" font-weight="normal" text-anchor="start" fill="#262626" textLength="35.0" lengthAdjust="spacingAndGlyphs" stroke="#262626" stroke-width="0.8">C</text>
<text x="1249.3" y="1735.2" font-family="'DejaVu Serif','Liberation Serif',serif" font-size="68.8" font-weight="normal" text-anchor="start" fill="#262626" textLength="24.0" lengthAdjust="spacingAndGlyphs">]</text>
<text transform="translate(415.2,1502.4) rotate(-90)" font-family="'DejaVu Serif','Liberation Serif',serif" font-size="57" fill="#262626" stroke="#262626" stroke-width="0.8"><tspan x="-3" textLength="415" lengthAdjust="spacingAndGlyphs">State-of-Charge</tspan><tspan x="427.5" dy="3" font-size="64.5" textLength="22.5" lengthAdjust="spacingAndGlyphs" stroke-width="0.3">[</tspan><tspan x="449" dy="-3" textLength="53" lengthAdjust="spacingAndGlyphs">%</tspan><tspan x="500.5" dy="3" font-size="64.5" textLength="22.5" lengthAdjust="spacingAndGlyphs" stroke-width="0.3">]</tspan></text>
<text x="697.8" y="1407.1" font-family="'DejaVu Serif Condensed','DejaVu Serif','Liberation Serif',serif" font-size="46.0" font-weight="normal" text-anchor="middle" fill="#fff" textLength="268.3" lengthAdjust="spacingAndGlyphs" stroke="#fff" stroke-width="0.8">Safe regime</text>
<text x="698.0" y="1471.6" font-family="'DejaVu Serif Condensed','DejaVu Serif','Liberation Serif',serif" font-size="46.0" font-weight="normal" text-anchor="middle" fill="#fff" textLength="278.9" lengthAdjust="spacingAndGlyphs" stroke="#fff" stroke-width="0.8">(No thermal</text>
<text x="699.3" y="1536.2" font-family="'DejaVu Serif Condensed','DejaVu Serif','Liberation Serif',serif" font-size="46.0" font-weight="normal" text-anchor="middle" fill="#fff" textLength="218.6" lengthAdjust="spacingAndGlyphs" stroke="#fff" stroke-width="0.8">runaway)</text>
<text x="1272.6" y="987.2" font-family="'DejaVu Serif Condensed','DejaVu Serif','Liberation Serif',serif" font-size="46.0" font-weight="normal" text-anchor="middle" fill="#fff" textLength="152.6" lengthAdjust="spacingAndGlyphs" stroke="#fff" stroke-width="0.8">Unsafe</text>
<text x="1272.9" y="1051.2" font-family="'DejaVu Serif Condensed','DejaVu Serif','Liberation Serif',serif" font-size="46.0" font-weight="normal" text-anchor="middle" fill="#fff" textLength="162.2" lengthAdjust="spacingAndGlyphs" stroke="#fff" stroke-width="0.8">regime</text>
<text x="1067.9" y="1219.0" font-family="'DejaVu Serif Condensed','DejaVu Serif','Liberation Serif',serif" font-size="46.0" font-weight="normal" text-anchor="middle" fill="#fff" textLength="189.7" lengthAdjust="spacingAndGlyphs" stroke="#fff" stroke-width="0.8">Onset of</text>
<text x="1068.0" y="1283.0" font-family="'DejaVu Serif Condensed','DejaVu Serif','Liberation Serif',serif" font-size="46.0" font-weight="normal" text-anchor="middle" fill="#fff" textLength="180.1" lengthAdjust="spacingAndGlyphs" stroke="#fff" stroke-width="0.8">thermal</text>
<text x="1067.9" y="1346.8" font-family="'DejaVu Serif Condensed','DejaVu Serif','Liberation Serif',serif" font-size="46.0" font-weight="normal" text-anchor="middle" fill="#fff" textLength="198.6" lengthAdjust="spacingAndGlyphs" stroke="#fff" stroke-width="0.8">runaway</text>
<rect x="1451.5" y="910.3" width="43.5" height="661.1" fill="url(#cb)" stroke="#262626" stroke-width="1"/>
<path d="M1495.0 955.9 h-6.5" stroke="#262626" stroke-width="1"/>
<text x="1509.3" y="971.7" font-family="'DejaVu Serif Condensed','DejaVu Serif','Liberation Serif',serif" font-size="41.0" font-weight="normal" text-anchor="start" fill="#262626" textLength="75.5" lengthAdjust="spacingAndGlyphs">800</text>
<path d="M1495.0 1131.7 h-6.5" stroke="#262626" stroke-width="1"/>
<text x="1509.3" y="1147.5" font-family="'DejaVu Serif Condensed','DejaVu Serif','Liberation Serif',serif" font-size="41.0" font-weight="normal" text-anchor="start" fill="#262626" textLength="75.5" lengthAdjust="spacingAndGlyphs">600</text>
<path d="M1495.0 1307.4 h-6.5" stroke="#262626" stroke-width="1"/>
<text x="1509.3" y="1323.2" font-family="'DejaVu Serif Condensed','DejaVu Serif','Liberation Serif',serif" font-size="41.0" font-weight="normal" text-anchor="start" fill="#262626" textLength="75.5" lengthAdjust="spacingAndGlyphs">400</text>
<path d="M1495.0 1484.3 h-6.5" stroke="#262626" stroke-width="1"/>
<text x="1509.3" y="1500.1" font-family="'DejaVu Serif Condensed','DejaVu Serif','Liberation Serif',serif" font-size="41.0" font-weight="normal" text-anchor="start" fill="#262626" textLength="75.5" lengthAdjust="spacingAndGlyphs">200</text>
<text font-family="'Liberation Serif','DejaVu Serif',serif" font-weight="bold" font-size="43" y="877.2"><tspan x="1381.2" textLength="33.5" lengthAdjust="spacingAndGlyphs">T</tspan><tspan x="1417.5" dy="6.9" font-size="30" textLength="64" lengthAdjust="spacingAndGlyphs">max</tspan><tspan x="1487" dy="-2.2" font-weight="normal" font-size="51" textLength="11" lengthAdjust="spacingAndGlyphs">[</tspan><tspan x="1497.8" dy="-15.8" font-size="30" textLength="18.5" lengthAdjust="spacingAndGlyphs">o</tspan><tspan x="1518.6" dy="11.1" textLength="38.5" lengthAdjust="spacingAndGlyphs">C</tspan><tspan x="1553.6" dy="4.7" font-weight="normal" font-size="51" textLength="11" lengthAdjust="spacingAndGlyphs">]</tspan></text>
</svg></body></html>
